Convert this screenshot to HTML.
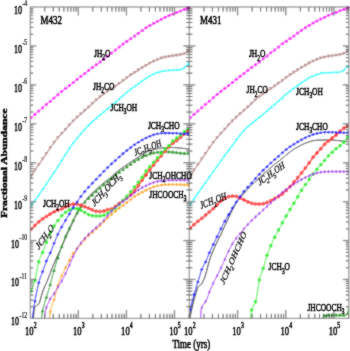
<!DOCTYPE html>
<html><head><meta charset="utf-8"><style>
html,body{margin:0;padding:0;background:#fff;}
svg{display:block;}
#w{width:350px;height:351px;overflow:hidden;}
</style></head><body><div id="w">
<svg xmlns="http://www.w3.org/2000/svg" width="350" height="351" viewBox="0 0 350 351">
<defs><filter id="bl" x="0" y="0" width="1" height="1"><feConvolveMatrix order="3" kernelMatrix="1 2 1 2 12 2 1 2 1" divisor="24" edgeMode="duplicate"/></filter><filter id="bl2" x="0" y="0" width="350" height="351" filterUnits="userSpaceOnUse"><feConvolveMatrix order="3" kernelMatrix="1 2 1 2 20 2 1 2 1" divisor="32" edgeMode="none"/></filter></defs>
<g filter="url(#bl)">
<rect width="350" height="351" fill="#fff"/>
<defs><clipPath id="cL"><rect x="30.30" y="7.00" width="159.00" height="311.40"/></clipPath><clipPath id="cR"><rect x="189.30" y="7.00" width="159.50" height="311.40"/></clipPath></defs>
<g clip-path="url(#cL)"><polyline points="30.30,118.50 30.70,118.15 31.10,117.80 31.50,117.44 31.90,117.09 32.30,116.72 32.70,116.36 33.10,116.00 33.50,115.64 33.90,115.27 34.30,114.91 34.70,114.56 35.10,114.20 35.50,113.85 35.90,113.50 36.30,113.15 36.70,112.80 37.10,112.45 37.50,112.11 37.90,111.76 38.30,111.42 38.70,111.07 39.10,110.73 39.50,110.39 39.90,110.05 40.30,109.71 40.70,109.37 41.10,109.04 41.50,108.70 41.90,108.36 42.30,108.02 42.70,107.67 43.10,107.32 43.50,106.97 43.90,106.61 44.30,106.25 44.70,105.88 45.10,105.52 45.50,105.16 45.90,104.80 46.30,104.45 46.70,104.10 47.10,103.76 47.50,103.43 47.90,103.10 48.30,102.78 48.70,102.45 49.10,102.13 49.50,101.81 49.90,101.48 50.30,101.15 50.70,100.82 51.10,100.48 51.50,100.13 51.90,99.78 52.30,99.44 52.70,99.09 53.10,98.74 53.50,98.39 53.90,98.04 54.30,97.70 54.70,97.36 55.10,97.02 55.50,96.69 55.90,96.35 56.30,96.02 56.70,95.69 57.10,95.35 57.50,95.02 57.90,94.68 58.30,94.35 58.70,94.01 59.10,93.66 59.50,93.32 59.90,92.98 60.30,92.63 60.70,92.29 61.10,91.95 61.50,91.62 61.90,91.28 62.30,90.95 62.70,90.62 63.10,90.29 63.50,89.97 63.90,89.64 64.30,89.32 64.70,89.00 65.10,88.69 65.50,88.38 65.90,88.07 66.30,87.77 66.70,87.47 67.10,87.18 67.50,86.89 67.90,86.60 68.30,86.31 68.70,86.02 69.10,85.73 69.50,85.43 69.90,85.12 70.30,84.82 70.70,84.50 71.10,84.19 71.50,83.88 71.90,83.56 72.30,83.24 72.70,82.92 73.10,82.60 73.50,82.28 73.90,81.96 74.30,81.64 74.70,81.31 75.10,80.98 75.50,80.65 75.90,80.33 76.30,80.00 76.70,79.68 77.10,79.36 77.50,79.04 77.90,78.73 78.30,78.42 78.70,78.11 79.10,77.80 79.50,77.50 79.90,77.19 80.30,76.89 80.70,76.58 81.10,76.28 81.50,75.97 81.90,75.67 82.30,75.36 82.70,75.06 83.10,74.75 83.50,74.45 83.90,74.15 84.30,73.84 84.70,73.53 85.10,73.22 85.50,72.91 85.90,72.59 86.30,72.28 86.70,71.96 87.10,71.64 87.50,71.32 87.90,71.00 88.30,70.69 88.70,70.38 89.10,70.07 89.50,69.76 89.90,69.46 90.30,69.16 90.70,68.86 91.10,68.56 91.50,68.26 91.90,67.97 92.30,67.67 92.70,67.38 93.10,67.09 93.50,66.80 93.90,66.52 94.30,66.23 94.70,65.95 95.10,65.66 95.50,65.38 95.90,65.09 96.30,64.80 96.70,64.51 97.10,64.22 97.50,63.93 97.90,63.64 98.30,63.34 98.70,63.05 99.10,62.75 99.50,62.45 99.90,62.15 100.30,61.85 100.70,61.54 101.10,61.22 101.50,60.90 101.90,60.58 102.30,60.26 102.70,59.93 103.10,59.61 103.50,59.29 103.90,58.98 104.30,58.67 104.70,58.36 105.10,58.05 105.50,57.74 105.90,57.44 106.30,57.13 106.70,56.83 107.10,56.52 107.50,56.21 107.90,55.90 108.30,55.59 108.70,55.27 109.10,54.96 109.50,54.64 109.90,54.32 110.30,54.00 110.70,53.69 111.10,53.37 111.50,53.06 111.90,52.74 112.30,52.43 112.70,52.13 113.10,51.82 113.50,51.51 113.90,51.21 114.30,50.90 114.70,50.60 115.10,50.29 115.50,49.98 115.90,49.67 116.30,49.35 116.70,49.04 117.10,48.72 117.50,48.41 117.90,48.09 118.30,47.77 118.70,47.45 119.10,47.14 119.50,46.82 119.90,46.50 120.30,46.18 120.70,45.86 121.10,45.53 121.50,45.21 121.90,44.90 122.30,44.58 122.70,44.28 123.10,43.98 123.50,43.68 123.90,43.39 124.30,43.10 124.70,42.81 125.10,42.53 125.50,42.25 125.90,41.97 126.30,41.69 126.70,41.41 127.10,41.13 127.50,40.86 127.90,40.58 128.30,40.31 128.70,40.05 129.10,39.78 129.50,39.51 129.90,39.24 130.30,38.97 130.70,38.70 131.10,38.43 131.50,38.16 131.90,37.89 132.30,37.61 132.70,37.34 133.10,37.06 133.50,36.78 133.90,36.51 134.30,36.23 134.70,35.94 135.10,35.66 135.50,35.37 135.90,35.07 136.30,34.78 136.70,34.48 137.10,34.18 137.50,33.88 137.90,33.58 138.30,33.29 138.70,33.00 139.10,32.71 139.50,32.43 139.90,32.15 140.30,31.87 140.70,31.60 141.10,31.32 141.50,31.04 141.90,30.76 142.30,30.48 142.70,30.20 143.10,29.91 143.50,29.62 143.90,29.32 144.30,29.03 144.70,28.73 145.10,28.45 145.50,28.17 145.90,27.90 146.30,27.63 146.70,27.37 147.10,27.12 147.50,26.86 147.90,26.61 148.30,26.36 148.70,26.12 149.10,25.88 149.50,25.64 149.90,25.40 150.30,25.17 150.70,24.93 151.10,24.71 151.50,24.48 151.90,24.26 152.30,24.03 152.70,23.81 153.10,23.59 153.50,23.37 153.90,23.15 154.30,22.94 154.70,22.72 155.10,22.50 155.50,22.28 155.90,22.07 156.30,21.85 156.70,21.64 157.10,21.43 157.50,21.21 157.90,21.00 158.30,20.79 158.70,20.57 159.10,20.36 159.50,20.15 159.90,19.93 160.30,19.72 160.70,19.51 161.10,19.31 161.50,19.10 161.90,18.90 162.30,18.70 162.70,18.50 163.10,18.30 163.50,18.11 163.90,17.92 164.30,17.72 164.70,17.53 165.10,17.34 165.50,17.15 165.90,16.96 166.30,16.76 166.70,16.57 167.10,16.37 167.50,16.18 167.90,15.99 168.30,15.80 168.70,15.62 169.10,15.44 169.50,15.27 169.90,15.11 170.30,14.94 170.70,14.78 171.10,14.62 171.50,14.47 171.90,14.32 172.30,14.16 172.70,14.01 173.10,13.86 173.50,13.72 173.90,13.57 174.30,13.43 174.70,13.30 175.10,13.16 175.50,13.02 175.90,12.88 176.30,12.73 176.70,12.58 177.10,12.42 177.50,12.25 177.90,12.07 178.30,11.89 178.70,11.70 179.10,11.52 179.50,11.34 179.90,11.16 180.30,11.00 180.70,10.84 181.10,10.69 181.50,10.54 181.90,10.39 182.30,10.25 182.70,10.11 183.10,9.97 183.50,9.83 183.90,9.70 184.30,9.57 184.70,9.44 185.10,9.31 185.50,9.19 185.90,9.07 186.30,8.95 186.70,8.83 187.10,8.71 187.50,8.59 187.90,8.46 188.30,8.33 188.70,8.20 189.10,8.07 189.30,8.00" fill="none" stroke="#ff00ff" stroke-width="1.0" stroke-linejoin="round"/><circle cx="31.10" cy="117.80" r="1.50" fill="#ff00ff"/><circle cx="34.93" cy="114.35" r="1.50" fill="#ff00ff"/><circle cx="38.76" cy="111.02" r="1.50" fill="#ff00ff"/><circle cx="42.59" cy="107.77" r="1.50" fill="#ff00ff"/><circle cx="46.42" cy="104.34" r="1.50" fill="#ff00ff"/><circle cx="50.25" cy="101.19" r="1.50" fill="#ff00ff"/><circle cx="54.08" cy="97.89" r="1.50" fill="#ff00ff"/><circle cx="57.91" cy="94.68" r="1.50" fill="#ff00ff"/><circle cx="61.74" cy="91.42" r="1.50" fill="#ff00ff"/><circle cx="65.57" cy="88.32" r="1.50" fill="#ff00ff"/><circle cx="69.40" cy="85.50" r="1.50" fill="#ff00ff"/><circle cx="73.23" cy="82.50" r="1.50" fill="#ff00ff"/><circle cx="77.06" cy="79.39" r="1.50" fill="#ff00ff"/><circle cx="80.89" cy="76.44" r="1.50" fill="#ff00ff"/><circle cx="84.72" cy="73.52" r="1.50" fill="#ff00ff"/><circle cx="88.55" cy="70.49" r="1.50" fill="#ff00ff"/><circle cx="92.38" cy="67.61" r="1.50" fill="#ff00ff"/><circle cx="96.21" cy="64.87" r="1.50" fill="#ff00ff"/><circle cx="100.04" cy="62.05" r="1.50" fill="#ff00ff"/><circle cx="103.87" cy="59.00" r="1.50" fill="#ff00ff"/><circle cx="107.70" cy="56.06" r="1.50" fill="#ff00ff"/><circle cx="111.53" cy="53.03" r="1.50" fill="#ff00ff"/><circle cx="115.36" cy="50.09" r="1.50" fill="#ff00ff"/><circle cx="119.19" cy="47.07" r="1.50" fill="#ff00ff"/><circle cx="123.02" cy="44.03" r="1.50" fill="#ff00ff"/><circle cx="126.85" cy="41.30" r="1.50" fill="#ff00ff"/><circle cx="130.68" cy="38.72" r="1.50" fill="#ff00ff"/><circle cx="134.51" cy="36.08" r="1.50" fill="#ff00ff"/><circle cx="138.34" cy="33.26" r="1.50" fill="#ff00ff"/><circle cx="142.17" cy="30.57" r="1.50" fill="#ff00ff"/><circle cx="146.00" cy="27.83" r="1.50" fill="#ff00ff"/><circle cx="149.83" cy="25.44" r="1.50" fill="#ff00ff"/><circle cx="153.66" cy="23.29" r="1.50" fill="#ff00ff"/><circle cx="157.49" cy="21.22" r="1.50" fill="#ff00ff"/><circle cx="161.32" cy="19.19" r="1.50" fill="#ff00ff"/><circle cx="165.15" cy="17.32" r="1.50" fill="#ff00ff"/><circle cx="168.98" cy="15.50" r="1.50" fill="#ff00ff"/><circle cx="172.81" cy="13.97" r="1.50" fill="#ff00ff"/><circle cx="176.64" cy="12.60" r="1.50" fill="#ff00ff"/><circle cx="180.47" cy="10.93" r="1.50" fill="#ff00ff"/><circle cx="184.30" cy="9.57" r="1.50" fill="#ff00ff"/><circle cx="188.13" cy="8.39" r="1.50" fill="#ff00ff"/></g>
<g clip-path="url(#cL)"><polyline points="30.30,177.40 30.70,176.85 31.10,176.29 31.50,175.70 31.90,175.07 32.30,174.43 32.70,173.76 33.10,173.08 33.50,172.40 33.90,171.73 34.30,171.07 34.70,170.42 35.10,169.80 35.50,169.20 35.90,168.62 36.30,168.06 36.70,167.50 37.10,166.95 37.50,166.40 37.90,165.85 38.30,165.29 38.70,164.73 39.10,164.16 39.50,163.57 39.90,162.99 40.30,162.40 40.70,161.81 41.10,161.21 41.50,160.62 41.90,160.02 42.30,159.43 42.70,158.85 43.10,158.26 43.50,157.68 43.90,157.11 44.30,156.53 44.70,155.96 45.10,155.38 45.50,154.81 45.90,154.23 46.30,153.65 46.70,153.06 47.10,152.46 47.50,151.86 47.90,151.26 48.30,150.66 48.70,150.06 49.10,149.46 49.50,148.87 49.90,148.29 50.30,147.71 50.70,147.14 51.10,146.57 51.50,146.01 51.90,145.45 52.30,144.89 52.70,144.34 53.10,143.80 53.50,143.26 53.90,142.74 54.30,142.22 54.70,141.70 55.10,141.19 55.50,140.69 55.90,140.19 56.30,139.69 56.70,139.21 57.10,138.73 57.50,138.25 57.90,137.78 58.30,137.32 58.70,136.87 59.10,136.43 59.50,135.99 59.90,135.56 60.30,135.13 60.70,134.70 61.10,134.27 61.50,133.84 61.90,133.40 62.30,132.96 62.70,132.52 63.10,132.09 63.50,131.65 63.90,131.21 64.30,130.77 64.70,130.33 65.10,129.89 65.50,129.45 65.90,129.00 66.30,128.55 66.70,128.09 67.10,127.64 67.50,127.18 67.90,126.72 68.30,126.26 68.70,125.80 69.10,125.35 69.50,124.91 69.90,124.47 70.30,124.04 70.70,123.61 71.10,123.18 71.50,122.75 71.90,122.33 72.30,121.92 72.70,121.51 73.10,121.10 73.50,120.70 73.90,120.31 74.30,119.92 74.70,119.53 75.10,119.15 75.50,118.77 75.90,118.40 76.30,118.02 76.70,117.65 77.10,117.28 77.50,116.92 77.90,116.55 78.30,116.19 78.70,115.83 79.10,115.47 79.50,115.11 79.90,114.76 80.30,114.41 80.70,114.05 81.10,113.70 81.50,113.35 81.90,113.00 82.30,112.65 82.70,112.30 83.10,111.96 83.50,111.61 83.90,111.27 84.30,110.92 84.70,110.57 85.10,110.23 85.50,109.88 85.90,109.54 86.30,109.20 86.70,108.86 87.10,108.52 87.50,108.17 87.90,107.82 88.30,107.46 88.70,107.10 89.10,106.73 89.50,106.35 89.90,105.96 90.30,105.57 90.70,105.18 91.10,104.78 91.50,104.39 91.90,103.99 92.30,103.60 92.70,103.21 93.10,102.81 93.50,102.41 93.90,102.01 94.30,101.61 94.70,101.22 95.10,100.84 95.50,100.48 95.90,100.13 96.30,99.78 96.70,99.45 97.10,99.12 97.50,98.80 97.90,98.49 98.30,98.18 98.70,97.87 99.10,97.56 99.50,97.25 99.90,96.95 100.30,96.65 100.70,96.35 101.10,96.05 101.50,95.76 101.90,95.47 102.30,95.18 102.70,94.89 103.10,94.60 103.50,94.30 103.90,94.00 104.30,93.70 104.70,93.39 105.10,93.08 105.50,92.78 105.90,92.47 106.30,92.18 106.70,91.88 107.10,91.60 107.50,91.32 107.90,91.06 108.30,90.79 108.70,90.53 109.10,90.28 109.50,90.02 109.90,89.77 110.30,89.52 110.70,89.26 111.10,89.00 111.50,88.74 111.90,88.48 112.30,88.22 112.70,87.96 113.10,87.70 113.50,87.44 113.90,87.18 114.30,86.91 114.70,86.64 115.10,86.36 115.50,86.08 115.90,85.79 116.30,85.49 116.70,85.20 117.10,84.90 117.50,84.60 117.90,84.31 118.30,84.02 118.70,83.73 119.10,83.45 119.50,83.17 119.90,82.89 120.30,82.62 120.70,82.34 121.10,82.06 121.50,81.79 121.90,81.50 122.30,81.22 122.70,80.93 123.10,80.63 123.50,80.32 123.90,80.02 124.30,79.71 124.70,79.39 125.10,79.08 125.50,78.77 125.90,78.46 126.30,78.15 126.70,77.85 127.10,77.55 127.50,77.24 127.90,76.94 128.30,76.64 128.70,76.33 129.10,76.04 129.50,75.74 129.90,75.46 130.30,75.17 130.70,74.90 131.10,74.63 131.50,74.37 131.90,74.12 132.30,73.87 132.70,73.63 133.10,73.38 133.50,73.14 133.90,72.90 134.30,72.65 134.70,72.40 135.10,72.15 135.50,71.90 135.90,71.64 136.30,71.39 136.70,71.14 137.10,70.89 137.50,70.63 137.90,70.38 138.30,70.13 138.70,69.87 139.10,69.62 139.50,69.36 139.90,69.10 140.30,68.84 140.70,68.58 141.10,68.32 141.50,68.07 141.90,67.82 142.30,67.58 142.70,67.34 143.10,67.11 143.50,66.88 143.90,66.65 144.30,66.42 144.70,66.20 145.10,65.97 145.50,65.74 145.90,65.52 146.30,65.28 146.70,65.05 147.10,64.82 147.50,64.58 147.90,64.34 148.30,64.11 148.70,63.88 149.10,63.65 149.50,63.42 149.90,63.20 150.30,62.98 150.70,62.77 151.10,62.55 151.50,62.34 151.90,62.14 152.30,61.93 152.70,61.73 153.10,61.54 153.50,61.35 153.90,61.16 154.30,60.98 154.70,60.81 155.10,60.64 155.50,60.47 155.90,60.30 156.30,60.13 156.70,59.97 157.10,59.81 157.50,59.64 157.90,59.47 158.30,59.30 158.70,59.12 159.10,58.95 159.50,58.78 159.90,58.61 160.30,58.45 160.70,58.30 161.10,58.16 161.50,58.04 161.90,57.93 162.30,57.83 162.70,57.73 163.10,57.63 163.50,57.55 163.90,57.46 164.30,57.37 164.70,57.29 165.10,57.20 165.50,57.11 165.90,57.02 166.30,56.93 166.70,56.85 167.10,56.76 167.50,56.68 167.90,56.60 168.30,56.52 168.70,56.45 169.10,56.38 169.50,56.33 169.90,56.27 170.30,56.22 170.70,56.17 171.10,56.12 171.50,56.08 171.90,56.03 172.30,55.98 172.70,55.93 173.10,55.87 173.50,55.81 173.90,55.75 174.30,55.69 174.70,55.62 175.10,55.56 175.50,55.49 175.90,55.43 176.30,55.36 176.70,55.30 177.10,55.24 177.50,55.18 177.90,55.13 178.30,55.07 178.70,55.02 179.10,54.96 179.50,54.90 179.90,54.83 180.30,54.76 180.70,54.68 181.10,54.59 181.50,54.50 181.90,54.40 182.30,54.30 182.70,54.18 183.10,54.06 183.50,53.93 183.90,53.79 184.30,53.64 184.70,53.47 185.10,53.28 185.50,53.06 185.90,52.83 186.30,52.58 186.70,52.32 187.10,52.05 187.50,51.79 187.90,51.54 188.30,51.27 188.70,51.01 189.10,50.73 189.30,50.60" fill="none" stroke="#bc8f8f" stroke-width="1.2" stroke-linejoin="round"/><path d="M29.25,174.81L32.95,174.81L31.10,178.14Z" fill="#bc8f8f"/><path d="M33.08,168.58L36.78,168.58L34.93,171.91Z" fill="#bc8f8f"/><path d="M36.91,163.16L40.61,163.16L38.76,166.49Z" fill="#bc8f8f"/><path d="M40.74,157.53L44.44,157.53L42.59,160.86Z" fill="#bc8f8f"/><path d="M44.57,151.99L48.27,151.99L46.42,155.32Z" fill="#bc8f8f"/><path d="M48.40,146.30L52.10,146.30L50.25,149.63Z" fill="#bc8f8f"/><path d="M52.23,141.02L55.93,141.02L54.08,144.35Z" fill="#bc8f8f"/><path d="M56.06,136.29L59.76,136.29L57.91,139.62Z" fill="#bc8f8f"/><path d="M59.89,132.10L63.59,132.10L61.74,135.43Z" fill="#bc8f8f"/><path d="M63.72,127.89L67.42,127.89L65.57,131.22Z" fill="#bc8f8f"/><path d="M67.55,123.54L71.25,123.54L69.40,126.87Z" fill="#bc8f8f"/><path d="M71.38,119.49L75.08,119.49L73.23,122.82Z" fill="#bc8f8f"/><path d="M75.21,115.84L78.91,115.84L77.06,119.17Z" fill="#bc8f8f"/><path d="M79.04,112.41L82.74,112.41L80.89,115.74Z" fill="#bc8f8f"/><path d="M82.87,109.08L86.57,109.08L84.72,112.41Z" fill="#bc8f8f"/><path d="M86.70,105.76L90.40,105.76L88.55,109.09Z" fill="#bc8f8f"/><path d="M90.53,102.04L94.23,102.04L92.38,105.37Z" fill="#bc8f8f"/><path d="M94.36,98.38L98.06,98.38L96.21,101.71Z" fill="#bc8f8f"/><path d="M98.19,95.36L101.89,95.36L100.04,98.69Z" fill="#bc8f8f"/><path d="M102.02,92.54L105.72,92.54L103.87,95.87Z" fill="#bc8f8f"/><path d="M105.85,89.71L109.55,89.71L107.70,93.04Z" fill="#bc8f8f"/><path d="M109.68,87.24L113.38,87.24L111.53,90.57Z" fill="#bc8f8f"/><path d="M113.51,84.70L117.21,84.70L115.36,88.03Z" fill="#bc8f8f"/><path d="M117.34,81.90L121.04,81.90L119.19,85.23Z" fill="#bc8f8f"/><path d="M121.17,79.21L124.87,79.21L123.02,82.54Z" fill="#bc8f8f"/><path d="M125.00,76.26L128.70,76.26L126.85,79.59Z" fill="#bc8f8f"/><path d="M128.83,73.43L132.53,73.43L130.68,76.76Z" fill="#bc8f8f"/><path d="M132.66,71.04L136.36,71.04L134.51,74.37Z" fill="#bc8f8f"/><path d="M136.49,68.62L140.19,68.62L138.34,71.95Z" fill="#bc8f8f"/><path d="M140.32,66.18L144.02,66.18L142.17,69.51Z" fill="#bc8f8f"/><path d="M144.15,63.98L147.85,63.98L146.00,67.31Z" fill="#bc8f8f"/><path d="M147.98,61.76L151.68,61.76L149.83,65.09Z" fill="#bc8f8f"/><path d="M151.81,59.79L155.51,59.79L153.66,63.12Z" fill="#bc8f8f"/><path d="M155.64,58.17L159.34,58.17L157.49,61.50Z" fill="#bc8f8f"/><path d="M159.47,56.61L163.17,56.61L161.32,59.94Z" fill="#bc8f8f"/><path d="M163.30,55.71L167.00,55.71L165.15,59.04Z" fill="#bc8f8f"/><path d="M167.13,54.92L170.83,54.92L168.98,58.25Z" fill="#bc8f8f"/><path d="M170.96,54.43L174.66,54.43L172.81,57.76Z" fill="#bc8f8f"/><path d="M174.79,53.83L178.49,53.83L176.64,57.16Z" fill="#bc8f8f"/><path d="M178.62,53.25L182.32,53.25L180.47,56.58Z" fill="#bc8f8f"/><path d="M182.45,52.16L186.15,52.16L184.30,55.49Z" fill="#bc8f8f"/><path d="M186.28,49.91L189.98,49.91L188.13,53.24Z" fill="#bc8f8f"/></g>
<g clip-path="url(#cL)"><polyline points="30.30,206.50 30.70,206.05 31.10,205.58 31.50,205.09 31.90,204.59 32.30,204.09 32.70,203.57 33.10,203.05 33.50,202.52 33.90,201.99 34.30,201.45 34.70,200.91 35.10,200.36 35.50,199.81 35.90,199.25 36.30,198.69 36.70,198.12 37.10,197.54 37.50,196.96 37.90,196.38 38.30,195.80 38.70,195.22 39.10,194.64 39.50,194.06 39.90,193.47 40.30,192.89 40.70,192.31 41.10,191.72 41.50,191.14 41.90,190.55 42.30,189.96 42.70,189.37 43.10,188.79 43.50,188.20 43.90,187.61 44.30,187.03 44.70,186.45 45.10,185.86 45.50,185.28 45.90,184.70 46.30,184.11 46.70,183.52 47.10,182.94 47.50,182.34 47.90,181.75 48.30,181.15 48.70,180.55 49.10,179.95 49.50,179.34 49.90,178.73 50.30,178.12 50.70,177.51 51.10,176.90 51.50,176.28 51.90,175.67 52.30,175.06 52.70,174.46 53.10,173.85 53.50,173.25 53.90,172.64 54.30,172.05 54.70,171.45 55.10,170.85 55.50,170.25 55.90,169.65 56.30,169.05 56.70,168.45 57.10,167.84 57.50,167.23 57.90,166.62 58.30,166.00 58.70,165.37 59.10,164.74 59.50,164.10 59.90,163.46 60.30,162.81 60.70,162.16 61.10,161.51 61.50,160.86 61.90,160.20 62.30,159.55 62.70,158.90 63.10,158.25 63.50,157.60 63.90,156.95 64.30,156.31 64.70,155.67 65.10,155.04 65.50,154.41 65.90,153.78 66.30,153.15 66.70,152.52 67.10,151.89 67.50,151.27 67.90,150.65 68.30,150.03 68.70,149.43 69.10,148.82 69.50,148.23 69.90,147.64 70.30,147.07 70.70,146.50 71.10,145.93 71.50,145.37 71.90,144.82 72.30,144.27 72.70,143.72 73.10,143.19 73.50,142.66 73.90,142.14 74.30,141.63 74.70,141.12 75.10,140.62 75.50,140.13 75.90,139.64 76.30,139.16 76.70,138.69 77.10,138.22 77.50,137.75 77.90,137.29 78.30,136.82 78.70,136.37 79.10,135.91 79.50,135.45 79.90,135.00 80.30,134.54 80.70,134.09 81.10,133.63 81.50,133.17 81.90,132.71 82.30,132.25 82.70,131.79 83.10,131.32 83.50,130.86 83.90,130.40 84.30,129.94 84.70,129.48 85.10,129.03 85.50,128.58 85.90,128.13 86.30,127.69 86.70,127.26 87.10,126.83 87.50,126.41 87.90,126.00 88.30,125.60 88.70,125.20 89.10,124.82 89.50,124.43 89.90,124.06 90.30,123.68 90.70,123.32 91.10,122.95 91.50,122.59 91.90,122.23 92.30,121.88 92.70,121.52 93.10,121.17 93.50,120.82 93.90,120.47 94.30,120.12 94.70,119.76 95.10,119.41 95.50,119.06 95.90,118.71 96.30,118.36 96.70,118.01 97.10,117.66 97.50,117.31 97.90,116.97 98.30,116.62 98.70,116.28 99.10,115.94 99.50,115.60 99.90,115.26 100.30,114.92 100.70,114.58 101.10,114.24 101.50,113.90 101.90,113.56 102.30,113.23 102.70,112.89 103.10,112.55 103.50,112.22 103.90,111.88 104.30,111.55 104.70,111.22 105.10,110.89 105.50,110.56 105.90,110.23 106.30,109.90 106.70,109.57 107.10,109.25 107.50,108.92 107.90,108.60 108.30,108.27 108.70,107.95 109.10,107.62 109.50,107.30 109.90,106.97 110.30,106.64 110.70,106.32 111.10,105.99 111.50,105.66 111.90,105.33 112.30,105.00 112.70,104.67 113.10,104.33 113.50,104.00 113.90,103.66 114.30,103.33 114.70,102.99 115.10,102.66 115.50,102.32 115.90,101.99 116.30,101.65 116.70,101.31 117.10,100.97 117.50,100.64 117.90,100.29 118.30,99.95 118.70,99.61 119.10,99.26 119.50,98.92 119.90,98.57 120.30,98.22 120.70,97.87 121.10,97.51 121.50,97.15 121.90,96.78 122.30,96.41 122.70,96.04 123.10,95.66 123.50,95.28 123.90,94.91 124.30,94.53 124.70,94.16 125.10,93.80 125.50,93.44 125.90,93.09 126.30,92.74 126.70,92.40 127.10,92.06 127.50,91.73 127.90,91.40 128.30,91.08 128.70,90.75 129.10,90.43 129.50,90.12 129.90,89.81 130.30,89.50 130.70,89.20 131.10,88.90 131.50,88.61 131.90,88.32 132.30,88.03 132.70,87.75 133.10,87.47 133.50,87.18 133.90,86.90 134.30,86.62 134.70,86.33 135.10,86.04 135.50,85.75 135.90,85.47 136.30,85.18 136.70,84.89 137.10,84.60 137.50,84.32 137.90,84.03 138.30,83.74 138.70,83.46 139.10,83.17 139.50,82.88 139.90,82.58 140.30,82.29 140.70,82.00 141.10,81.71 141.50,81.43 141.90,81.15 142.30,80.87 142.70,80.60 143.10,80.33 143.50,80.06 143.90,79.80 144.30,79.54 144.70,79.28 145.10,79.03 145.50,78.77 145.90,78.52 146.30,78.26 146.70,78.01 147.10,77.75 147.50,77.49 147.90,77.24 148.30,76.98 148.70,76.73 149.10,76.48 149.50,76.25 149.90,76.02 150.30,75.80 150.70,75.59 151.10,75.38 151.50,75.17 151.90,74.97 152.30,74.76 152.70,74.56 153.10,74.36 153.50,74.17 153.90,73.98 154.30,73.79 154.70,73.61 155.10,73.43 155.50,73.26 155.90,73.09 156.30,72.93 156.70,72.78 157.10,72.63 157.50,72.49 157.90,72.36 158.30,72.24 158.70,72.12 159.10,72.01 159.50,71.91 159.90,71.81 160.30,71.72 160.70,71.63 161.10,71.54 161.50,71.46 161.90,71.37 162.30,71.29 162.70,71.21 163.10,71.13 163.50,71.06 163.90,70.98 164.30,70.92 164.70,70.86 165.10,70.80 165.50,70.75 165.90,70.70 166.30,70.64 166.70,70.60 167.10,70.55 167.50,70.51 167.90,70.47 168.30,70.44 168.70,70.41 169.10,70.40 169.50,70.38 169.90,70.37 170.30,70.36 170.70,70.35 171.10,70.34 171.50,70.34 171.90,70.33 172.30,70.32 172.70,70.31 173.10,70.29 173.50,70.28 173.90,70.26 174.30,70.24 174.70,70.22 175.10,70.20 175.50,70.18 175.90,70.16 176.30,70.13 176.70,70.10 177.10,70.07 177.50,70.03 177.90,70.00 178.30,69.96 178.70,69.91 179.10,69.86 179.50,69.80 179.90,69.73 180.30,69.66 180.70,69.58 181.10,69.47 181.50,69.32 181.90,69.14 182.30,68.94 182.70,68.71 183.10,68.47 183.50,68.21 183.90,67.94 184.30,67.67 184.70,67.38 185.10,67.06 185.50,66.70 185.90,66.32 186.30,65.91 186.70,65.48 187.10,65.04 187.50,64.60 187.90,64.15 188.30,63.70 188.70,63.23 189.10,62.74 189.30,62.50" fill="none" stroke="#00ffff" stroke-width="1.2" stroke-linejoin="round"/><path d="M29.80,205.58L31.10,204.28L32.40,205.58L31.10,206.88Z" fill="#00ffff"/><path d="M33.63,200.60L34.93,199.30L36.23,200.60L34.93,201.90Z" fill="#00ffff"/><path d="M37.46,195.13L38.76,193.83L40.06,195.13L38.76,196.43Z" fill="#00ffff"/><path d="M41.29,189.54L42.59,188.24L43.89,189.54L42.59,190.84Z" fill="#00ffff"/><path d="M45.12,183.94L46.42,182.64L47.72,183.94L46.42,185.24Z" fill="#00ffff"/><path d="M48.95,178.20L50.25,176.90L51.55,178.20L50.25,179.50Z" fill="#00ffff"/><path d="M52.78,172.37L54.08,171.07L55.38,172.37L54.08,173.67Z" fill="#00ffff"/><path d="M56.61,166.60L57.91,165.30L59.21,166.60L57.91,167.90Z" fill="#00ffff"/><path d="M60.44,160.47L61.74,159.17L63.04,160.47L61.74,161.77Z" fill="#00ffff"/><path d="M64.27,154.30L65.57,153.00L66.87,154.30L65.57,155.60Z" fill="#00ffff"/><path d="M68.10,148.38L69.40,147.08L70.70,148.38L69.40,149.68Z" fill="#00ffff"/><path d="M71.93,143.02L73.23,141.72L74.53,143.02L73.23,144.32Z" fill="#00ffff"/><path d="M75.76,138.26L77.06,136.96L78.36,138.26L77.06,139.56Z" fill="#00ffff"/><path d="M79.59,133.87L80.89,132.57L82.19,133.87L80.89,135.17Z" fill="#00ffff"/><path d="M83.42,129.46L84.72,128.16L86.02,129.46L84.72,130.76Z" fill="#00ffff"/><path d="M87.25,125.35L88.55,124.05L89.85,125.35L88.55,126.65Z" fill="#00ffff"/><path d="M91.08,121.81L92.38,120.51L93.68,121.81L92.38,123.11Z" fill="#00ffff"/><path d="M94.91,118.44L96.21,117.14L97.51,118.44L96.21,119.74Z" fill="#00ffff"/><path d="M98.74,115.14L100.04,113.84L101.34,115.14L100.04,116.44Z" fill="#00ffff"/><path d="M102.57,111.91L103.87,110.61L105.17,111.91L103.87,113.21Z" fill="#00ffff"/><path d="M106.40,108.76L107.70,107.46L109.00,108.76L107.70,110.06Z" fill="#00ffff"/><path d="M110.23,105.64L111.53,104.34L112.83,105.64L111.53,106.94Z" fill="#00ffff"/><path d="M114.06,102.44L115.36,101.14L116.66,102.44L115.36,103.74Z" fill="#00ffff"/><path d="M117.89,99.19L119.19,97.89L120.49,99.19L119.19,100.49Z" fill="#00ffff"/><path d="M121.72,95.74L123.02,94.44L124.32,95.74L123.02,97.04Z" fill="#00ffff"/><path d="M125.55,92.27L126.85,90.97L128.15,92.27L126.85,93.57Z" fill="#00ffff"/><path d="M129.38,89.21L130.68,87.91L131.98,89.21L130.68,90.51Z" fill="#00ffff"/><path d="M133.21,86.46L134.51,85.16L135.81,86.46L134.51,87.76Z" fill="#00ffff"/><path d="M137.04,83.71L138.34,82.41L139.64,83.71L138.34,85.01Z" fill="#00ffff"/><path d="M140.87,80.96L142.17,79.66L143.47,80.96L142.17,82.26Z" fill="#00ffff"/><path d="M144.70,78.45L146.00,77.15L147.30,78.45L146.00,79.75Z" fill="#00ffff"/><path d="M148.53,76.06L149.83,74.76L151.13,76.06L149.83,77.36Z" fill="#00ffff"/><path d="M152.36,74.09L153.66,72.79L154.96,74.09L153.66,75.39Z" fill="#00ffff"/><path d="M156.19,72.50L157.49,71.20L158.79,72.50L157.49,73.80Z" fill="#00ffff"/><path d="M160.02,71.50L161.32,70.20L162.62,71.50L161.32,72.80Z" fill="#00ffff"/><path d="M163.85,70.79L165.15,69.49L166.45,70.79L165.15,72.09Z" fill="#00ffff"/><path d="M167.68,70.40L168.98,69.10L170.28,70.40L168.98,71.70Z" fill="#00ffff"/><path d="M171.51,70.30L172.81,69.00L174.11,70.30L172.81,71.60Z" fill="#00ffff"/><path d="M175.34,70.10L176.64,68.80L177.94,70.10L176.64,71.40Z" fill="#00ffff"/><path d="M179.17,69.63L180.47,68.33L181.77,69.63L180.47,70.93Z" fill="#00ffff"/><path d="M183.00,67.67L184.30,66.37L185.60,67.67L184.30,68.97Z" fill="#00ffff"/><path d="M186.83,63.89L188.13,62.59L189.43,63.89L188.13,65.19Z" fill="#00ffff"/></g>
<g clip-path="url(#cL)"><polyline points="33.30,318.50 33.70,314.12 34.10,309.93 34.50,307.96 34.90,307.21 35.30,306.71 35.70,306.30 36.10,305.91 36.50,305.57 36.90,305.27 37.30,304.96 37.70,304.64 38.10,304.35 38.50,304.06 38.90,303.70 39.30,303.20 39.70,302.15 40.10,300.56 40.50,299.00 40.90,297.63 41.30,296.25 41.70,294.88 42.10,293.54 42.50,292.26 42.90,291.06 43.30,289.96 43.70,288.93 44.10,287.96 44.50,287.04 44.90,286.14 45.30,285.27 45.70,284.41 46.10,283.53 46.50,282.64 46.90,281.72 47.30,280.75 47.70,279.75 48.10,278.73 48.50,277.68 48.90,276.62 49.30,275.56 49.70,274.49 50.10,273.41 50.50,272.35 50.90,271.30 51.30,270.26 51.70,269.24 52.10,268.25 52.50,267.28 52.90,266.31 53.30,265.35 53.70,264.40 54.10,263.46 54.50,262.52 54.90,261.60 55.30,260.68 55.70,259.77 56.10,258.87 56.50,257.98 56.90,257.09 57.30,256.22 57.70,255.36 58.10,254.52 58.50,253.71 58.90,252.90 59.30,252.09 59.70,251.27 60.10,250.43 60.50,249.56 60.90,248.67 61.30,247.77 61.70,246.85 62.10,245.92 62.50,244.99 62.90,244.05 63.30,243.12 63.70,242.19 64.10,241.27 64.50,240.35 64.90,239.43 65.30,238.50 65.70,237.58 66.10,236.65 66.50,235.74 66.90,234.84 67.30,233.94 67.70,233.06 68.10,232.20 68.50,231.34 68.90,230.50 69.30,229.66 69.70,228.82 70.10,227.98 70.50,227.14 70.90,226.29 71.30,225.42 71.70,224.54 72.10,223.65 72.50,222.76 72.90,221.88 73.30,221.01 73.70,220.15 74.10,219.31 74.50,218.50 74.90,217.71 75.30,216.94 75.70,216.18 76.10,215.44 76.50,214.71 76.90,213.98 77.30,213.27 77.70,212.56 78.10,211.85 78.50,211.15 78.90,210.45 79.30,209.74 79.70,209.05 80.10,208.36 80.50,207.68 80.90,207.02 81.30,206.38 81.70,205.75 82.10,205.15 82.50,204.57 82.90,204.01 83.30,203.47 83.70,202.94 84.10,202.42 84.50,201.90 84.90,201.39 85.30,200.89 85.70,200.38 86.10,199.87 86.50,199.36 86.90,198.84 87.30,198.32 87.70,197.82 88.10,197.32 88.50,196.85 88.90,196.41 89.30,195.99 89.70,195.60 90.10,195.22 90.50,194.86 90.90,194.51 91.30,194.16 91.70,193.82 92.10,193.46 92.50,193.09 92.90,192.71 93.30,192.33 93.70,191.94 94.10,191.55 94.50,191.15 94.90,190.75 95.30,190.36 95.70,189.97 96.10,189.59 96.50,189.21 96.90,188.83 97.30,188.45 97.70,188.08 98.10,187.71 98.50,187.34 98.90,186.98 99.30,186.62 99.70,186.26 100.10,185.91 100.50,185.57 100.90,185.23 101.30,184.90 101.70,184.56 102.10,184.24 102.50,183.91 102.90,183.59 103.30,183.26 103.70,182.94 104.10,182.62 104.50,182.30 104.90,181.99 105.30,181.68 105.70,181.37 106.10,181.06 106.50,180.76 106.90,180.45 107.30,180.15 107.70,179.84 108.10,179.53 108.50,179.22 108.90,178.90 109.30,178.58 109.70,178.25 110.10,177.92 110.50,177.57 110.90,177.22 111.30,176.86 111.70,176.49 112.10,176.13 112.50,175.75 112.90,175.38 113.30,175.01 113.70,174.65 114.10,174.29 114.50,173.93 114.90,173.59 115.30,173.25 115.70,172.91 116.10,172.58 116.50,172.25 116.90,171.92 117.30,171.60 117.70,171.28 118.10,170.96 118.50,170.65 118.90,170.34 119.30,170.03 119.70,169.73 120.10,169.43 120.50,169.13 120.90,168.84 121.30,168.56 121.70,168.28 122.10,168.00 122.50,167.72 122.90,167.45 123.30,167.17 123.70,166.90 124.10,166.62 124.50,166.35 124.90,166.07 125.30,165.79 125.70,165.51 126.10,165.23 126.50,164.94 126.90,164.66 127.30,164.38 127.70,164.10 128.10,163.81 128.50,163.53 128.90,163.26 129.30,162.98 129.70,162.70 130.10,162.43 130.50,162.16 130.90,161.90 131.30,161.63 131.70,161.37 132.10,161.11 132.50,160.84 132.90,160.58 133.30,160.32 133.70,160.06 134.10,159.80 134.50,159.53 134.90,159.27 135.30,159.00 135.70,158.73 136.10,158.46 136.50,158.18 136.90,157.91 137.30,157.63 137.70,157.36 138.10,157.08 138.50,156.81 138.90,156.54 139.30,156.27 139.70,156.00 140.10,155.73 140.50,155.46 140.90,155.19 141.30,154.92 141.70,154.64 142.10,154.38 142.50,154.11 142.90,153.86 143.30,153.62 143.70,153.40 144.10,153.19 144.50,152.98 144.90,152.77 145.30,152.57 145.70,152.38 146.10,152.19 146.50,152.01 146.90,151.83 147.30,151.66 147.70,151.49 148.10,151.33 148.50,151.18 148.90,151.04 149.30,150.90 149.70,150.76 150.10,150.63 150.50,150.51 150.90,150.39 151.30,150.27 151.70,150.16 152.10,150.05 152.50,149.94 152.90,149.83 153.30,149.73 153.70,149.63 154.10,149.53 154.50,149.42 154.90,149.32 155.30,149.22 155.70,149.12 156.10,149.02 156.50,148.92 156.90,148.83 157.30,148.73 157.70,148.64 158.10,148.55 158.50,148.47 158.90,148.39 159.30,148.31 159.70,148.25 160.10,148.19 160.50,148.12 160.90,148.06 161.30,148.00 161.70,147.94 162.10,147.88 162.50,147.83 162.90,147.77 163.30,147.72 163.70,147.67 164.10,147.63 164.50,147.59 164.90,147.56 165.30,147.53 165.70,147.51 166.10,147.50 166.50,147.50 166.90,147.50 167.30,147.50 167.70,147.50 168.10,147.50 168.50,147.50 168.90,147.50 169.30,147.50 169.70,147.50 170.10,147.50 170.50,147.50 170.90,147.50 171.30,147.50 171.70,147.50 172.10,147.50 172.50,147.51 172.90,147.52 173.30,147.53 173.70,147.55 174.10,147.58 174.50,147.61 174.90,147.64 175.30,147.68 175.70,147.71 176.10,147.75 176.50,147.79 176.90,147.82 177.30,147.86 177.70,147.89 178.10,147.92 178.50,147.96 178.90,147.99 179.30,148.03 179.70,148.07 180.10,148.10 180.50,148.14 180.90,148.18 181.30,148.22 181.70,148.26 182.10,148.30 182.50,148.34 182.90,148.39 183.30,148.43 183.70,148.47 184.10,148.51 184.50,148.55 184.90,148.60 185.30,148.64 185.70,148.69 186.10,148.73 186.50,148.78 186.90,148.82 187.30,148.87 187.70,148.92 188.10,148.96 188.50,149.01 188.90,149.05 189.30,149.10" fill="none" stroke="#000000" stroke-width="1" stroke-linejoin="round"/></g>
<g clip-path="url(#cL)"><polyline points="41.40,318.50 41.80,315.80 42.20,313.09 42.60,310.75 43.00,308.92 43.40,307.34 43.80,305.91 44.20,304.54 44.60,303.15 45.00,301.75 45.40,300.40 45.80,299.07 46.20,297.77 46.60,296.48 47.00,295.24 47.40,294.03 47.80,292.83 48.20,291.61 48.60,290.33 49.00,288.97 49.40,287.55 49.80,286.07 50.20,284.58 50.60,283.10 51.00,281.61 51.40,280.11 51.80,278.61 52.20,277.11 52.60,275.63 53.00,274.17 53.40,272.71 53.80,271.27 54.20,269.85 54.60,268.45 55.00,267.05 55.40,265.66 55.80,264.30 56.20,262.97 56.60,261.68 57.00,260.45 57.40,259.26 57.80,258.08 58.20,256.90 58.60,255.70 59.00,254.49 59.40,253.28 59.80,252.06 60.20,250.85 60.60,249.65 61.00,248.47 61.40,247.30 61.80,246.16 62.20,245.05 62.60,243.94 63.00,242.85 63.40,241.77 63.80,240.71 64.20,239.66 64.60,238.63 65.00,237.62 65.40,236.63 65.80,235.67 66.20,234.74 66.60,233.83 67.00,232.94 67.40,232.08 67.80,231.23 68.20,230.39 68.60,229.57 69.00,228.75 69.40,227.93 69.80,227.11 70.20,226.29 70.60,225.47 71.00,224.66 71.40,223.86 71.80,223.05 72.20,222.26 72.60,221.46 73.00,220.67 73.40,219.88 73.80,219.09 74.20,218.30 74.60,217.51 75.00,216.70 75.40,215.90 75.80,215.10 76.20,214.31 76.60,213.54 77.00,212.78 77.40,212.05 77.80,211.35 78.20,210.66 78.60,209.98 79.00,209.31 79.40,208.66 79.80,208.03 80.20,207.42 80.60,206.85 81.00,206.30 81.40,205.78 81.80,205.29 82.20,204.82 82.60,204.36 83.00,203.92 83.40,203.49 83.80,203.07 84.20,202.64 84.60,202.22 85.00,201.79 85.40,201.36 85.80,200.93 86.20,200.50 86.60,200.08 87.00,199.66 87.40,199.25 87.80,198.85 88.20,198.46 88.60,198.09 89.00,197.74 89.40,197.40 89.80,197.09 90.20,196.78 90.60,196.48 91.00,196.18 91.40,195.87 91.80,195.56 92.20,195.24 92.60,194.90 93.00,194.54 93.40,194.16 93.80,193.77 94.20,193.37 94.60,192.96 95.00,192.56 95.40,192.16 95.80,191.76 96.20,191.38 96.60,191.02 97.00,190.67 97.40,190.32 97.80,189.98 98.20,189.65 98.60,189.31 99.00,188.98 99.40,188.65 99.80,188.31 100.20,187.97 100.60,187.63 101.00,187.27 101.40,186.91 101.80,186.55 102.20,186.19 102.60,185.83 103.00,185.48 103.40,185.12 103.80,184.77 104.20,184.43 104.60,184.09 105.00,183.76 105.40,183.43 105.80,183.11 106.20,182.78 106.60,182.46 107.00,182.13 107.40,181.80 107.80,181.47 108.20,181.13 108.60,180.78 109.00,180.44 109.40,180.08 109.80,179.73 110.20,179.38 110.60,179.02 111.00,178.67 111.40,178.32 111.80,177.97 112.20,177.63 112.60,177.28 113.00,176.94 113.40,176.59 113.80,176.25 114.20,175.91 114.60,175.57 115.00,175.24 115.40,174.92 115.80,174.60 116.20,174.29 116.60,173.99 117.00,173.69 117.40,173.39 117.80,173.10 118.20,172.82 118.60,172.53 119.00,172.25 119.40,171.97 119.80,171.69 120.20,171.42 120.60,171.15 121.00,170.88 121.40,170.62 121.80,170.36 122.20,170.09 122.60,169.82 123.00,169.55 123.40,169.27 123.80,168.98 124.20,168.69 124.60,168.39 125.00,168.08 125.40,167.78 125.80,167.48 126.20,167.18 126.60,166.88 127.00,166.60 127.40,166.33 127.80,166.06 128.20,165.80 128.60,165.55 129.00,165.29 129.40,165.04 129.80,164.79 130.20,164.53 130.60,164.27 131.00,164.00 131.40,163.72 131.80,163.44 132.20,163.14 132.60,162.85 133.00,162.55 133.40,162.26 133.80,161.98 134.20,161.70 134.60,161.43 135.00,161.18 135.40,160.93 135.80,160.68 136.20,160.44 136.60,160.20 137.00,159.96 137.40,159.73 137.80,159.49 138.20,159.26 138.60,159.02 139.00,158.78 139.40,158.54 139.80,158.30 140.20,158.07 140.60,157.83 141.00,157.60 141.40,157.38 141.80,157.16 142.20,156.95 142.60,156.74 143.00,156.54 143.40,156.34 143.80,156.15 144.20,155.95 144.60,155.77 145.00,155.59 145.40,155.41 145.80,155.24 146.20,155.08 146.60,154.92 147.00,154.76 147.40,154.61 147.80,154.46 148.20,154.31 148.60,154.17 149.00,154.03 149.40,153.90 149.80,153.77 150.20,153.64 150.60,153.51 151.00,153.38 151.40,153.25 151.80,153.13 152.20,153.01 152.60,152.91 153.00,152.81 153.40,152.72 153.80,152.64 154.20,152.57 154.60,152.50 155.00,152.43 155.40,152.37 155.80,152.32 156.20,152.26 156.60,152.21 157.00,152.16 157.40,152.11 157.80,152.07 158.20,152.02 158.60,151.98 159.00,151.94 159.40,151.90 159.80,151.86 160.20,151.82 160.60,151.79 161.00,151.76 161.40,151.73 161.80,151.70 162.20,151.67 162.60,151.64 163.00,151.61 163.40,151.59 163.80,151.56 164.20,151.54 164.60,151.52 165.00,151.51 165.40,151.50 165.80,151.50 166.20,151.51 166.60,151.53 167.00,151.55 167.40,151.57 167.80,151.60 168.20,151.63 168.60,151.66 169.00,151.68 169.40,151.71 169.80,151.73 170.20,151.74 170.60,151.76 171.00,151.78 171.40,151.80 171.80,151.82 172.20,151.85 172.60,151.87 173.00,151.90 173.40,151.93 173.80,151.98 174.20,152.02 174.60,152.08 175.00,152.13 175.40,152.19 175.80,152.25 176.20,152.30 176.60,152.36 177.00,152.41 177.40,152.47 177.80,152.52 178.20,152.58 178.60,152.64 179.00,152.69 179.40,152.75 179.80,152.80 180.20,152.85 180.60,152.89 181.00,152.93 181.40,152.97 181.80,153.01 182.20,153.05 182.60,153.09 183.00,153.12 183.40,153.15 183.80,153.17 184.20,153.19 184.60,153.21 185.00,153.22 185.40,153.23 185.80,153.24 186.20,153.25 186.60,153.25 187.00,153.26 187.40,153.27 187.80,153.27 188.20,153.28 188.60,153.29 189.00,153.29 189.30,153.30" fill="none" stroke="#149614" stroke-width="1.0" stroke-linejoin="round"/><path d="M40.69,312.32L44.49,312.32L42.59,308.90Z" fill="#149614"/><path d="M44.52,298.58L48.32,298.58L46.42,295.16Z" fill="#149614"/><path d="M48.35,285.92L52.15,285.92L50.25,282.50Z" fill="#149614"/><path d="M52.18,271.80L55.98,271.80L54.08,268.38Z" fill="#149614"/><path d="M56.01,259.27L59.81,259.27L57.91,255.85Z" fill="#149614"/><path d="M59.84,247.85L63.64,247.85L61.74,244.43Z" fill="#149614"/><path d="M63.67,237.74L67.47,237.74L65.57,234.32Z" fill="#149614"/><path d="M67.50,229.45L71.30,229.45L69.40,226.03Z" fill="#149614"/><path d="M71.33,221.74L75.13,221.74L73.23,218.32Z" fill="#149614"/><path d="M75.16,214.19L78.96,214.19L77.06,210.77Z" fill="#149614"/><path d="M78.99,207.97L82.79,207.97L80.89,204.55Z" fill="#149614"/><path d="M82.82,203.61L86.62,203.61L84.72,200.19Z" fill="#149614"/><path d="M86.65,199.66L90.45,199.66L88.55,196.24Z" fill="#149614"/><path d="M90.48,196.61L94.28,196.61L92.38,193.19Z" fill="#149614"/><path d="M94.31,192.89L98.11,192.89L96.21,189.47Z" fill="#149614"/><path d="M98.14,189.63L101.94,189.63L100.04,186.21Z" fill="#149614"/><path d="M101.97,186.23L105.77,186.23L103.87,182.81Z" fill="#149614"/><path d="M105.80,183.07L109.60,183.07L107.70,179.65Z" fill="#149614"/><path d="M109.63,179.73L113.43,179.73L111.53,176.31Z" fill="#149614"/><path d="M113.46,176.47L117.26,176.47L115.36,173.05Z" fill="#149614"/><path d="M117.29,173.64L121.09,173.64L119.19,170.22Z" fill="#149614"/><path d="M121.12,171.05L124.92,171.05L123.02,167.63Z" fill="#149614"/><path d="M124.95,168.22L128.75,168.22L126.85,164.80Z" fill="#149614"/><path d="M128.78,165.74L132.58,165.74L130.68,162.32Z" fill="#149614"/><path d="M132.61,163.01L136.41,163.01L134.51,159.59Z" fill="#149614"/><path d="M136.44,160.70L140.24,160.70L138.34,157.28Z" fill="#149614"/><path d="M140.27,158.48L144.07,158.48L142.17,155.06Z" fill="#149614"/><path d="M144.10,156.68L147.90,156.68L146.00,153.26Z" fill="#149614"/><path d="M147.93,155.28L151.73,155.28L149.83,151.86Z" fill="#149614"/><path d="M151.76,154.19L155.56,154.19L153.66,150.77Z" fill="#149614"/><path d="M155.59,153.62L159.39,153.62L157.49,150.20Z" fill="#149614"/><path d="M159.42,153.25L163.22,153.25L161.32,149.83Z" fill="#149614"/><path d="M163.25,153.02L167.05,153.02L165.15,149.60Z" fill="#149614"/><path d="M167.08,153.20L170.88,153.20L168.98,149.78Z" fill="#149614"/><path d="M170.91,153.41L174.71,153.41L172.81,149.99Z" fill="#149614"/><path d="M174.74,153.89L178.54,153.89L176.64,150.47Z" fill="#149614"/><path d="M178.57,154.40L182.37,154.40L180.47,150.98Z" fill="#149614"/><path d="M182.40,154.72L186.20,154.72L184.30,151.30Z" fill="#149614"/><path d="M186.23,154.80L190.03,154.80L188.13,151.38Z" fill="#149614"/></g>
<g clip-path="url(#cL)"><polyline points="49.50,318.50 49.90,314.80 50.30,311.48 50.70,309.50 51.10,307.99 51.50,306.74 51.90,305.59 52.30,304.42 52.70,303.38 53.10,302.40 53.50,301.41 53.90,300.30 54.30,299.00 54.70,297.51 55.10,295.93 55.50,294.37 55.90,292.88 56.30,291.38 56.70,289.88 57.10,288.41 57.50,287.00 57.90,285.67 58.30,284.39 58.70,283.14 59.10,281.94 59.50,280.81 59.90,279.75 60.30,278.78 60.70,277.89 61.10,277.05 61.50,276.23 61.90,275.43 62.30,274.60 62.70,273.76 63.10,272.91 63.50,272.06 63.90,271.22 64.30,270.38 64.70,269.55 65.10,268.72 65.50,267.90 65.90,267.10 66.30,266.31 66.70,265.53 67.10,264.76 67.50,264.00 67.90,263.25 68.30,262.50 68.70,261.75 69.10,261.00 69.50,260.25 69.90,259.50 70.30,258.73 70.70,257.94 71.10,257.14 71.50,256.35 71.90,255.58 72.30,254.85 72.70,254.16 73.10,253.53 73.50,252.92 73.90,252.34 74.30,251.78 74.70,251.25 75.10,250.73 75.50,250.24 75.90,249.77 76.30,249.34 76.70,248.93 77.10,248.52 77.50,248.08 77.90,247.62 78.30,247.15 78.70,246.68 79.10,246.20 79.50,245.71 79.90,245.23 80.30,244.75 80.70,244.27 81.10,243.80 81.50,243.33 81.90,242.86 82.30,242.39 82.70,241.91 83.10,241.44 83.50,240.98 83.90,240.52 84.30,240.07 84.70,239.62 85.10,239.19 85.50,238.77 85.90,238.36 86.30,237.95 86.70,237.54 87.10,237.15 87.50,236.75 87.90,236.36 88.30,235.98 88.70,235.59 89.10,235.21 89.50,234.83 89.90,234.45 90.30,234.08 90.70,233.71 91.10,233.34 91.50,232.97 91.90,232.61 92.30,232.25 92.70,231.90 93.10,231.55 93.50,231.21 93.90,230.87 94.30,230.54 94.70,230.20 95.10,229.87 95.50,229.54 95.90,229.20 96.30,228.86 96.70,228.51 97.10,228.16 97.50,227.82 97.90,227.47 98.30,227.11 98.70,226.76 99.10,226.40 99.50,226.04 99.90,225.67 100.30,225.29 100.70,224.91 101.10,224.53 101.50,224.13 101.90,223.73 102.30,223.32 102.70,222.92 103.10,222.51 103.50,222.10 103.90,221.70 104.30,221.30 104.70,220.89 105.10,220.49 105.50,220.08 105.90,219.67 106.30,219.27 106.70,218.86 107.10,218.47 107.50,218.08 107.90,217.69 108.30,217.32 108.70,216.95 109.10,216.59 109.50,216.23 109.90,215.87 110.30,215.52 110.70,215.17 111.10,214.83 111.50,214.49 111.90,214.15 112.30,213.81 112.70,213.48 113.10,213.15 113.50,212.82 113.90,212.49 114.30,212.17 114.70,211.85 115.10,211.52 115.50,211.20 115.90,210.88 116.30,210.55 116.70,210.23 117.10,209.91 117.50,209.59 117.90,209.27 118.30,208.96 118.70,208.64 119.10,208.33 119.50,208.02 119.90,207.72 120.30,207.41 120.70,207.11 121.10,206.81 121.50,206.51 121.90,206.21 122.30,205.91 122.70,205.61 123.10,205.32 123.50,205.03 123.90,204.74 124.30,204.45 124.70,204.17 125.10,203.89 125.50,203.61 125.90,203.33 126.30,203.04 126.70,202.75 127.10,202.45 127.50,202.15 127.90,201.83 128.30,201.51 128.70,201.18 129.10,200.85 129.50,200.51 129.90,200.18 130.30,199.86 130.70,199.54 131.10,199.22 131.50,198.91 131.90,198.61 132.30,198.30 132.70,198.00 133.10,197.71 133.50,197.41 133.90,197.12 134.30,196.84 134.70,196.56 135.10,196.28 135.50,196.01 135.90,195.74 136.30,195.47 136.70,195.21 137.10,194.95 137.50,194.70 137.90,194.46 138.30,194.23 138.70,194.00 139.10,193.78 139.50,193.57 139.90,193.36 140.30,193.15 140.70,192.95 141.10,192.75 141.50,192.55 141.90,192.35 142.30,192.15 142.70,191.96 143.10,191.76 143.50,191.57 143.90,191.39 144.30,191.20 144.70,191.01 145.10,190.82 145.50,190.64 145.90,190.45 146.30,190.26 146.70,190.07 147.10,189.87 147.50,189.68 147.90,189.49 148.30,189.29 148.70,189.10 149.10,188.92 149.50,188.73 149.90,188.55 150.30,188.36 150.70,188.18 151.10,188.00 151.50,187.82 151.90,187.64 152.30,187.47 152.70,187.31 153.10,187.16 153.50,187.02 153.90,186.88 154.30,186.75 154.70,186.62 155.10,186.50 155.50,186.38 155.90,186.26 156.30,186.15 156.70,186.05 157.10,185.95 157.50,185.86 157.90,185.76 158.30,185.67 158.70,185.58 159.10,185.49 159.50,185.41 159.90,185.33 160.30,185.26 160.70,185.20 161.10,185.14 161.50,185.09 161.90,185.04 162.30,184.99 162.70,184.94 163.10,184.90 163.50,184.86 163.90,184.82 164.30,184.78 164.70,184.74 165.10,184.71 165.50,184.68 165.90,184.65 166.30,184.63 166.70,184.61 167.10,184.60 167.50,184.59 167.90,184.58 168.30,184.57 168.70,184.56 169.10,184.55 169.50,184.54 169.90,184.53 170.30,184.52 170.70,184.52 171.10,184.51 171.50,184.51 171.90,184.50 172.30,184.50 172.70,184.50 173.10,184.50 173.50,184.50 173.90,184.50 174.30,184.51 174.70,184.51 175.10,184.52 175.50,184.53 175.90,184.53 176.30,184.54 176.70,184.55 177.10,184.56 177.50,184.57 177.90,184.58 178.30,184.59 178.70,184.60 179.10,184.61 179.50,184.63 179.90,184.65 180.30,184.66 180.70,184.68 181.10,184.70 181.50,184.73 181.90,184.75 182.30,184.77 182.70,184.80 183.10,184.82 183.50,184.85 183.90,184.87 184.30,184.90 184.70,184.93 185.10,184.95 185.50,184.98 185.90,185.02 186.30,185.05 186.70,185.08 187.10,185.12 187.50,185.15 187.90,185.18 188.30,185.22 188.70,185.25 189.10,185.28 189.30,185.30" fill="none" stroke="#ffa500" stroke-width="1.0" stroke-linejoin="round"/><circle cx="50.25" cy="311.82" r="1.35" fill="#ffa500"/><circle cx="54.08" cy="299.75" r="1.35" fill="#ffa500"/><circle cx="57.91" cy="285.64" r="1.35" fill="#ffa500"/><circle cx="61.74" cy="275.75" r="1.35" fill="#ffa500"/><circle cx="65.57" cy="267.76" r="1.35" fill="#ffa500"/><circle cx="69.40" cy="260.44" r="1.35" fill="#ffa500"/><circle cx="73.23" cy="253.33" r="1.35" fill="#ffa500"/><circle cx="77.06" cy="248.56" r="1.35" fill="#ffa500"/><circle cx="80.89" cy="244.05" r="1.35" fill="#ffa500"/><circle cx="84.72" cy="239.60" r="1.35" fill="#ffa500"/><circle cx="88.55" cy="235.74" r="1.35" fill="#ffa500"/><circle cx="92.38" cy="232.18" r="1.35" fill="#ffa500"/><circle cx="96.21" cy="228.94" r="1.35" fill="#ffa500"/><circle cx="100.04" cy="225.54" r="1.35" fill="#ffa500"/><circle cx="103.87" cy="221.73" r="1.35" fill="#ffa500"/><circle cx="107.70" cy="217.88" r="1.35" fill="#ffa500"/><circle cx="111.53" cy="214.46" r="1.35" fill="#ffa500"/><circle cx="115.36" cy="211.31" r="1.35" fill="#ffa500"/><circle cx="119.19" cy="208.26" r="1.35" fill="#ffa500"/><circle cx="123.02" cy="205.38" r="1.35" fill="#ffa500"/><circle cx="126.85" cy="202.64" r="1.35" fill="#ffa500"/><circle cx="130.68" cy="199.55" r="1.35" fill="#ffa500"/><circle cx="134.51" cy="196.69" r="1.35" fill="#ffa500"/><circle cx="138.34" cy="194.20" r="1.35" fill="#ffa500"/><circle cx="142.17" cy="192.22" r="1.35" fill="#ffa500"/><circle cx="146.00" cy="190.40" r="1.35" fill="#ffa500"/><circle cx="149.83" cy="188.58" r="1.35" fill="#ffa500"/><circle cx="153.66" cy="186.97" r="1.35" fill="#ffa500"/><circle cx="157.49" cy="185.86" r="1.35" fill="#ffa500"/><circle cx="161.32" cy="185.11" r="1.35" fill="#ffa500"/><circle cx="165.15" cy="184.71" r="1.35" fill="#ffa500"/><circle cx="168.98" cy="184.55" r="1.35" fill="#ffa500"/><circle cx="172.81" cy="184.50" r="1.35" fill="#ffa500"/><circle cx="176.64" cy="184.55" r="1.35" fill="#ffa500"/><circle cx="180.47" cy="184.67" r="1.35" fill="#ffa500"/><circle cx="184.30" cy="184.90" r="1.35" fill="#ffa500"/><circle cx="188.13" cy="185.20" r="1.35" fill="#ffa500"/></g>
<g clip-path="url(#cL)"><polyline points="30.30,229.50 30.70,229.29 31.10,229.08 31.50,228.83 31.90,228.53 32.30,228.19 32.70,227.81 33.10,227.41 33.50,226.99 33.90,226.56 34.30,226.13 34.70,225.70 35.10,225.30 35.50,224.91 35.90,224.52 36.30,224.12 36.70,223.73 37.10,223.34 37.50,222.95 37.90,222.57 38.30,222.20 38.70,221.84 39.10,221.50 39.50,221.17 39.90,220.85 40.30,220.54 40.70,220.24 41.10,219.94 41.50,219.65 41.90,219.36 42.30,219.08 42.70,218.80 43.10,218.53 43.50,218.27 43.90,218.01 44.30,217.76 44.70,217.51 45.10,217.26 45.50,217.02 45.90,216.77 46.30,216.52 46.70,216.27 47.10,216.02 47.50,215.77 47.90,215.52 48.30,215.27 48.70,215.03 49.10,214.78 49.50,214.53 49.90,214.28 50.30,214.04 50.70,213.79 51.10,213.54 51.50,213.29 51.90,213.04 52.30,212.80 52.70,212.56 53.10,212.33 53.50,212.11 53.90,211.90 54.30,211.69 54.70,211.49 55.10,211.30 55.50,211.11 55.90,210.92 56.30,210.75 56.70,210.58 57.10,210.42 57.50,210.26 57.90,210.12 58.30,209.99 58.70,209.87 59.10,209.75 59.50,209.64 59.90,209.53 60.30,209.41 60.70,209.29 61.10,209.17 61.50,209.03 61.90,208.88 62.30,208.71 62.70,208.52 63.10,208.31 63.50,208.08 63.90,207.84 64.30,207.59 64.70,207.35 65.10,207.10 65.50,206.87 65.90,206.65 66.30,206.44 66.70,206.23 67.10,206.02 67.50,205.82 67.90,205.62 68.30,205.43 68.70,205.25 69.10,205.10 69.50,204.97 69.90,204.84 70.30,204.71 70.70,204.59 71.10,204.47 71.50,204.36 71.90,204.26 72.30,204.19 72.70,204.13 73.10,204.10 73.50,204.10 73.90,204.11 74.30,204.12 74.70,204.13 75.10,204.15 75.50,204.18 75.90,204.20 76.30,204.23 76.70,204.27 77.10,204.30 77.50,204.34 77.90,204.40 78.30,204.48 78.70,204.57 79.10,204.66 79.50,204.77 79.90,204.88 80.30,205.00 80.70,205.11 81.10,205.23 81.50,205.35 81.90,205.49 82.30,205.64 82.70,205.80 83.10,205.96 83.50,206.12 83.90,206.29 84.30,206.46 84.70,206.62 85.10,206.78 85.50,206.94 85.90,207.10 86.30,207.27 86.70,207.44 87.10,207.60 87.50,207.77 87.90,207.94 88.30,208.11 88.70,208.29 89.10,208.47 89.50,208.65 89.90,208.84 90.30,209.03 90.70,209.22 91.10,209.41 91.50,209.59 91.90,209.76 92.30,209.92 92.70,210.08 93.10,210.23 93.50,210.39 93.90,210.55 94.30,210.70 94.70,210.85 95.10,210.98 95.50,211.10 95.90,211.20 96.30,211.27 96.70,211.32 97.10,211.37 97.50,211.42 97.90,211.46 98.30,211.49 98.70,211.53 99.10,211.55 99.50,211.58 99.90,211.59 100.30,211.60 100.70,211.60 101.10,211.57 101.50,211.53 101.90,211.47 102.30,211.39 102.70,211.31 103.10,211.21 103.50,211.12 103.90,211.02 104.30,210.92 104.70,210.79 105.10,210.64 105.50,210.47 105.90,210.29 106.30,210.12 106.70,209.95 107.10,209.80 107.50,209.68 107.90,209.58 108.30,209.50 108.70,209.44 109.10,209.39 109.50,209.34 109.90,209.29 110.30,209.24 110.70,209.18 111.10,209.11 111.50,209.02 111.90,208.91 112.30,208.74 112.70,208.52 113.10,208.26 113.50,207.98 113.90,207.68 114.30,207.37 114.70,207.05 115.10,206.75 115.50,206.45 115.90,206.14 116.30,205.82 116.70,205.49 117.10,205.15 117.50,204.81 117.90,204.47 118.30,204.13 118.70,203.81 119.10,203.50 119.50,203.21 119.90,202.92 120.30,202.65 120.70,202.38 121.10,202.11 121.50,201.84 121.90,201.57 122.30,201.30 122.70,201.02 123.10,200.73 123.50,200.43 123.90,200.12 124.30,199.81 124.70,199.49 125.10,199.17 125.50,198.86 125.90,198.54 126.30,198.22 126.70,197.91 127.10,197.60 127.50,197.30 127.90,197.02 128.30,196.73 128.70,196.46 129.10,196.18 129.50,195.89 129.90,195.60 130.30,195.29 130.70,194.96 131.10,194.61 131.50,194.23 131.90,193.84 132.30,193.42 132.70,192.98 133.10,192.53 133.50,192.06 133.90,191.59 134.30,191.11 134.70,190.62 135.10,190.13 135.50,189.62 135.90,189.10 136.30,188.56 136.70,188.01 137.10,187.46 137.50,186.90 137.90,186.34 138.30,185.78 138.70,185.22 139.10,184.66 139.50,184.08 139.90,183.51 140.30,182.93 140.70,182.35 141.10,181.77 141.50,181.19 141.90,180.62 142.30,180.06 142.70,179.50 143.10,178.95 143.50,178.40 143.90,177.85 144.30,177.31 144.70,176.76 145.10,176.22 145.50,175.68 145.90,175.14 146.30,174.59 146.70,174.05 147.10,173.50 147.50,172.95 147.90,172.41 148.30,171.86 148.70,171.32 149.10,170.79 149.50,170.25 149.90,169.73 150.30,169.21 150.70,168.70 151.10,168.20 151.50,167.70 151.90,167.20 152.30,166.71 152.70,166.21 153.10,165.72 153.50,165.22 153.90,164.72 154.30,164.22 154.70,163.72 155.10,163.21 155.50,162.71 155.90,162.20 156.30,161.70 156.70,161.19 157.10,160.70 157.50,160.21 157.90,159.72 158.30,159.24 158.70,158.77 159.10,158.31 159.50,157.86 159.90,157.40 160.30,156.95 160.70,156.50 161.10,156.04 161.50,155.58 161.90,155.12 162.30,154.65 162.70,154.17 163.10,153.69 163.50,153.21 163.90,152.72 164.30,152.24 164.70,151.76 165.10,151.28 165.50,150.80 165.90,150.32 166.30,149.83 166.70,149.34 167.10,148.86 167.50,148.37 167.90,147.90 168.30,147.45 168.70,147.01 169.10,146.60 169.50,146.20 169.90,145.82 170.30,145.44 170.70,145.08 171.10,144.72 171.50,144.38 171.90,144.04 172.30,143.72 172.70,143.40 173.10,143.09 173.50,142.80 173.90,142.52 174.30,142.25 174.70,141.99 175.10,141.72 175.50,141.46 175.90,141.19 176.30,140.91 176.70,140.62 177.10,140.32 177.50,140.01 177.90,139.69 178.30,139.36 178.70,139.02 179.10,138.68 179.50,138.34 179.90,137.99 180.30,137.64 180.70,137.29 181.10,136.93 181.50,136.57 181.90,136.20 182.30,135.83 182.70,135.45 183.10,135.08 183.50,134.70 183.90,134.34 184.30,133.98 184.70,133.62 185.10,133.27 185.50,132.92 185.90,132.58 186.30,132.23 186.70,131.90 187.10,131.57 187.50,131.25 187.90,130.95 188.30,130.66 188.70,130.39 189.10,130.13 189.30,130.00" fill="none" stroke="#ff0000" stroke-width="1.2" stroke-linejoin="round"/><circle cx="31.10" cy="229.08" r="1.35" fill="#ff8a8a" stroke="#ff0000" stroke-width="1.0"/><circle cx="34.93" cy="225.47" r="1.35" fill="#ff8a8a" stroke="#ff0000" stroke-width="1.0"/><circle cx="38.76" cy="221.79" r="1.35" fill="#ff8a8a" stroke="#ff0000" stroke-width="1.0"/><circle cx="42.59" cy="218.88" r="1.35" fill="#ff8a8a" stroke="#ff0000" stroke-width="1.0"/><circle cx="46.42" cy="216.45" r="1.35" fill="#ff8a8a" stroke="#ff0000" stroke-width="1.0"/><circle cx="50.25" cy="214.07" r="1.35" fill="#ff8a8a" stroke="#ff0000" stroke-width="1.0"/><circle cx="54.08" cy="211.80" r="1.35" fill="#ff8a8a" stroke="#ff0000" stroke-width="1.0"/><circle cx="57.91" cy="210.12" r="1.35" fill="#ff8a8a" stroke="#ff0000" stroke-width="1.0"/><circle cx="61.74" cy="208.94" r="1.35" fill="#ff8a8a" stroke="#ff0000" stroke-width="1.0"/><circle cx="65.57" cy="206.83" r="1.35" fill="#ff8a8a" stroke="#ff0000" stroke-width="1.0"/><circle cx="69.40" cy="205.00" r="1.35" fill="#ff8a8a" stroke="#ff0000" stroke-width="1.0"/><circle cx="73.23" cy="204.10" r="1.35" fill="#ff8a8a" stroke="#ff0000" stroke-width="1.0"/><circle cx="77.06" cy="204.30" r="1.35" fill="#ff8a8a" stroke="#ff0000" stroke-width="1.0"/><circle cx="80.89" cy="205.17" r="1.35" fill="#ff8a8a" stroke="#ff0000" stroke-width="1.0"/><circle cx="84.72" cy="206.63" r="1.35" fill="#ff8a8a" stroke="#ff0000" stroke-width="1.0"/><circle cx="88.55" cy="208.22" r="1.35" fill="#ff8a8a" stroke="#ff0000" stroke-width="1.0"/><circle cx="92.38" cy="209.95" r="1.35" fill="#ff8a8a" stroke="#ff0000" stroke-width="1.0"/><circle cx="96.21" cy="211.26" r="1.35" fill="#ff8a8a" stroke="#ff0000" stroke-width="1.0"/><circle cx="100.04" cy="211.59" r="1.35" fill="#ff8a8a" stroke="#ff0000" stroke-width="1.0"/><circle cx="103.87" cy="211.03" r="1.35" fill="#ff8a8a" stroke="#ff0000" stroke-width="1.0"/><circle cx="107.70" cy="209.62" r="1.35" fill="#ff8a8a" stroke="#ff0000" stroke-width="1.0"/><circle cx="111.53" cy="209.02" r="1.35" fill="#ff8a8a" stroke="#ff0000" stroke-width="1.0"/><circle cx="115.36" cy="206.56" r="1.35" fill="#ff8a8a" stroke="#ff0000" stroke-width="1.0"/><circle cx="119.19" cy="203.43" r="1.35" fill="#ff8a8a" stroke="#ff0000" stroke-width="1.0"/><circle cx="123.02" cy="200.79" r="1.35" fill="#ff8a8a" stroke="#ff0000" stroke-width="1.0"/><circle cx="126.85" cy="197.79" r="1.35" fill="#ff8a8a" stroke="#ff0000" stroke-width="1.0"/><circle cx="130.68" cy="194.98" r="1.35" fill="#ff8a8a" stroke="#ff0000" stroke-width="1.0"/><circle cx="134.51" cy="190.85" r="1.35" fill="#ff8a8a" stroke="#ff0000" stroke-width="1.0"/><circle cx="138.34" cy="185.72" r="1.35" fill="#ff8a8a" stroke="#ff0000" stroke-width="1.0"/><circle cx="142.17" cy="180.24" r="1.35" fill="#ff8a8a" stroke="#ff0000" stroke-width="1.0"/><circle cx="146.00" cy="175.00" r="1.35" fill="#ff8a8a" stroke="#ff0000" stroke-width="1.0"/><circle cx="149.83" cy="169.82" r="1.35" fill="#ff8a8a" stroke="#ff0000" stroke-width="1.0"/><circle cx="153.66" cy="165.02" r="1.35" fill="#ff8a8a" stroke="#ff0000" stroke-width="1.0"/><circle cx="157.49" cy="160.22" r="1.35" fill="#ff8a8a" stroke="#ff0000" stroke-width="1.0"/><circle cx="161.32" cy="155.79" r="1.35" fill="#ff8a8a" stroke="#ff0000" stroke-width="1.0"/><circle cx="165.15" cy="151.22" r="1.35" fill="#ff8a8a" stroke="#ff0000" stroke-width="1.0"/><circle cx="168.98" cy="146.72" r="1.35" fill="#ff8a8a" stroke="#ff0000" stroke-width="1.0"/><circle cx="172.81" cy="143.31" r="1.35" fill="#ff8a8a" stroke="#ff0000" stroke-width="1.0"/><circle cx="176.64" cy="140.67" r="1.35" fill="#ff8a8a" stroke="#ff0000" stroke-width="1.0"/><circle cx="180.47" cy="137.49" r="1.35" fill="#ff8a8a" stroke="#ff0000" stroke-width="1.0"/><circle cx="184.30" cy="133.98" r="1.35" fill="#ff8a8a" stroke="#ff0000" stroke-width="1.0"/><circle cx="188.13" cy="130.78" r="1.35" fill="#ff8a8a" stroke="#ff0000" stroke-width="1.0"/></g>
<g clip-path="url(#cL)"><polyline points="30.30,293.20 30.70,292.10 31.10,291.00 31.50,289.91 31.90,288.86 32.30,287.83 32.70,286.80 33.10,285.76 33.50,284.68 33.90,283.54 34.30,282.33 34.70,281.04 35.10,279.63 35.50,277.96 35.90,276.03 36.30,273.91 36.70,271.70 37.10,269.46 37.50,267.27 37.90,265.22 38.30,263.38 38.70,261.83 39.10,260.58 39.50,259.46 39.90,258.44 40.30,257.51 40.70,256.63 41.10,255.77 41.50,254.93 41.90,254.05 42.30,253.14 42.70,252.15 43.10,251.11 43.50,250.04 43.90,248.95 44.30,247.84 44.70,246.74 45.10,245.64 45.50,244.55 45.90,243.49 46.30,242.45 46.70,241.45 47.10,240.45 47.50,239.46 47.90,238.47 48.30,237.51 48.70,236.56 49.10,235.63 49.50,234.72 49.90,233.85 50.30,233.00 50.70,232.18 51.10,231.37 51.50,230.59 51.90,229.82 52.30,229.07 52.70,228.34 53.10,227.62 53.50,226.93 53.90,226.25 54.30,225.60 54.70,224.97 55.10,224.35 55.50,223.75 55.90,223.16 56.30,222.59 56.70,222.03 57.10,221.48 57.50,220.95 57.90,220.42 58.30,219.90 58.70,219.39 59.10,218.88 59.50,218.38 59.90,217.88 60.30,217.40 60.70,216.93 61.10,216.47 61.50,216.03 61.90,215.61 62.30,215.20 62.70,214.81 63.10,214.42 63.50,214.04 63.90,213.68 64.30,213.33 64.70,212.99 65.10,212.66 65.50,212.34 65.90,212.04 66.30,211.76 66.70,211.47 67.10,211.19 67.50,210.92 67.90,210.65 68.30,210.40 68.70,210.16 69.10,209.94 69.50,209.74 69.90,209.57 70.30,209.43 70.70,209.29 71.10,209.15 71.50,209.01 71.90,208.88 72.30,208.77 72.70,208.67 73.10,208.59 73.50,208.53 73.90,208.50 74.30,208.50 74.70,208.52 75.10,208.54 75.50,208.58 75.90,208.63 76.30,208.69 76.70,208.76 77.10,208.83 77.50,208.90 77.90,208.98 78.30,209.07 78.70,209.19 79.10,209.33 79.50,209.50 79.90,209.69 80.30,209.89 80.70,210.10 81.10,210.31 81.50,210.53 81.90,210.75 82.30,210.96 82.70,211.20 83.10,211.45 83.50,211.72 83.90,211.99 84.30,212.26 84.70,212.54 85.10,212.80 85.50,213.06 85.90,213.30 86.30,213.54 86.70,213.77 87.10,214.01 87.50,214.23 87.90,214.44 88.30,214.62 88.70,214.78 89.10,214.92 89.50,215.06 89.90,215.19 90.30,215.32 90.70,215.43 91.10,215.53 91.50,215.61 91.90,215.68 92.30,215.74 92.70,215.80 93.10,215.86 93.50,215.91 93.90,215.96 94.30,216.01 94.70,216.04 95.10,216.07 95.50,216.09 95.90,216.10 96.30,216.10 96.70,216.10 97.10,216.09 97.50,216.08 97.90,216.08 98.30,216.06 98.70,216.05 99.10,216.04 99.50,216.02 99.90,216.00 100.30,215.98 100.70,215.94 101.10,215.88 101.50,215.80 101.90,215.71 102.30,215.61 102.70,215.50 103.10,215.38 103.50,215.26 103.90,215.13 104.30,214.97 104.70,214.77 105.10,214.55 105.50,214.31 105.90,214.06 106.30,213.81 106.70,213.56 107.10,213.31 107.50,213.09 107.90,212.87 108.30,212.64 108.70,212.42 109.10,212.20 109.50,211.97 109.90,211.75 110.30,211.52 110.70,211.29 111.10,211.06 111.50,210.83 111.90,210.60 112.30,210.37 112.70,210.14 113.10,209.91 113.50,209.67 113.90,209.42 114.30,209.15 114.70,208.87 115.10,208.57 115.50,208.25 115.90,207.91 116.30,207.56 116.70,207.18 117.10,206.80 117.50,206.41 117.90,206.01 118.30,205.61 118.70,205.20 119.10,204.78 119.50,204.35 119.90,203.90 120.30,203.44 120.70,202.98 121.10,202.51 121.50,202.04 121.90,201.58 122.30,201.13 122.70,200.69 123.10,200.26 123.50,199.85 123.90,199.43 124.30,199.03 124.70,198.62 125.10,198.21 125.50,197.79 125.90,197.37 126.30,196.93 126.70,196.49 127.10,196.03 127.50,195.56 127.90,195.08 128.30,194.59 128.70,194.10 129.10,193.60 129.50,193.10 129.90,192.61 130.30,192.11 130.70,191.62 131.10,191.14 131.50,190.65 131.90,190.17 132.30,189.68 132.70,189.20 133.10,188.71 133.50,188.22 133.90,187.74 134.30,187.25 134.70,186.75 135.10,186.26 135.50,185.77 135.90,185.27 136.30,184.78 136.70,184.28 137.10,183.78 137.50,183.28 137.90,182.78 138.30,182.27 138.70,181.77 139.10,181.28 139.50,180.78 139.90,180.29 140.30,179.78 140.70,179.27 141.10,178.75 141.50,178.20 141.90,177.64 142.30,177.05 142.70,176.42 143.10,175.75 143.50,175.06 143.90,174.36 144.30,173.67 144.70,172.99 145.10,172.35 145.50,171.74 145.90,171.18 146.30,170.64 146.70,170.12 147.10,169.61 147.50,169.11 147.90,168.63 148.30,168.15 148.70,167.68 149.10,167.22 149.50,166.77 149.90,166.31 150.30,165.87 150.70,165.43 151.10,165.01 151.50,164.60 151.90,164.19 152.30,163.78 152.70,163.37 153.10,162.95 153.50,162.52 153.90,162.08 154.30,161.62 154.70,161.15 155.10,160.68 155.50,160.20 155.90,159.71 156.30,159.23 156.70,158.74 157.10,158.26 157.50,157.79 157.90,157.32 158.30,156.85 158.70,156.39 159.10,155.94 159.50,155.48 159.90,155.03 160.30,154.58 160.70,154.13 161.10,153.68 161.50,153.23 161.90,152.77 162.30,152.31 162.70,151.85 163.10,151.38 163.50,150.91 163.90,150.45 164.30,149.99 164.70,149.55 165.10,149.12 165.50,148.70 165.90,148.31 166.30,147.93 166.70,147.57 167.10,147.21 167.50,146.85 167.90,146.49 168.30,146.10 168.70,145.69 169.10,145.25 169.50,144.80 169.90,144.33 170.30,143.86 170.70,143.39 171.10,142.92 171.50,142.46 171.90,142.01 172.30,141.59 172.70,141.20 173.10,140.83 173.50,140.48 173.90,140.14 174.30,139.81 174.70,139.49 175.10,139.18 175.50,138.87 175.90,138.56 176.30,138.25 176.70,137.94 177.10,137.62 177.50,137.30 177.90,136.99 178.30,136.67 178.70,136.36 179.10,136.04 179.50,135.73 179.90,135.41 180.30,135.10 180.70,134.78 181.10,134.46 181.50,134.14 181.90,133.82 182.30,133.49 182.70,133.17 183.10,132.84 183.50,132.52 183.90,132.19 184.30,131.86 184.70,131.53 185.10,131.20 185.50,130.86 185.90,130.52 186.30,130.18 186.70,129.84 187.10,129.51 187.50,129.18 187.90,128.86 188.30,128.55 188.70,128.25 189.10,127.95 189.30,127.80" fill="none" stroke="#22ee22" stroke-width="1.0" stroke-linejoin="round"/><circle cx="31.10" cy="291.00" r="1.75" fill="#22ee22"/><circle cx="34.93" cy="280.25" r="1.75" fill="#22ee22"/><circle cx="38.76" cy="261.63" r="1.75" fill="#22ee22"/><circle cx="42.59" cy="252.43" r="1.75" fill="#22ee22"/><circle cx="46.42" cy="242.15" r="1.75" fill="#22ee22"/><circle cx="50.25" cy="233.10" r="1.75" fill="#22ee22"/><circle cx="54.08" cy="225.96" r="1.75" fill="#22ee22"/><circle cx="57.91" cy="220.41" r="1.75" fill="#22ee22"/><circle cx="61.74" cy="215.77" r="1.75" fill="#22ee22"/><circle cx="65.57" cy="212.29" r="1.75" fill="#22ee22"/><circle cx="69.40" cy="209.79" r="1.75" fill="#22ee22"/><circle cx="73.23" cy="208.57" r="1.75" fill="#22ee22"/><circle cx="77.06" cy="208.82" r="1.75" fill="#22ee22"/><circle cx="80.89" cy="210.20" r="1.75" fill="#22ee22"/><circle cx="84.72" cy="212.55" r="1.75" fill="#22ee22"/><circle cx="88.55" cy="214.72" r="1.75" fill="#22ee22"/><circle cx="92.38" cy="215.76" r="1.75" fill="#22ee22"/><circle cx="96.21" cy="216.10" r="1.75" fill="#22ee22"/><circle cx="100.04" cy="216.00" r="1.75" fill="#22ee22"/><circle cx="103.87" cy="215.14" r="1.75" fill="#22ee22"/><circle cx="107.70" cy="212.98" r="1.75" fill="#22ee22"/><circle cx="111.53" cy="210.81" r="1.75" fill="#22ee22"/><circle cx="115.36" cy="208.37" r="1.75" fill="#22ee22"/><circle cx="119.19" cy="204.69" r="1.75" fill="#22ee22"/><circle cx="123.02" cy="200.35" r="1.75" fill="#22ee22"/><circle cx="126.85" cy="196.32" r="1.75" fill="#22ee22"/><circle cx="130.68" cy="191.65" r="1.75" fill="#22ee22"/><circle cx="134.51" cy="186.99" r="1.75" fill="#22ee22"/><circle cx="138.34" cy="182.22" r="1.75" fill="#22ee22"/><circle cx="142.17" cy="177.25" r="1.75" fill="#22ee22"/><circle cx="146.00" cy="171.05" r="1.75" fill="#22ee22"/><circle cx="149.83" cy="166.39" r="1.75" fill="#22ee22"/><circle cx="153.66" cy="162.34" r="1.75" fill="#22ee22"/><circle cx="157.49" cy="157.80" r="1.75" fill="#22ee22"/><circle cx="161.32" cy="153.43" r="1.75" fill="#22ee22"/><circle cx="165.15" cy="149.06" r="1.75" fill="#22ee22"/><circle cx="168.98" cy="145.39" r="1.75" fill="#22ee22"/><circle cx="172.81" cy="141.10" r="1.75" fill="#22ee22"/><circle cx="176.64" cy="137.99" r="1.75" fill="#22ee22"/><circle cx="180.47" cy="134.96" r="1.75" fill="#22ee22"/><circle cx="184.30" cy="131.86" r="1.75" fill="#22ee22"/><circle cx="188.13" cy="128.68" r="1.75" fill="#22ee22"/></g>
<g clip-path="url(#cL)"><polyline points="44.40,318.50 44.80,314.80 45.20,312.41 45.60,310.44 46.00,308.79 46.40,307.41 46.80,306.24 47.20,305.24 47.60,304.37 48.00,303.55 48.40,302.72 48.80,301.83 49.20,300.93 49.60,300.04 50.00,299.22 50.40,298.50 50.80,297.88 51.20,297.32 51.60,296.81 52.00,296.32 52.40,295.85 52.80,295.36 53.20,294.85 53.60,294.30 54.00,293.71 54.40,293.08 54.80,292.44 55.20,291.78 55.60,291.11 56.00,290.44 56.40,289.75 56.80,289.07 57.20,288.40 57.60,287.73 58.00,287.08 58.40,286.43 58.80,285.80 59.20,285.18 59.60,284.55 60.00,283.93 60.40,283.29 60.80,282.65 61.20,282.00 61.60,281.33 62.00,280.63 62.40,279.92 62.80,279.17 63.20,278.40 63.60,277.61 64.00,276.80 64.40,275.98 64.80,275.14 65.20,274.30 65.60,273.45 66.00,272.61 66.40,271.77 66.80,270.91 67.20,270.05 67.60,269.18 68.00,268.31 68.40,267.43 68.80,266.55 69.20,265.66 69.60,264.77 70.00,263.88 70.40,262.97 70.80,262.05 71.20,261.12 71.60,260.19 72.00,259.27 72.40,258.36 72.80,257.47 73.20,256.60 73.60,255.77 74.00,254.96 74.40,254.18 74.80,253.40 75.20,252.62 75.60,251.84 76.00,251.03 76.40,250.20 76.80,249.28 77.20,248.39 77.60,247.67 78.00,247.01 78.40,246.39 78.80,245.81 79.20,245.26 79.60,244.73 80.00,244.21 80.40,243.70 80.80,243.19 81.20,242.67 81.60,242.16 82.00,241.65 82.40,241.15 82.80,240.66 83.20,240.18 83.60,239.71 84.00,239.24 84.40,238.78 84.80,238.33 85.20,237.88 85.60,237.43 86.00,236.99 86.40,236.56 86.80,236.13 87.20,235.71 87.60,235.30 88.00,234.89 88.40,234.49 88.80,234.10 89.20,233.71 89.60,233.34 90.00,232.97 90.40,232.61 90.80,232.26 91.20,231.91 91.60,231.56 92.00,231.21 92.40,230.86 92.80,230.51 93.20,230.16 93.60,229.82 94.00,229.47 94.40,229.13 94.80,228.78 95.20,228.44 95.60,228.09 96.00,227.74 96.40,227.38 96.80,227.02 97.20,226.65 97.60,226.28 98.00,225.90 98.40,225.52 98.80,225.14 99.20,224.75 99.60,224.37 100.00,223.98 100.40,223.60 100.80,223.22 101.20,222.84 101.60,222.47 102.00,222.10 102.40,221.72 102.80,221.34 103.20,220.95 103.60,220.54 104.00,220.12 104.40,219.69 104.80,219.23 105.20,218.74 105.60,218.23 106.00,217.71 106.40,217.19 106.80,216.67 107.20,216.17 107.60,215.68 108.00,215.20 108.40,214.72 108.80,214.25 109.20,213.78 109.60,213.32 110.00,212.86 110.40,212.41 110.80,211.97 111.20,211.52 111.60,211.08 112.00,210.64 112.40,210.21 112.80,209.79 113.20,209.38 113.60,208.99 114.00,208.62 114.40,208.27 114.80,207.93 115.20,207.59 115.60,207.27 116.00,206.94 116.40,206.63 116.80,206.31 117.20,205.98 117.60,205.65 118.00,205.33 118.40,205.00 118.80,204.67 119.20,204.35 119.60,204.03 120.00,203.71 120.40,203.39 120.80,203.08 121.20,202.77 121.60,202.46 122.00,202.16 122.40,201.86 122.80,201.57 123.20,201.27 123.60,200.98 124.00,200.69 124.40,200.40 124.80,200.11 125.20,199.83 125.60,199.55 126.00,199.28 126.40,199.00 126.80,198.71 127.20,198.42 127.60,198.12 128.00,197.82 128.40,197.50 128.80,197.18 129.20,196.85 129.60,196.52 130.00,196.20 130.40,195.87 130.80,195.56 131.20,195.25 131.60,194.94 132.00,194.63 132.40,194.33 132.80,194.03 133.20,193.72 133.60,193.43 134.00,193.13 134.40,192.84 134.80,192.55 135.20,192.26 135.60,191.97 136.00,191.68 136.40,191.39 136.80,191.10 137.20,190.82 137.60,190.54 138.00,190.27 138.40,189.99 138.80,189.73 139.20,189.47 139.60,189.22 140.00,188.96 140.40,188.72 140.80,188.47 141.20,188.23 141.60,187.99 142.00,187.76 142.40,187.53 142.80,187.31 143.20,187.09 143.60,186.88 144.00,186.67 144.40,186.47 144.80,186.27 145.20,186.07 145.60,185.87 146.00,185.68 146.40,185.49 146.80,185.30 147.20,185.10 147.60,184.91 148.00,184.71 148.40,184.51 148.80,184.32 149.20,184.14 149.60,183.96 150.00,183.80 150.40,183.65 150.80,183.50 151.20,183.36 151.60,183.22 152.00,183.08 152.40,182.95 152.80,182.83 153.20,182.70 153.60,182.58 154.00,182.45 154.40,182.33 154.80,182.21 155.20,182.08 155.60,181.95 156.00,181.83 156.40,181.71 156.80,181.59 157.20,181.48 157.60,181.38 158.00,181.30 158.40,181.23 158.80,181.16 159.20,181.09 159.60,181.03 160.00,180.97 160.40,180.92 160.80,180.87 161.20,180.82 161.60,180.78 162.00,180.73 162.40,180.69 162.80,180.64 163.20,180.60 163.60,180.56 164.00,180.52 164.40,180.48 164.80,180.44 165.20,180.41 165.60,180.38 166.00,180.35 166.40,180.33 166.80,180.31 167.20,180.30 167.60,180.29 168.00,180.27 168.40,180.26 168.80,180.25 169.20,180.25 169.60,180.24 170.00,180.23 170.40,180.22 170.80,180.22 171.20,180.21 171.60,180.21 172.00,180.20 172.40,180.20 172.80,180.20 173.20,180.20 173.60,180.20 174.00,180.20 174.40,180.20 174.80,180.20 175.20,180.20 175.60,180.20 176.00,180.20 176.40,180.20 176.80,180.20 177.20,180.20 177.60,180.20 178.00,180.20 178.40,180.20 178.80,180.20 179.20,180.20 179.60,180.20 180.00,180.20 180.40,180.20 180.80,180.20 181.20,180.20 181.60,180.20 182.00,180.20 182.40,180.20 182.80,180.20 183.20,180.20 183.60,180.20 184.00,180.20 184.40,180.20 184.80,180.20 185.20,180.19 185.60,180.19 186.00,180.18 186.40,180.17 186.80,180.16 187.20,180.15 187.60,180.14 188.00,180.13 188.40,180.12 188.80,180.11 189.20,180.10 189.30,180.10" fill="none" stroke="#a020f0" stroke-width="1.0" stroke-linejoin="round"/><path d="M45.30,307.35L46.42,305.55L47.54,307.35L46.42,309.15Z" fill="#a020f0"/><path d="M49.13,298.76L50.25,296.96L51.37,298.76L50.25,300.56Z" fill="#a020f0"/><path d="M52.96,293.58L54.08,291.78L55.20,293.58L54.08,295.38Z" fill="#a020f0"/><path d="M56.79,287.22L57.91,285.42L59.03,287.22L57.91,289.02Z" fill="#a020f0"/><path d="M60.62,281.09L61.74,279.29L62.86,281.09L61.74,282.89Z" fill="#a020f0"/><path d="M64.45,273.52L65.57,271.72L66.69,273.52L65.57,275.32Z" fill="#a020f0"/><path d="M68.28,265.21L69.40,263.41L70.52,265.21L69.40,267.01Z" fill="#a020f0"/><path d="M72.11,256.54L73.23,254.74L74.35,256.54L73.23,258.34Z" fill="#a020f0"/><path d="M75.94,248.69L77.06,246.89L78.18,248.69L77.06,250.49Z" fill="#a020f0"/><path d="M79.77,243.07L80.89,241.27L82.01,243.07L80.89,244.87Z" fill="#a020f0"/><path d="M83.60,238.42L84.72,236.62L85.84,238.42L84.72,240.22Z" fill="#a020f0"/><path d="M87.43,234.34L88.55,232.54L89.67,234.34L88.55,236.14Z" fill="#a020f0"/><path d="M91.26,230.88L92.38,229.08L93.50,230.88L92.38,232.68Z" fill="#a020f0"/><path d="M95.09,227.55L96.21,225.75L97.33,227.55L96.21,229.35Z" fill="#a020f0"/><path d="M98.92,223.95L100.04,222.15L101.16,223.95L100.04,225.75Z" fill="#a020f0"/><path d="M102.75,220.26L103.87,218.46L104.99,220.26L103.87,222.06Z" fill="#a020f0"/><path d="M106.58,215.56L107.70,213.76L108.82,215.56L107.70,217.36Z" fill="#a020f0"/><path d="M110.41,211.15L111.53,209.35L112.65,211.15L111.53,212.95Z" fill="#a020f0"/><path d="M114.24,207.46L115.36,205.66L116.48,207.46L115.36,209.26Z" fill="#a020f0"/><path d="M118.07,204.36L119.19,202.56L120.31,204.36L119.19,206.16Z" fill="#a020f0"/><path d="M121.90,201.41L123.02,199.61L124.14,201.41L123.02,203.21Z" fill="#a020f0"/><path d="M125.73,198.68L126.85,196.88L127.97,198.68L126.85,200.48Z" fill="#a020f0"/><path d="M129.56,195.65L130.68,193.85L131.80,195.65L130.68,197.45Z" fill="#a020f0"/><path d="M133.39,192.76L134.51,190.96L135.63,192.76L134.51,194.56Z" fill="#a020f0"/><path d="M137.22,190.04L138.34,188.24L139.46,190.04L138.34,191.84Z" fill="#a020f0"/><path d="M141.05,187.66L142.17,185.86L143.29,187.66L142.17,189.46Z" fill="#a020f0"/><path d="M144.88,185.68L146.00,183.88L147.12,185.68L146.00,187.48Z" fill="#a020f0"/><path d="M148.71,183.87L149.83,182.07L150.95,183.87L149.83,185.67Z" fill="#a020f0"/><path d="M152.54,182.56L153.66,180.76L154.78,182.56L153.66,184.36Z" fill="#a020f0"/><path d="M156.37,181.41L157.49,179.61L158.61,181.41L157.49,183.21Z" fill="#a020f0"/><path d="M160.20,180.81L161.32,179.01L162.44,180.81L161.32,182.61Z" fill="#a020f0"/><path d="M164.03,180.41L165.15,178.61L166.27,180.41L165.15,182.21Z" fill="#a020f0"/><path d="M167.86,180.25L168.98,178.45L170.10,180.25L168.98,182.05Z" fill="#a020f0"/><path d="M171.69,180.20L172.81,178.40L173.93,180.20L172.81,182.00Z" fill="#a020f0"/><path d="M175.52,180.20L176.64,178.40L177.76,180.20L176.64,182.00Z" fill="#a020f0"/><path d="M179.35,180.20L180.47,178.40L181.59,180.20L180.47,182.00Z" fill="#a020f0"/><path d="M183.18,180.20L184.30,178.40L185.42,180.20L184.30,182.00Z" fill="#a020f0"/><path d="M187.01,180.13L188.13,178.33L189.25,180.13L188.13,181.93Z" fill="#a020f0"/></g>
<g clip-path="url(#cL)"><polyline points="32.30,318.50 32.70,315.62 33.10,312.74 33.50,310.00 33.90,307.44 34.30,304.98 34.70,302.63 35.10,300.36 35.50,298.16 35.90,296.03 36.30,293.97 36.70,291.98 37.10,290.06 37.50,288.16 37.90,286.32 38.30,284.59 38.70,282.98 39.10,281.51 39.50,280.14 39.90,278.86 40.30,277.64 40.70,276.48 41.10,275.39 41.50,274.38 41.90,273.41 42.30,272.46 42.70,271.46 43.10,270.40 43.50,269.29 43.90,268.14 44.30,266.97 44.70,265.80 45.10,264.64 45.50,263.50 45.90,262.40 46.30,261.35 46.70,260.36 47.10,259.44 47.50,258.56 47.90,257.72 48.30,256.90 48.70,256.09 49.10,255.29 49.50,254.48 49.90,253.64 50.30,252.78 50.70,251.87 51.10,250.92 51.50,249.93 51.90,248.93 52.30,247.90 52.70,246.87 53.10,245.84 53.50,244.81 53.90,243.79 54.30,242.80 54.70,241.81 55.10,240.82 55.50,239.83 55.90,238.84 56.30,237.86 56.70,236.91 57.10,235.97 57.50,235.07 57.90,234.20 58.30,233.37 58.70,232.56 59.10,231.77 59.50,231.01 59.90,230.26 60.30,229.52 60.70,228.79 61.10,228.06 61.50,227.34 61.90,226.62 62.30,225.90 62.70,225.20 63.10,224.50 63.50,223.81 63.90,223.12 64.30,222.44 64.70,221.76 65.10,221.08 65.50,220.41 65.90,219.73 66.30,219.06 66.70,218.40 67.10,217.74 67.50,217.09 67.90,216.43 68.30,215.78 68.70,215.12 69.10,214.46 69.50,213.80 69.90,213.13 70.30,212.45 70.70,211.76 71.10,211.06 71.50,210.36 71.90,209.66 72.30,208.97 72.70,208.29 73.10,207.63 73.50,207.00 73.90,206.39 74.30,205.79 74.70,205.21 75.10,204.64 75.50,204.08 75.90,203.52 76.30,202.97 76.70,202.42 77.10,201.86 77.50,201.30 77.90,200.73 78.30,200.16 78.70,199.59 79.10,199.02 79.50,198.45 79.90,197.89 80.30,197.33 80.70,196.78 81.10,196.23 81.50,195.70 81.90,195.17 82.30,194.65 82.70,194.13 83.10,193.62 83.50,193.12 83.90,192.62 84.30,192.13 84.70,191.64 85.10,191.16 85.50,190.69 85.90,190.22 86.30,189.77 86.70,189.31 87.10,188.86 87.50,188.42 87.90,187.98 88.30,187.54 88.70,187.10 89.10,186.67 89.50,186.24 89.90,185.82 90.30,185.40 90.70,184.98 91.10,184.56 91.50,184.15 91.90,183.73 92.30,183.31 92.70,182.89 93.10,182.47 93.50,182.05 93.90,181.63 94.30,181.21 94.70,180.79 95.10,180.37 95.50,179.95 95.90,179.53 96.30,179.11 96.70,178.68 97.10,178.26 97.50,177.84 97.90,177.41 98.30,176.99 98.70,176.56 99.10,176.14 99.50,175.72 99.90,175.31 100.30,174.90 100.70,174.49 101.10,174.09 101.50,173.69 101.90,173.29 102.30,172.89 102.70,172.49 103.10,172.10 103.50,171.70 103.90,171.30 104.30,170.90 104.70,170.50 105.10,170.09 105.50,169.69 105.90,169.29 106.30,168.89 106.70,168.48 107.10,168.09 107.50,167.69 107.90,167.30 108.30,166.91 108.70,166.52 109.10,166.14 109.50,165.76 109.90,165.37 110.30,165.00 110.70,164.62 111.10,164.25 111.50,163.88 111.90,163.52 112.30,163.16 112.70,162.81 113.10,162.47 113.50,162.12 113.90,161.78 114.30,161.44 114.70,161.09 115.10,160.74 115.50,160.39 115.90,160.03 116.30,159.66 116.70,159.29 117.10,158.92 117.50,158.55 117.90,158.18 118.30,157.80 118.70,157.43 119.10,157.07 119.50,156.71 119.90,156.35 120.30,156.00 120.70,155.65 121.10,155.30 121.50,154.95 121.90,154.60 122.30,154.26 122.70,153.92 123.10,153.58 123.50,153.25 123.90,152.92 124.30,152.59 124.70,152.26 125.10,151.94 125.50,151.61 125.90,151.29 126.30,150.97 126.70,150.66 127.10,150.34 127.50,150.03 127.90,149.72 128.30,149.41 128.70,149.11 129.10,148.80 129.50,148.50 129.90,148.20 130.30,147.90 130.70,147.60 131.10,147.30 131.50,147.00 131.90,146.70 132.30,146.40 132.70,146.11 133.10,145.81 133.50,145.52 133.90,145.23 134.30,144.94 134.70,144.66 135.10,144.37 135.50,144.09 135.90,143.81 136.30,143.53 136.70,143.25 137.10,142.98 137.50,142.72 137.90,142.45 138.30,142.20 138.70,141.95 139.10,141.71 139.50,141.47 139.90,141.24 140.30,141.01 140.70,140.78 141.10,140.55 141.50,140.33 141.90,140.11 142.30,139.89 142.70,139.67 143.10,139.45 143.50,139.24 143.90,139.02 144.30,138.81 144.70,138.60 145.10,138.40 145.50,138.20 145.90,138.00 146.30,137.81 146.70,137.62 147.10,137.43 147.50,137.25 147.90,137.07 148.30,136.89 148.70,136.72 149.10,136.55 149.50,136.38 149.90,136.22 150.30,136.06 150.70,135.90 151.10,135.75 151.50,135.60 151.90,135.45 152.30,135.30 152.70,135.16 153.10,135.03 153.50,134.90 153.90,134.77 154.30,134.65 154.70,134.52 155.10,134.39 155.50,134.27 155.90,134.16 156.30,134.05 156.70,133.96 157.10,133.87 157.50,133.80 157.90,133.74 158.30,133.68 158.70,133.62 159.10,133.57 159.50,133.52 159.90,133.47 160.30,133.43 160.70,133.39 161.10,133.36 161.50,133.32 161.90,133.29 162.30,133.26 162.70,133.23 163.10,133.20 163.50,133.18 163.90,133.15 164.30,133.13 164.70,133.11 165.10,133.10 165.50,133.10 165.90,133.10 166.30,133.10 166.70,133.10 167.10,133.10 167.50,133.10 167.90,133.10 168.30,133.10 168.70,133.10 169.10,133.10 169.50,133.10 169.90,133.10 170.30,133.11 170.70,133.12 171.10,133.14 171.50,133.15 171.90,133.16 172.30,133.18 172.70,133.19 173.10,133.20 173.50,133.21 173.90,133.22 174.30,133.23 174.70,133.24 175.10,133.25 175.50,133.26 175.90,133.27 176.30,133.28 176.70,133.29 177.10,133.31 177.50,133.32 177.90,133.34 178.30,133.36 178.70,133.39 179.10,133.41 179.50,133.43 179.90,133.46 180.30,133.48 180.70,133.50 181.10,133.52 181.50,133.55 181.90,133.58 182.30,133.61 182.70,133.63 183.10,133.66 183.50,133.68 183.90,133.69 184.30,133.70 184.70,133.70 185.10,133.70 185.50,133.70 185.90,133.70 186.30,133.70 186.70,133.70 187.10,133.70 187.50,133.70 187.90,133.70 188.30,133.70 188.70,133.70 189.10,133.70 189.30,133.70" fill="none" stroke="#0000ff" stroke-width="1.0" stroke-linejoin="round"/><path d="M33.13,301.31L34.93,299.78L36.73,301.31L34.93,302.84Z" fill="#0000ff"/><path d="M36.96,282.75L38.76,281.22L40.56,282.75L38.76,284.28Z" fill="#0000ff"/><path d="M40.79,271.74L42.59,270.21L44.39,271.74L42.59,273.27Z" fill="#0000ff"/><path d="M44.62,261.04L46.42,259.51L48.22,261.04L46.42,262.57Z" fill="#0000ff"/><path d="M48.45,252.89L50.25,251.36L52.05,252.89L50.25,254.42Z" fill="#0000ff"/><path d="M52.28,243.34L54.08,241.81L55.88,243.34L54.08,244.87Z" fill="#0000ff"/><path d="M56.11,234.18L57.91,232.65L59.71,234.18L57.91,235.71Z" fill="#0000ff"/><path d="M59.94,226.91L61.74,225.38L63.54,226.91L61.74,228.44Z" fill="#0000ff"/><path d="M63.77,220.29L65.57,218.76L67.37,220.29L65.57,221.82Z" fill="#0000ff"/><path d="M67.60,213.97L69.40,212.44L71.20,213.97L69.40,215.50Z" fill="#0000ff"/><path d="M71.43,207.43L73.23,205.90L75.03,207.43L73.23,208.96Z" fill="#0000ff"/><path d="M75.26,201.92L77.06,200.39L78.86,201.92L77.06,203.45Z" fill="#0000ff"/><path d="M79.09,196.52L80.89,194.99L82.69,196.52L80.89,198.05Z" fill="#0000ff"/><path d="M82.92,191.62L84.72,190.09L86.52,191.62L84.72,193.15Z" fill="#0000ff"/><path d="M86.75,187.26L88.55,185.73L90.35,187.26L88.55,188.79Z" fill="#0000ff"/><path d="M90.58,183.23L92.38,181.70L94.18,183.23L92.38,184.76Z" fill="#0000ff"/><path d="M94.41,179.20L96.21,177.67L98.01,179.20L96.21,180.73Z" fill="#0000ff"/><path d="M98.24,175.16L100.04,173.63L101.84,175.16L100.04,176.69Z" fill="#0000ff"/><path d="M102.07,171.33L103.87,169.80L105.67,171.33L103.87,172.86Z" fill="#0000ff"/><path d="M105.90,167.50L107.70,165.97L109.50,167.50L107.70,169.03Z" fill="#0000ff"/><path d="M109.73,163.85L111.53,162.32L113.33,163.85L111.53,165.38Z" fill="#0000ff"/><path d="M113.56,160.51L115.36,158.98L117.16,160.51L115.36,162.04Z" fill="#0000ff"/><path d="M117.39,156.99L119.19,155.46L120.99,156.99L119.19,158.52Z" fill="#0000ff"/><path d="M121.22,153.65L123.02,152.12L124.82,153.65L123.02,155.18Z" fill="#0000ff"/><path d="M125.05,150.54L126.85,149.01L128.65,150.54L126.85,152.07Z" fill="#0000ff"/><path d="M128.88,147.61L130.68,146.08L132.48,147.61L130.68,149.14Z" fill="#0000ff"/><path d="M132.71,144.79L134.51,143.26L136.31,144.79L134.51,146.32Z" fill="#0000ff"/><path d="M136.54,142.17L138.34,140.64L140.14,142.17L138.34,143.70Z" fill="#0000ff"/><path d="M140.37,139.96L142.17,138.43L143.97,139.96L142.17,141.49Z" fill="#0000ff"/><path d="M144.20,137.95L146.00,136.42L147.80,137.95L146.00,139.48Z" fill="#0000ff"/><path d="M148.03,136.25L149.83,134.72L151.63,136.25L149.83,137.78Z" fill="#0000ff"/><path d="M151.86,134.85L153.66,133.32L155.46,134.85L153.66,136.38Z" fill="#0000ff"/><path d="M155.69,133.80L157.49,132.27L159.29,133.80L157.49,135.33Z" fill="#0000ff"/><path d="M159.52,133.34L161.32,131.81L163.12,133.34L161.32,134.87Z" fill="#0000ff"/><path d="M163.35,133.10L165.15,131.57L166.95,133.10L165.15,134.63Z" fill="#0000ff"/><path d="M167.18,133.10L168.98,131.57L170.78,133.10L168.98,134.63Z" fill="#0000ff"/><path d="M171.01,133.19L172.81,131.66L174.61,133.19L172.81,134.72Z" fill="#0000ff"/><path d="M174.84,133.29L176.64,131.76L178.44,133.29L176.64,134.82Z" fill="#0000ff"/><path d="M178.67,133.49L180.47,131.96L182.27,133.49L180.47,135.02Z" fill="#0000ff"/><path d="M182.50,133.70L184.30,132.17L186.10,133.70L184.30,135.23Z" fill="#0000ff"/><path d="M186.33,133.70L188.13,132.17L189.93,133.70L188.13,135.23Z" fill="#0000ff"/></g>
<g clip-path="url(#cR)"><polyline points="189.40,118.50 189.80,118.15 190.20,117.80 190.60,117.44 191.00,117.09 191.40,116.72 191.80,116.36 192.20,116.00 192.60,115.64 193.00,115.27 193.40,114.91 193.80,114.56 194.20,114.20 194.60,113.85 195.00,113.50 195.40,113.15 195.80,112.80 196.20,112.45 196.60,112.11 197.00,111.76 197.40,111.42 197.80,111.07 198.20,110.73 198.60,110.39 199.00,110.05 199.40,109.71 199.80,109.37 200.20,109.04 200.60,108.70 201.00,108.36 201.40,108.02 201.80,107.67 202.20,107.32 202.60,106.97 203.00,106.61 203.40,106.25 203.80,105.88 204.20,105.52 204.60,105.16 205.00,104.80 205.40,104.45 205.80,104.10 206.20,103.76 206.60,103.43 207.00,103.10 207.40,102.78 207.80,102.45 208.20,102.13 208.60,101.81 209.00,101.48 209.40,101.15 209.80,100.82 210.20,100.48 210.60,100.13 211.00,99.78 211.40,99.44 211.80,99.09 212.20,98.74 212.60,98.39 213.00,98.04 213.40,97.70 213.80,97.36 214.20,97.02 214.60,96.69 215.00,96.35 215.40,96.02 215.80,95.69 216.20,95.35 216.60,95.02 217.00,94.68 217.40,94.35 217.80,94.01 218.20,93.66 218.60,93.32 219.00,92.98 219.40,92.63 219.80,92.29 220.20,91.95 220.60,91.62 221.00,91.28 221.40,90.95 221.80,90.62 222.20,90.29 222.60,89.97 223.00,89.64 223.40,89.32 223.80,89.00 224.20,88.69 224.60,88.38 225.00,88.07 225.40,87.77 225.80,87.47 226.20,87.18 226.60,86.89 227.00,86.60 227.40,86.31 227.80,86.02 228.20,85.73 228.60,85.43 229.00,85.12 229.40,84.82 229.80,84.50 230.20,84.19 230.60,83.88 231.00,83.56 231.40,83.24 231.80,82.92 232.20,82.60 232.60,82.28 233.00,81.96 233.40,81.64 233.80,81.31 234.20,80.98 234.60,80.65 235.00,80.33 235.40,80.00 235.80,79.68 236.20,79.36 236.60,79.04 237.00,78.73 237.40,78.42 237.80,78.11 238.20,77.80 238.60,77.50 239.00,77.19 239.40,76.89 239.80,76.58 240.20,76.28 240.60,75.97 241.00,75.67 241.40,75.36 241.80,75.06 242.20,74.75 242.60,74.45 243.00,74.15 243.40,73.84 243.80,73.53 244.20,73.22 244.60,72.91 245.00,72.59 245.40,72.28 245.80,71.96 246.20,71.64 246.60,71.32 247.00,71.00 247.40,70.69 247.80,70.38 248.20,70.07 248.60,69.76 249.00,69.46 249.40,69.16 249.80,68.86 250.20,68.56 250.60,68.26 251.00,67.97 251.40,67.67 251.80,67.38 252.20,67.09 252.60,66.80 253.00,66.52 253.40,66.23 253.80,65.95 254.20,65.66 254.60,65.38 255.00,65.09 255.40,64.80 255.80,64.51 256.20,64.22 256.60,63.93 257.00,63.64 257.40,63.34 257.80,63.05 258.20,62.75 258.60,62.45 259.00,62.15 259.40,61.85 259.80,61.54 260.20,61.22 260.60,60.90 261.00,60.58 261.40,60.26 261.80,59.93 262.20,59.61 262.60,59.29 263.00,58.98 263.40,58.67 263.80,58.36 264.20,58.05 264.60,57.74 265.00,57.44 265.40,57.13 265.80,56.83 266.20,56.52 266.60,56.21 267.00,55.90 267.40,55.59 267.80,55.27 268.20,54.96 268.60,54.64 269.00,54.32 269.40,54.00 269.80,53.69 270.20,53.37 270.60,53.06 271.00,52.74 271.40,52.43 271.80,52.13 272.20,51.82 272.60,51.51 273.00,51.21 273.40,50.90 273.80,50.60 274.20,50.29 274.60,49.98 275.00,49.67 275.40,49.35 275.80,49.04 276.20,48.72 276.60,48.41 277.00,48.09 277.40,47.77 277.80,47.45 278.20,47.14 278.60,46.82 279.00,46.50 279.40,46.18 279.80,45.86 280.20,45.53 280.60,45.21 281.00,44.90 281.40,44.58 281.80,44.28 282.20,43.98 282.60,43.68 283.00,43.39 283.40,43.10 283.80,42.81 284.20,42.53 284.60,42.25 285.00,41.97 285.40,41.69 285.80,41.41 286.20,41.13 286.60,40.86 287.00,40.58 287.40,40.31 287.80,40.05 288.20,39.78 288.60,39.51 289.00,39.24 289.40,38.97 289.80,38.70 290.20,38.43 290.60,38.16 291.00,37.89 291.40,37.61 291.80,37.34 292.20,37.06 292.60,36.78 293.00,36.51 293.40,36.23 293.80,35.94 294.20,35.66 294.60,35.37 295.00,35.07 295.40,34.78 295.80,34.48 296.20,34.18 296.60,33.88 297.00,33.58 297.40,33.29 297.80,33.00 298.20,32.71 298.60,32.43 299.00,32.15 299.40,31.87 299.80,31.60 300.20,31.32 300.60,31.04 301.00,30.76 301.40,30.48 301.80,30.20 302.20,29.91 302.60,29.62 303.00,29.32 303.40,29.03 303.80,28.73 304.20,28.45 304.60,28.17 305.00,27.90 305.40,27.63 305.80,27.37 306.20,27.12 306.60,26.86 307.00,26.61 307.40,26.36 307.80,26.12 308.20,25.88 308.60,25.64 309.00,25.40 309.40,25.17 309.80,24.93 310.20,24.71 310.60,24.48 311.00,24.26 311.40,24.03 311.80,23.81 312.20,23.59 312.60,23.37 313.00,23.15 313.40,22.94 313.80,22.72 314.20,22.50 314.60,22.28 315.00,22.07 315.40,21.85 315.80,21.64 316.20,21.43 316.60,21.21 317.00,21.00 317.40,20.79 317.80,20.57 318.20,20.36 318.60,20.15 319.00,19.93 319.40,19.72 319.80,19.51 320.20,19.31 320.60,19.10 321.00,18.90 321.40,18.70 321.80,18.50 322.20,18.30 322.60,18.11 323.00,17.92 323.40,17.72 323.80,17.53 324.20,17.34 324.60,17.15 325.00,16.96 325.40,16.76 325.80,16.57 326.20,16.37 326.60,16.18 327.00,15.99 327.40,15.80 327.80,15.62 328.20,15.44 328.60,15.27 329.00,15.11 329.40,14.94 329.80,14.78 330.20,14.62 330.60,14.47 331.00,14.32 331.40,14.16 331.80,14.01 332.20,13.86 332.60,13.72 333.00,13.57 333.40,13.43 333.80,13.30 334.20,13.16 334.60,13.02 335.00,12.88 335.40,12.73 335.80,12.58 336.20,12.42 336.60,12.25 337.00,12.07 337.40,11.89 337.80,11.70 338.20,11.52 338.60,11.34 339.00,11.16 339.40,11.00 339.80,10.84 340.20,10.69 340.60,10.54 341.00,10.39 341.40,10.25 341.80,10.11 342.20,9.97 342.60,9.83 343.00,9.70 343.40,9.57 343.80,9.44 344.20,9.31 344.60,9.19 345.00,9.07 345.40,8.95 345.80,8.83 346.20,8.71 346.60,8.59 347.00,8.46 347.40,8.33 347.80,8.20 348.20,8.07 348.40,8.00" fill="none" stroke="#ff00ff" stroke-width="1.0" stroke-linejoin="round"/><circle cx="190.20" cy="117.80" r="1.50" fill="#ff00ff"/><circle cx="194.04" cy="114.34" r="1.50" fill="#ff00ff"/><circle cx="197.88" cy="111.00" r="1.50" fill="#ff00ff"/><circle cx="201.72" cy="107.74" r="1.50" fill="#ff00ff"/><circle cx="205.56" cy="104.31" r="1.50" fill="#ff00ff"/><circle cx="209.40" cy="101.15" r="1.50" fill="#ff00ff"/><circle cx="213.24" cy="97.84" r="1.50" fill="#ff00ff"/><circle cx="217.08" cy="94.62" r="1.50" fill="#ff00ff"/><circle cx="220.92" cy="91.35" r="1.50" fill="#ff00ff"/><circle cx="224.76" cy="88.25" r="1.50" fill="#ff00ff"/><circle cx="228.60" cy="85.43" r="1.50" fill="#ff00ff"/><circle cx="232.44" cy="82.41" r="1.50" fill="#ff00ff"/><circle cx="236.28" cy="79.29" r="1.50" fill="#ff00ff"/><circle cx="240.12" cy="76.34" r="1.50" fill="#ff00ff"/><circle cx="243.96" cy="73.41" r="1.50" fill="#ff00ff"/><circle cx="247.80" cy="70.38" r="1.50" fill="#ff00ff"/><circle cx="251.64" cy="67.50" r="1.50" fill="#ff00ff"/><circle cx="255.48" cy="64.74" r="1.50" fill="#ff00ff"/><circle cx="259.32" cy="61.91" r="1.50" fill="#ff00ff"/><circle cx="263.16" cy="58.85" r="1.50" fill="#ff00ff"/><circle cx="267.00" cy="55.90" r="1.50" fill="#ff00ff"/><circle cx="270.84" cy="52.87" r="1.50" fill="#ff00ff"/><circle cx="274.68" cy="49.92" r="1.50" fill="#ff00ff"/><circle cx="278.52" cy="46.88" r="1.50" fill="#ff00ff"/><circle cx="282.36" cy="43.86" r="1.50" fill="#ff00ff"/><circle cx="286.20" cy="41.13" r="1.50" fill="#ff00ff"/><circle cx="290.04" cy="38.54" r="1.50" fill="#ff00ff"/><circle cx="293.88" cy="35.89" r="1.50" fill="#ff00ff"/><circle cx="297.72" cy="33.06" r="1.50" fill="#ff00ff"/><circle cx="301.56" cy="30.37" r="1.50" fill="#ff00ff"/><circle cx="305.40" cy="27.63" r="1.50" fill="#ff00ff"/><circle cx="309.24" cy="25.26" r="1.50" fill="#ff00ff"/><circle cx="313.08" cy="23.11" r="1.50" fill="#ff00ff"/><circle cx="316.92" cy="21.04" r="1.50" fill="#ff00ff"/><circle cx="320.76" cy="19.02" r="1.50" fill="#ff00ff"/><circle cx="324.60" cy="17.15" r="1.50" fill="#ff00ff"/><circle cx="328.44" cy="15.34" r="1.50" fill="#ff00ff"/><circle cx="332.28" cy="13.83" r="1.50" fill="#ff00ff"/><circle cx="336.12" cy="12.45" r="1.50" fill="#ff00ff"/><circle cx="339.96" cy="10.78" r="1.50" fill="#ff00ff"/><circle cx="343.80" cy="9.44" r="1.50" fill="#ff00ff"/><circle cx="347.64" cy="8.26" r="1.50" fill="#ff00ff"/></g>
<g clip-path="url(#cR)"><polyline points="189.40,177.40 189.80,176.85 190.20,176.29 190.60,175.70 191.00,175.07 191.40,174.43 191.80,173.76 192.20,173.08 192.60,172.40 193.00,171.73 193.40,171.07 193.80,170.42 194.20,169.80 194.60,169.20 195.00,168.62 195.40,168.06 195.80,167.50 196.20,166.95 196.60,166.40 197.00,165.85 197.40,165.29 197.80,164.73 198.20,164.16 198.60,163.57 199.00,162.99 199.40,162.40 199.80,161.81 200.20,161.21 200.60,160.62 201.00,160.02 201.40,159.43 201.80,158.85 202.20,158.26 202.60,157.68 203.00,157.11 203.40,156.53 203.80,155.96 204.20,155.38 204.60,154.81 205.00,154.23 205.40,153.65 205.80,153.06 206.20,152.46 206.60,151.86 207.00,151.26 207.40,150.66 207.80,150.06 208.20,149.46 208.60,148.87 209.00,148.29 209.40,147.71 209.80,147.14 210.20,146.57 210.60,146.01 211.00,145.45 211.40,144.89 211.80,144.34 212.20,143.80 212.60,143.26 213.00,142.74 213.40,142.22 213.80,141.70 214.20,141.19 214.60,140.69 215.00,140.19 215.40,139.69 215.80,139.21 216.20,138.73 216.60,138.25 217.00,137.78 217.40,137.32 217.80,136.87 218.20,136.43 218.60,135.99 219.00,135.56 219.40,135.13 219.80,134.70 220.20,134.27 220.60,133.84 221.00,133.40 221.40,132.96 221.80,132.52 222.20,132.09 222.60,131.65 223.00,131.21 223.40,130.77 223.80,130.33 224.20,129.89 224.60,129.45 225.00,129.00 225.40,128.55 225.80,128.09 226.20,127.64 226.60,127.18 227.00,126.72 227.40,126.26 227.80,125.80 228.20,125.35 228.60,124.91 229.00,124.47 229.40,124.04 229.80,123.61 230.20,123.18 230.60,122.75 231.00,122.33 231.40,121.92 231.80,121.51 232.20,121.10 232.60,120.70 233.00,120.31 233.40,119.92 233.80,119.53 234.20,119.15 234.60,118.77 235.00,118.40 235.40,118.02 235.80,117.65 236.20,117.28 236.60,116.92 237.00,116.55 237.40,116.19 237.80,115.83 238.20,115.47 238.60,115.11 239.00,114.76 239.40,114.41 239.80,114.05 240.20,113.70 240.60,113.35 241.00,113.00 241.40,112.65 241.80,112.30 242.20,111.96 242.60,111.61 243.00,111.27 243.40,110.92 243.80,110.57 244.20,110.23 244.60,109.88 245.00,109.54 245.40,109.20 245.80,108.86 246.20,108.52 246.60,108.17 247.00,107.82 247.40,107.46 247.80,107.10 248.20,106.73 248.60,106.35 249.00,105.96 249.40,105.57 249.80,105.18 250.20,104.78 250.60,104.39 251.00,103.99 251.40,103.60 251.80,103.21 252.20,102.81 252.60,102.41 253.00,102.01 253.40,101.61 253.80,101.22 254.20,100.84 254.60,100.48 255.00,100.13 255.40,99.78 255.80,99.45 256.20,99.12 256.60,98.80 257.00,98.49 257.40,98.18 257.80,97.87 258.20,97.56 258.60,97.25 259.00,96.95 259.40,96.65 259.80,96.35 260.20,96.05 260.60,95.76 261.00,95.47 261.40,95.18 261.80,94.89 262.20,94.60 262.60,94.30 263.00,94.00 263.40,93.70 263.80,93.39 264.20,93.08 264.60,92.78 265.00,92.47 265.40,92.18 265.80,91.88 266.20,91.60 266.60,91.32 267.00,91.06 267.40,90.79 267.80,90.53 268.20,90.28 268.60,90.02 269.00,89.77 269.40,89.52 269.80,89.26 270.20,89.00 270.60,88.74 271.00,88.48 271.40,88.22 271.80,87.96 272.20,87.70 272.60,87.44 273.00,87.18 273.40,86.91 273.80,86.64 274.20,86.36 274.60,86.08 275.00,85.79 275.40,85.49 275.80,85.20 276.20,84.90 276.60,84.60 277.00,84.31 277.40,84.02 277.80,83.73 278.20,83.45 278.60,83.17 279.00,82.89 279.40,82.62 279.80,82.34 280.20,82.06 280.60,81.79 281.00,81.50 281.40,81.22 281.80,80.93 282.20,80.63 282.60,80.32 283.00,80.02 283.40,79.71 283.80,79.39 284.20,79.08 284.60,78.77 285.00,78.46 285.40,78.15 285.80,77.85 286.20,77.55 286.60,77.24 287.00,76.94 287.40,76.64 287.80,76.33 288.20,76.04 288.60,75.74 289.00,75.46 289.40,75.17 289.80,74.90 290.20,74.63 290.60,74.37 291.00,74.12 291.40,73.87 291.80,73.63 292.20,73.38 292.60,73.14 293.00,72.90 293.40,72.65 293.80,72.40 294.20,72.15 294.60,71.90 295.00,71.64 295.40,71.39 295.80,71.14 296.20,70.89 296.60,70.63 297.00,70.38 297.40,70.13 297.80,69.87 298.20,69.62 298.60,69.36 299.00,69.10 299.40,68.84 299.80,68.58 300.20,68.32 300.60,68.07 301.00,67.82 301.40,67.58 301.80,67.34 302.20,67.11 302.60,66.88 303.00,66.65 303.40,66.42 303.80,66.20 304.20,65.97 304.60,65.74 305.00,65.52 305.40,65.28 305.80,65.05 306.20,64.82 306.60,64.58 307.00,64.34 307.40,64.11 307.80,63.88 308.20,63.65 308.60,63.42 309.00,63.20 309.40,62.98 309.80,62.77 310.20,62.55 310.60,62.34 311.00,62.14 311.40,61.93 311.80,61.73 312.20,61.54 312.60,61.35 313.00,61.16 313.40,60.98 313.80,60.81 314.20,60.64 314.60,60.47 315.00,60.30 315.40,60.13 315.80,59.97 316.20,59.81 316.60,59.64 317.00,59.47 317.40,59.30 317.80,59.12 318.20,58.95 318.60,58.78 319.00,58.61 319.40,58.45 319.80,58.30 320.20,58.16 320.60,58.04 321.00,57.93 321.40,57.83 321.80,57.73 322.20,57.63 322.60,57.55 323.00,57.46 323.40,57.37 323.80,57.29 324.20,57.20 324.60,57.11 325.00,57.02 325.40,56.93 325.80,56.85 326.20,56.76 326.60,56.68 327.00,56.60 327.40,56.52 327.80,56.45 328.20,56.38 328.60,56.33 329.00,56.27 329.40,56.22 329.80,56.17 330.20,56.12 330.60,56.08 331.00,56.03 331.40,55.98 331.80,55.93 332.20,55.87 332.60,55.81 333.00,55.75 333.40,55.69 333.80,55.62 334.20,55.56 334.60,55.49 335.00,55.43 335.40,55.36 335.80,55.30 336.20,55.24 336.60,55.18 337.00,55.13 337.40,55.07 337.80,55.02 338.20,54.96 338.60,54.90 339.00,54.83 339.40,54.76 339.80,54.68 340.20,54.59 340.60,54.50 341.00,54.40 341.40,54.30 341.80,54.18 342.20,54.06 342.60,53.93 343.00,53.79 343.40,53.64 343.80,53.47 344.20,53.28 344.60,53.06 345.00,52.83 345.40,52.58 345.80,52.32 346.20,52.05 346.60,51.79 347.00,51.54 347.40,51.27 347.80,51.01 348.20,50.73 348.40,50.60" fill="none" stroke="#bc8f8f" stroke-width="1.2" stroke-linejoin="round"/><path d="M188.35,174.81L192.05,174.81L190.20,178.14Z" fill="#bc8f8f"/><path d="M192.19,168.56L195.89,168.56L194.04,171.89Z" fill="#bc8f8f"/><path d="M196.03,163.14L199.73,163.14L197.88,166.47Z" fill="#bc8f8f"/><path d="M199.87,157.48L203.57,157.48L201.72,160.81Z" fill="#bc8f8f"/><path d="M203.71,151.93L207.41,151.93L205.56,155.26Z" fill="#bc8f8f"/><path d="M207.55,146.23L211.25,146.23L209.40,149.56Z" fill="#bc8f8f"/><path d="M211.39,140.94L215.09,140.94L213.24,144.27Z" fill="#bc8f8f"/><path d="M215.23,136.21L218.93,136.21L217.08,139.54Z" fill="#bc8f8f"/><path d="M219.07,132.01L222.77,132.01L220.92,135.34Z" fill="#bc8f8f"/><path d="M222.91,127.79L226.61,127.79L224.76,131.12Z" fill="#bc8f8f"/><path d="M226.75,123.43L230.45,123.43L228.60,126.76Z" fill="#bc8f8f"/><path d="M230.59,119.38L234.29,119.38L232.44,122.71Z" fill="#bc8f8f"/><path d="M234.43,115.73L238.13,115.73L236.28,119.06Z" fill="#bc8f8f"/><path d="M238.27,112.29L241.97,112.29L240.12,115.62Z" fill="#bc8f8f"/><path d="M242.11,108.95L245.81,108.95L243.96,112.28Z" fill="#bc8f8f"/><path d="M245.95,105.62L249.65,105.62L247.80,108.95Z" fill="#bc8f8f"/><path d="M249.79,101.89L253.49,101.89L251.64,105.22Z" fill="#bc8f8f"/><path d="M253.63,98.24L257.33,98.24L255.48,101.57Z" fill="#bc8f8f"/><path d="M257.47,95.23L261.17,95.23L259.32,98.56Z" fill="#bc8f8f"/><path d="M261.31,92.40L265.01,92.40L263.16,95.73Z" fill="#bc8f8f"/><path d="M265.15,89.58L268.85,89.58L267.00,92.91Z" fill="#bc8f8f"/><path d="M268.99,87.10L272.69,87.10L270.84,90.43Z" fill="#bc8f8f"/><path d="M272.83,84.54L276.53,84.54L274.68,87.87Z" fill="#bc8f8f"/><path d="M276.67,81.74L280.37,81.74L278.52,85.07Z" fill="#bc8f8f"/><path d="M280.51,79.03L284.21,79.03L282.36,82.36Z" fill="#bc8f8f"/><path d="M284.35,76.07L288.05,76.07L286.20,79.40Z" fill="#bc8f8f"/><path d="M288.19,73.26L291.89,73.26L290.04,76.59Z" fill="#bc8f8f"/><path d="M292.03,70.87L295.73,70.87L293.88,74.20Z" fill="#bc8f8f"/><path d="M295.87,68.44L299.57,68.44L297.72,71.77Z" fill="#bc8f8f"/><path d="M299.71,66.00L303.41,66.00L301.56,69.33Z" fill="#bc8f8f"/><path d="M303.55,63.80L307.25,63.80L305.40,67.13Z" fill="#bc8f8f"/><path d="M307.39,61.59L311.09,61.59L309.24,64.92Z" fill="#bc8f8f"/><path d="M311.23,59.65L314.93,59.65L313.08,62.98Z" fill="#bc8f8f"/><path d="M315.07,58.03L318.77,58.03L316.92,61.36Z" fill="#bc8f8f"/><path d="M318.91,56.52L322.61,56.52L320.76,59.85Z" fill="#bc8f8f"/><path d="M322.75,55.63L326.45,55.63L324.60,58.96Z" fill="#bc8f8f"/><path d="M326.59,54.87L330.29,54.87L328.44,58.20Z" fill="#bc8f8f"/><path d="M330.43,54.38L334.13,54.38L332.28,57.71Z" fill="#bc8f8f"/><path d="M334.27,53.77L337.97,53.77L336.12,57.10Z" fill="#bc8f8f"/><path d="M338.11,53.17L341.81,53.17L339.96,56.50Z" fill="#bc8f8f"/><path d="M341.95,51.99L345.65,51.99L343.80,55.32Z" fill="#bc8f8f"/><path d="M345.79,49.63L349.49,49.63L347.64,52.96Z" fill="#bc8f8f"/></g>
<g clip-path="url(#cR)"><polyline points="189.40,205.40 189.80,204.83 190.20,204.26 190.60,203.69 191.00,203.12 191.40,202.55 191.80,201.98 192.20,201.41 192.60,200.84 193.00,200.27 193.40,199.70 193.80,199.13 194.20,198.56 194.60,198.00 195.00,197.43 195.40,196.86 195.80,196.29 196.20,195.73 196.60,195.16 197.00,194.60 197.40,194.04 197.80,193.48 198.20,192.92 198.60,192.36 199.00,191.80 199.40,191.25 199.80,190.69 200.20,190.13 200.60,189.58 201.00,189.02 201.40,188.47 201.80,187.91 202.20,187.36 202.60,186.80 203.00,186.24 203.40,185.69 203.80,185.13 204.20,184.57 204.60,184.00 205.00,183.44 205.40,182.88 205.80,182.31 206.20,181.74 206.60,181.17 207.00,180.60 207.40,180.03 207.80,179.45 208.20,178.88 208.60,178.31 209.00,177.73 209.40,177.16 209.80,176.58 210.20,176.01 210.60,175.43 211.00,174.86 211.40,174.28 211.80,173.71 212.20,173.14 212.60,172.57 213.00,172.00 213.40,171.43 213.80,170.86 214.20,170.29 214.60,169.72 215.00,169.15 215.40,168.59 215.80,168.02 216.20,167.45 216.60,166.88 217.00,166.31 217.40,165.75 217.80,165.18 218.20,164.61 218.60,164.05 219.00,163.49 219.40,162.93 219.80,162.36 220.20,161.81 220.60,161.25 221.00,160.69 221.40,160.14 221.80,159.59 222.20,159.04 222.60,158.49 223.00,157.94 223.40,157.39 223.80,156.85 224.20,156.30 224.60,155.76 225.00,155.22 225.40,154.68 225.80,154.14 226.20,153.60 226.60,153.06 227.00,152.53 227.40,151.99 227.80,151.45 228.20,150.92 228.60,150.38 229.00,149.84 229.40,149.31 229.80,148.77 230.20,148.23 230.60,147.69 231.00,147.15 231.40,146.61 231.80,146.07 232.20,145.53 232.60,144.99 233.00,144.45 233.40,143.91 233.80,143.37 234.20,142.83 234.60,142.30 235.00,141.77 235.40,141.24 235.80,140.71 236.20,140.18 236.60,139.66 237.00,139.14 237.40,138.63 237.80,138.12 238.20,137.60 238.60,137.08 239.00,136.56 239.40,136.03 239.80,135.51 240.20,134.99 240.60,134.47 241.00,133.96 241.40,133.45 241.80,132.94 242.20,132.45 242.60,131.96 243.00,131.49 243.40,131.02 243.80,130.57 244.20,130.13 244.60,129.71 245.00,129.30 245.40,128.91 245.80,128.53 246.20,128.16 246.60,127.80 247.00,127.45 247.40,127.11 247.80,126.78 248.20,126.45 248.60,126.13 249.00,125.81 249.40,125.49 249.80,125.17 250.20,124.86 250.60,124.54 251.00,124.22 251.40,123.89 251.80,123.57 252.20,123.23 252.60,122.90 253.00,122.57 253.40,122.24 253.80,121.90 254.20,121.57 254.60,121.24 255.00,120.91 255.40,120.58 255.80,120.25 256.20,119.92 256.60,119.59 257.00,119.26 257.40,118.93 257.80,118.61 258.20,118.28 258.60,117.95 259.00,117.62 259.40,117.29 259.80,116.96 260.20,116.64 260.60,116.31 261.00,115.98 261.40,115.66 261.80,115.33 262.20,115.01 262.60,114.68 263.00,114.36 263.40,114.03 263.80,113.71 264.20,113.38 264.60,113.05 265.00,112.72 265.40,112.40 265.80,112.07 266.20,111.73 266.60,111.40 267.00,111.07 267.40,110.74 267.80,110.40 268.20,110.07 268.60,109.74 269.00,109.40 269.40,109.07 269.80,108.73 270.20,108.39 270.60,108.06 271.00,107.72 271.40,107.38 271.80,107.04 272.20,106.70 272.60,106.36 273.00,106.02 273.40,105.67 273.80,105.33 274.20,104.98 274.60,104.63 275.00,104.29 275.40,103.94 275.80,103.59 276.20,103.24 276.60,102.88 277.00,102.53 277.40,102.18 277.80,101.82 278.20,101.47 278.60,101.11 279.00,100.75 279.40,100.40 279.80,100.04 280.20,99.68 280.60,99.32 281.00,98.96 281.40,98.60 281.80,98.23 282.20,97.87 282.60,97.51 283.00,97.14 283.40,96.77 283.80,96.40 284.20,96.02 284.60,95.65 285.00,95.29 285.40,94.92 285.80,94.57 286.20,94.23 286.60,93.89 287.00,93.57 287.40,93.24 287.80,92.92 288.20,92.60 288.60,92.29 289.00,91.98 289.40,91.67 289.80,91.36 290.20,91.04 290.60,90.74 291.00,90.43 291.40,90.13 291.80,89.82 292.20,89.53 292.60,89.23 293.00,88.93 293.40,88.64 293.80,88.35 294.20,88.06 294.60,87.77 295.00,87.48 295.40,87.19 295.80,86.91 296.20,86.62 296.60,86.33 297.00,86.05 297.40,85.76 297.80,85.47 298.20,85.18 298.60,84.90 299.00,84.61 299.40,84.32 299.80,84.03 300.20,83.74 300.60,83.46 301.00,83.17 301.40,82.89 301.80,82.61 302.20,82.33 302.60,82.05 303.00,81.78 303.40,81.50 303.80,81.23 304.20,80.96 304.60,80.69 305.00,80.43 305.40,80.17 305.80,79.90 306.20,79.64 306.60,79.37 307.00,79.11 307.40,78.84 307.80,78.59 308.20,78.34 308.60,78.10 309.00,77.87 309.40,77.65 309.80,77.45 310.20,77.26 310.60,77.07 311.00,76.90 311.40,76.72 311.80,76.56 312.20,76.40 312.60,76.24 313.00,76.08 313.40,75.92 313.80,75.77 314.20,75.62 314.60,75.47 315.00,75.33 315.40,75.19 315.80,75.05 316.20,74.91 316.60,74.77 317.00,74.63 317.40,74.49 317.80,74.34 318.20,74.19 318.60,74.04 319.00,73.90 319.40,73.76 319.80,73.64 320.20,73.52 320.60,73.42 321.00,73.33 321.40,73.25 321.80,73.17 322.20,73.09 322.60,73.02 323.00,72.95 323.40,72.90 323.80,72.85 324.20,72.81 324.60,72.78 325.00,72.75 325.40,72.72 325.80,72.70 326.20,72.68 326.60,72.66 327.00,72.64 327.40,72.63 327.80,72.61 328.20,72.60 328.60,72.59 329.00,72.58 329.40,72.57 329.80,72.56 330.20,72.55 330.60,72.54 331.00,72.53 331.40,72.52 331.80,72.51 332.20,72.50 332.60,72.49 333.00,72.48 333.40,72.47 333.80,72.46 334.20,72.46 334.60,72.45 335.00,72.44 335.40,72.42 335.80,72.41 336.20,72.39 336.60,72.37 337.00,72.34 337.40,72.31 337.80,72.27 338.20,72.23 338.60,72.18 339.00,72.12 339.40,72.06 339.80,72.00 340.20,71.92 340.60,71.82 341.00,71.69 341.40,71.54 341.80,71.37 342.20,71.19 342.60,70.99 343.00,70.78 343.40,70.56 343.80,70.31 344.20,70.00 344.60,69.65 345.00,69.25 345.40,68.82 345.80,68.38 346.20,67.92 346.60,67.47 347.00,67.02 347.40,66.60 347.80,66.20 348.20,65.80 348.60,65.40 348.80,65.20" fill="none" stroke="#00ffff" stroke-width="1.2" stroke-linejoin="round"/><path d="M188.90,204.26L190.20,202.96L191.50,204.26L190.20,205.56Z" fill="#00ffff"/><path d="M192.74,198.79L194.04,197.49L195.34,198.79L194.04,200.09Z" fill="#00ffff"/><path d="M196.58,193.36L197.88,192.06L199.18,193.36L197.88,194.66Z" fill="#00ffff"/><path d="M200.42,188.02L201.72,186.72L203.02,188.02L201.72,189.32Z" fill="#00ffff"/><path d="M204.26,182.65L205.56,181.35L206.86,182.65L205.56,183.95Z" fill="#00ffff"/><path d="M208.10,177.16L209.40,175.86L210.70,177.16L209.40,178.46Z" fill="#00ffff"/><path d="M211.94,171.66L213.24,170.36L214.54,171.66L213.24,172.96Z" fill="#00ffff"/><path d="M215.78,166.20L217.08,164.90L218.38,166.20L217.08,167.50Z" fill="#00ffff"/><path d="M219.62,160.80L220.92,159.50L222.22,160.80L220.92,162.10Z" fill="#00ffff"/><path d="M223.46,155.55L224.76,154.25L226.06,155.55L224.76,156.85Z" fill="#00ffff"/><path d="M227.30,150.38L228.60,149.08L229.90,150.38L228.60,151.68Z" fill="#00ffff"/><path d="M231.14,145.21L232.44,143.91L233.74,145.21L232.44,146.51Z" fill="#00ffff"/><path d="M234.98,140.08L236.28,138.78L237.58,140.08L236.28,141.38Z" fill="#00ffff"/><path d="M238.82,135.09L240.12,133.79L241.42,135.09L240.12,136.39Z" fill="#00ffff"/><path d="M242.66,130.39L243.96,129.09L245.26,130.39L243.96,131.69Z" fill="#00ffff"/><path d="M246.50,126.78L247.80,125.48L249.10,126.78L247.80,128.08Z" fill="#00ffff"/><path d="M250.34,123.70L251.64,122.40L252.94,123.70L251.64,125.00Z" fill="#00ffff"/><path d="M254.18,120.52L255.48,119.22L256.78,120.52L255.48,121.82Z" fill="#00ffff"/><path d="M258.02,117.36L259.32,116.06L260.62,117.36L259.32,118.66Z" fill="#00ffff"/><path d="M261.86,114.23L263.16,112.93L264.46,114.23L263.16,115.53Z" fill="#00ffff"/><path d="M265.70,111.07L267.00,109.77L268.30,111.07L267.00,112.37Z" fill="#00ffff"/><path d="M269.54,107.85L270.84,106.55L272.14,107.85L270.84,109.15Z" fill="#00ffff"/><path d="M273.38,104.57L274.68,103.27L275.98,104.57L274.68,105.87Z" fill="#00ffff"/><path d="M277.22,101.18L278.52,99.88L279.82,101.18L278.52,102.48Z" fill="#00ffff"/><path d="M281.06,97.73L282.36,96.43L283.66,97.73L282.36,99.03Z" fill="#00ffff"/><path d="M284.90,94.23L286.20,92.93L287.50,94.23L286.20,95.53Z" fill="#00ffff"/><path d="M288.74,91.17L290.04,89.87L291.34,91.17L290.04,92.47Z" fill="#00ffff"/><path d="M292.58,88.29L293.88,86.99L295.18,88.29L293.88,89.59Z" fill="#00ffff"/><path d="M296.42,85.53L297.72,84.23L299.02,85.53L297.72,86.83Z" fill="#00ffff"/><path d="M300.26,82.78L301.56,81.48L302.86,82.78L301.56,84.08Z" fill="#00ffff"/><path d="M304.10,80.17L305.40,78.87L306.70,80.17L305.40,81.47Z" fill="#00ffff"/><path d="M307.94,77.74L309.24,76.44L310.54,77.74L309.24,79.04Z" fill="#00ffff"/><path d="M311.78,76.05L313.08,74.75L314.38,76.05L313.08,77.35Z" fill="#00ffff"/><path d="M315.62,74.66L316.92,73.36L318.22,74.66L316.92,75.96Z" fill="#00ffff"/><path d="M319.46,73.39L320.76,72.09L322.06,73.39L320.76,74.69Z" fill="#00ffff"/><path d="M323.30,72.78L324.60,71.48L325.90,72.78L324.60,74.08Z" fill="#00ffff"/><path d="M327.14,72.59L328.44,71.29L329.74,72.59L328.44,73.89Z" fill="#00ffff"/><path d="M330.98,72.50L332.28,71.20L333.58,72.50L332.28,73.80Z" fill="#00ffff"/><path d="M334.82,72.39L336.12,71.09L337.42,72.39L336.12,73.69Z" fill="#00ffff"/><path d="M338.66,71.97L339.96,70.67L341.26,71.97L339.96,73.27Z" fill="#00ffff"/><path d="M342.50,70.31L343.80,69.01L345.10,70.31L343.80,71.61Z" fill="#00ffff"/><path d="M346.34,66.36L347.64,65.06L348.94,66.36L347.64,67.66Z" fill="#00ffff"/></g>
<g clip-path="url(#cR)"><polyline points="189.90,318.50 190.30,316.47 190.70,314.42 191.10,312.38 191.50,310.41 191.90,308.54 192.30,306.75 192.70,305.01 193.10,303.33 193.50,301.74 193.90,300.23 194.30,298.83 194.70,297.51 195.10,296.23 195.50,294.96 195.90,293.67 196.30,292.25 196.70,290.77 197.10,289.39 197.50,288.23 197.90,287.43 198.30,286.86 198.70,286.38 199.10,285.98 199.50,285.60 199.90,285.27 200.30,285.01 200.70,284.76 201.10,284.47 201.50,284.11 201.90,283.56 202.30,282.75 202.70,281.84 203.10,281.00 203.50,280.25 203.90,279.47 204.30,278.56 204.70,277.48 205.10,276.28 205.50,274.99 205.90,273.62 206.30,272.22 206.70,270.80 207.10,269.30 207.50,267.70 207.90,266.06 208.30,264.46 208.70,263.00 209.10,261.66 209.50,260.38 209.90,259.15 210.30,257.97 210.70,256.83 211.10,255.73 211.50,254.67 211.90,253.64 212.30,252.65 212.70,251.69 213.10,250.74 213.50,249.79 213.90,248.87 214.30,247.95 214.70,247.05 215.10,246.16 215.50,245.28 215.90,244.41 216.30,243.55 216.70,242.71 217.10,241.88 217.50,241.07 217.90,240.29 218.30,239.51 218.70,238.74 219.10,237.97 219.50,237.20 219.90,236.41 220.30,235.61 220.70,234.79 221.10,233.95 221.50,233.09 221.90,232.22 222.30,231.34 222.70,230.46 223.10,229.57 223.50,228.68 223.90,227.80 224.30,226.93 224.70,226.07 225.10,225.21 225.50,224.35 225.90,223.50 226.30,222.64 226.70,221.79 227.10,220.94 227.50,220.10 227.90,219.26 228.30,218.42 228.70,217.58 229.10,216.74 229.50,215.90 229.90,215.06 230.30,214.22 230.70,213.39 231.10,212.56 231.50,211.74 231.90,210.93 232.30,210.14 232.70,209.37 233.10,208.61 233.50,207.86 233.90,207.11 234.30,206.37 234.70,205.64 235.10,204.91 235.50,204.20 235.90,203.50 236.30,202.83 236.70,202.17 237.10,201.54 237.50,200.93 237.90,200.36 238.30,199.81 238.70,199.29 239.10,198.78 239.50,198.30 239.90,197.82 240.30,197.36 240.70,196.90 241.10,196.45 241.50,196.00 241.90,195.55 242.30,195.12 242.70,194.70 243.10,194.28 243.50,193.86 243.90,193.45 244.30,193.04 244.70,192.62 245.10,192.19 245.50,191.76 245.90,191.32 246.30,190.88 246.70,190.44 247.10,190.00 247.50,189.55 247.90,189.11 248.30,188.67 248.70,188.23 249.10,187.79 249.50,187.36 249.90,186.93 250.30,186.51 250.70,186.10 251.10,185.70 251.50,185.31 251.90,184.92 252.30,184.54 252.70,184.16 253.10,183.79 253.50,183.42 253.90,183.06 254.30,182.69 254.70,182.33 255.10,181.97 255.50,181.61 255.90,181.25 256.30,180.89 256.70,180.52 257.10,180.16 257.50,179.78 257.90,179.41 258.30,179.02 258.70,178.64 259.10,178.25 259.50,177.85 259.90,177.46 260.30,177.06 260.70,176.67 261.10,176.27 261.50,175.88 261.90,175.48 262.30,175.10 262.70,174.71 263.10,174.33 263.50,173.96 263.90,173.59 264.30,173.23 264.70,172.88 265.10,172.53 265.50,172.18 265.90,171.84 266.30,171.50 266.70,171.17 267.10,170.84 267.50,170.50 267.90,170.17 268.30,169.84 268.70,169.51 269.10,169.18 269.50,168.84 269.90,168.50 270.30,168.16 270.70,167.81 271.10,167.46 271.50,167.10 271.90,166.74 272.30,166.37 272.70,166.01 273.10,165.64 273.50,165.28 273.90,164.93 274.30,164.58 274.70,164.25 275.10,163.92 275.50,163.60 275.90,163.30 276.30,163.00 276.70,162.71 277.10,162.42 277.50,162.14 277.90,161.86 278.30,161.57 278.70,161.28 279.10,160.99 279.50,160.69 279.90,160.38 280.30,160.06 280.70,159.73 281.10,159.40 281.50,159.06 281.90,158.71 282.30,158.36 282.70,158.01 283.10,157.65 283.50,157.30 283.90,156.94 284.30,156.59 284.70,156.24 285.10,155.89 285.50,155.55 285.90,155.21 286.30,154.88 286.70,154.56 287.10,154.23 287.50,153.91 287.90,153.59 288.30,153.27 288.70,152.95 289.10,152.64 289.50,152.33 289.90,152.02 290.30,151.72 290.70,151.42 291.10,151.13 291.50,150.85 291.90,150.57 292.30,150.30 292.70,150.03 293.10,149.77 293.50,149.51 293.90,149.26 294.30,149.01 294.70,148.76 295.10,148.52 295.50,148.28 295.90,148.04 296.30,147.81 296.70,147.58 297.10,147.35 297.50,147.12 297.90,146.90 298.30,146.68 298.70,146.45 299.10,146.23 299.50,146.01 299.90,145.79 300.30,145.58 300.70,145.36 301.10,145.16 301.50,144.95 301.90,144.75 302.30,144.55 302.70,144.36 303.10,144.18 303.50,144.00 303.90,143.83 304.30,143.65 304.70,143.48 305.10,143.32 305.50,143.15 305.90,142.99 306.30,142.84 306.70,142.68 307.10,142.54 307.50,142.39 307.90,142.25 308.30,142.12 308.70,141.99 309.10,141.86 309.50,141.74 309.90,141.62 310.30,141.50 310.70,141.38 311.10,141.26 311.50,141.14 311.90,141.03 312.30,140.92 312.70,140.82 313.10,140.72 313.50,140.64 313.90,140.56 314.30,140.49 314.70,140.43 315.10,140.39 315.50,140.35 315.90,140.31 316.30,140.27 316.70,140.24 317.10,140.20 317.50,140.17 317.90,140.14 318.30,140.11 318.70,140.09 319.10,140.06 319.50,140.04 319.90,140.03 320.30,140.02 320.70,140.01 321.10,140.00 321.50,140.00 321.90,140.00 322.30,140.00 322.70,140.00 323.10,140.00 323.50,140.00 323.90,140.00 324.30,140.00 324.70,140.00 325.10,140.00 325.50,140.00 325.90,140.00 326.30,140.00 326.70,140.00 327.10,140.00 327.50,140.00 327.90,140.00 328.30,140.00 328.70,140.00 329.10,140.01 329.50,140.01 329.90,140.02 330.30,140.03 330.70,140.05 331.10,140.06 331.50,140.08 331.90,140.10 332.30,140.12 332.70,140.14 333.10,140.17 333.50,140.19 333.90,140.22 334.30,140.24 334.70,140.27 335.10,140.30 335.50,140.33 335.90,140.35 336.30,140.38 336.70,140.41 337.10,140.44 337.50,140.47 337.90,140.51 338.30,140.54 338.70,140.58 339.10,140.63 339.50,140.67 339.90,140.72 340.30,140.76 340.70,140.81 341.10,140.86 341.50,140.91 341.90,140.95 342.30,141.00 342.70,141.05 343.10,141.09 343.50,141.13 343.90,141.17 344.30,141.22 344.70,141.26 345.10,141.30 345.50,141.35 345.90,141.39 346.30,141.43 346.70,141.47 347.10,141.52 347.50,141.56 347.90,141.60 348.30,141.65 348.70,141.69 348.80,141.70" fill="none" stroke="#000000" stroke-width="1" stroke-linejoin="round"/></g>
<g clip-path="url(#cR)"><polyline points="322.80,318.50 323.20,317.64 323.60,316.77 324.00,316.20 324.40,315.89 324.80,315.64 325.20,315.43 325.60,315.29 326.00,315.20 326.40,315.15 326.80,315.10 327.20,315.05 327.60,315.01 328.00,314.98 328.40,314.95 328.80,314.93 329.20,314.91 329.60,314.90 330.00,314.90 330.40,314.90 330.80,314.90 331.20,314.90 331.60,314.90 332.00,314.90 332.40,314.90 332.80,314.90 333.20,314.90 333.60,314.90 334.00,314.90 334.40,314.90 334.80,314.90 335.20,314.90 335.60,314.90 336.00,314.90 336.40,314.90 336.80,314.90 337.20,314.90 337.60,314.90 338.00,314.90 338.40,314.90 338.80,314.90 339.20,314.90 339.60,314.90 340.00,314.90 340.40,314.90 340.80,314.90 341.20,314.90 341.60,314.90 342.00,314.90 342.40,314.90 342.80,314.90 343.20,314.90 343.60,314.90 344.00,314.90 344.40,314.90 344.80,314.90 345.20,314.90 345.60,314.90 346.00,314.90 346.40,314.90 346.80,314.79 347.20,314.31 347.60,313.51 348.00,311.89 348.40,307.93 348.50,307.00" fill="none" stroke="#149614" stroke-width="1.0" stroke-linejoin="round"/><path d="M322.70,317.28L326.50,317.28L324.60,313.86Z" fill="#149614"/><path d="M326.54,316.47L330.34,316.47L328.44,313.05Z" fill="#149614"/><path d="M330.38,316.42L334.18,316.42L332.28,313.00Z" fill="#149614"/><path d="M334.22,316.42L338.02,316.42L336.12,313.00Z" fill="#149614"/><path d="M338.06,316.42L341.86,316.42L339.96,313.00Z" fill="#149614"/><path d="M341.90,316.42L345.70,316.42L343.80,313.00Z" fill="#149614"/><path d="M345.74,314.93L349.54,314.93L347.64,311.51Z" fill="#149614"/></g>
<g clip-path="url(#cR)"><polyline points="189.40,229.00 189.80,228.60 190.20,228.19 190.60,227.80 191.00,227.42 191.40,227.04 191.80,226.66 192.20,226.28 192.60,225.91 193.00,225.54 193.40,225.18 193.80,224.82 194.20,224.46 194.60,224.11 195.00,223.77 195.40,223.43 195.80,223.09 196.20,222.76 196.60,222.43 197.00,222.11 197.40,221.78 197.80,221.46 198.20,221.14 198.60,220.82 199.00,220.51 199.40,220.20 199.80,219.89 200.20,219.59 200.60,219.28 201.00,218.98 201.40,218.67 201.80,218.36 202.20,218.04 202.60,217.72 203.00,217.38 203.40,217.04 203.80,216.69 204.20,216.33 204.60,215.98 205.00,215.62 205.40,215.26 205.80,214.91 206.20,214.57 206.60,214.23 207.00,213.90 207.40,213.58 207.80,213.26 208.20,212.94 208.60,212.63 209.00,212.31 209.40,211.98 209.80,211.65 210.20,211.31 210.60,210.97 211.00,210.63 211.40,210.28 211.80,209.92 212.20,209.57 212.60,209.20 213.00,208.84 213.40,208.47 213.80,208.09 214.20,207.71 214.60,207.32 215.00,206.93 215.40,206.52 215.80,206.12 216.20,205.71 216.60,205.30 217.00,204.90 217.40,204.50 217.80,204.10 218.20,203.69 218.60,203.28 219.00,202.87 219.40,202.46 219.80,202.07 220.20,201.69 220.60,201.33 221.00,201.00 221.40,200.68 221.80,200.37 222.20,200.07 222.60,199.78 223.00,199.50 223.40,199.24 223.80,198.98 224.20,198.74 224.60,198.51 225.00,198.30 225.40,198.10 225.80,197.90 226.20,197.70 226.60,197.51 227.00,197.33 227.40,197.16 227.80,197.00 228.20,196.86 228.60,196.74 229.00,196.64 229.40,196.56 229.80,196.49 230.20,196.41 230.60,196.35 231.00,196.28 231.40,196.23 231.80,196.18 232.20,196.14 232.60,196.12 233.00,196.10 233.40,196.10 233.80,196.12 234.20,196.14 234.60,196.18 235.00,196.23 235.40,196.29 235.80,196.35 236.20,196.43 236.60,196.50 237.00,196.58 237.40,196.67 237.80,196.80 238.20,196.96 238.60,197.15 239.00,197.35 239.40,197.56 239.80,197.78 240.20,198.00 240.60,198.20 241.00,198.40 241.40,198.59 241.80,198.79 242.20,198.99 242.60,199.19 243.00,199.39 243.40,199.59 243.80,199.80 244.20,200.00 244.60,200.20 245.00,200.40 245.40,200.61 245.80,200.82 246.20,201.03 246.60,201.24 247.00,201.45 247.40,201.65 247.80,201.84 248.20,202.02 248.60,202.18 249.00,202.34 249.40,202.50 249.80,202.65 250.20,202.79 250.60,202.93 251.00,203.06 251.40,203.17 251.80,203.28 252.20,203.37 252.60,203.46 253.00,203.55 253.40,203.64 253.80,203.72 254.20,203.80 254.60,203.87 255.00,203.92 255.40,203.96 255.80,203.99 256.20,204.01 256.60,204.03 257.00,204.05 257.40,204.06 257.80,204.07 258.20,204.08 258.60,204.09 259.00,204.10 259.40,204.10 259.80,204.10 260.20,204.08 260.60,204.06 261.00,204.02 261.40,203.98 261.80,203.93 262.20,203.87 262.60,203.81 263.00,203.75 263.40,203.68 263.80,203.60 264.20,203.51 264.60,203.40 265.00,203.27 265.40,203.13 265.80,202.99 266.20,202.84 266.60,202.68 267.00,202.52 267.40,202.36 267.80,202.19 268.20,202.00 268.60,201.80 269.00,201.60 269.40,201.38 269.80,201.16 270.20,200.94 270.60,200.72 271.00,200.51 271.40,200.29 271.80,200.08 272.20,199.87 272.60,199.65 273.00,199.43 273.40,199.21 273.80,198.99 274.20,198.78 274.60,198.56 275.00,198.35 275.40,198.14 275.80,197.93 276.20,197.73 276.60,197.53 277.00,197.33 277.40,197.12 277.80,196.91 278.20,196.69 278.60,196.46 279.00,196.22 279.40,195.97 279.80,195.72 280.20,195.46 280.60,195.19 281.00,194.91 281.40,194.63 281.80,194.34 282.20,194.03 282.60,193.72 283.00,193.39 283.40,193.05 283.80,192.69 284.20,192.32 284.60,191.94 285.00,191.56 285.40,191.17 285.80,190.78 286.20,190.40 286.60,190.01 287.00,189.63 287.40,189.24 287.80,188.85 288.20,188.45 288.60,188.05 289.00,187.65 289.40,187.24 289.80,186.83 290.20,186.41 290.60,185.98 291.00,185.54 291.40,185.09 291.80,184.64 292.20,184.18 292.60,183.71 293.00,183.25 293.40,182.78 293.80,182.32 294.20,181.85 294.60,181.38 295.00,180.92 295.40,180.45 295.80,179.97 296.20,179.50 296.60,179.02 297.00,178.54 297.40,178.06 297.80,177.58 298.20,177.09 298.60,176.60 299.00,176.11 299.40,175.62 299.80,175.13 300.20,174.63 300.60,174.13 301.00,173.63 301.40,173.13 301.80,172.62 302.20,172.12 302.60,171.61 303.00,171.11 303.40,170.60 303.80,170.09 304.20,169.57 304.60,169.05 305.00,168.53 305.40,168.00 305.80,167.46 306.20,166.92 306.60,166.37 307.00,165.82 307.40,165.26 307.80,164.70 308.20,164.14 308.60,163.58 309.00,163.02 309.40,162.46 309.80,161.90 310.20,161.33 310.60,160.76 311.00,160.19 311.40,159.63 311.80,159.07 312.20,158.52 312.60,157.99 313.00,157.47 313.40,156.97 313.80,156.48 314.20,156.00 314.60,155.52 315.00,155.06 315.40,154.60 315.80,154.14 316.20,153.69 316.60,153.24 317.00,152.79 317.40,152.35 317.80,151.91 318.20,151.49 318.60,151.06 319.00,150.64 319.40,150.22 319.80,149.80 320.20,149.37 320.60,148.93 321.00,148.49 321.40,148.02 321.80,147.55 322.20,147.06 322.60,146.57 323.00,146.08 323.40,145.60 323.80,145.14 324.20,144.71 324.60,144.30 325.00,143.92 325.40,143.56 325.80,143.22 326.20,142.88 326.60,142.56 327.00,142.24 327.40,141.92 327.80,141.60 328.20,141.28 328.60,140.95 329.00,140.63 329.40,140.30 329.80,139.97 330.20,139.65 330.60,139.33 331.00,139.01 331.40,138.69 331.80,138.37 332.20,138.06 332.60,137.75 333.00,137.44 333.40,137.15 333.80,136.86 334.20,136.56 334.60,136.27 335.00,135.96 335.40,135.65 335.80,135.32 336.20,134.97 336.60,134.60 337.00,134.22 337.40,133.84 337.80,133.45 338.20,133.07 338.60,132.69 339.00,132.32 339.40,131.94 339.80,131.56 340.20,131.18 340.60,130.80 341.00,130.43 341.40,130.06 341.80,129.71 342.20,129.37 342.60,129.05 343.00,128.75 343.40,128.46 343.80,128.18 344.20,127.91 344.60,127.65 345.00,127.40 345.40,127.15 345.80,126.91 346.20,126.68 346.60,126.46 347.00,126.25 347.40,126.05 347.80,125.86 348.20,125.68 348.60,125.49 348.80,125.40" fill="none" stroke="#ff0000" stroke-width="1.2" stroke-linejoin="round"/><circle cx="190.20" cy="228.19" r="1.35" fill="#ff8a8a" stroke="#ff0000" stroke-width="1.0"/><circle cx="194.04" cy="224.60" r="1.35" fill="#ff8a8a" stroke="#ff0000" stroke-width="1.0"/><circle cx="197.88" cy="221.40" r="1.35" fill="#ff8a8a" stroke="#ff0000" stroke-width="1.0"/><circle cx="201.72" cy="218.42" r="1.35" fill="#ff8a8a" stroke="#ff0000" stroke-width="1.0"/><circle cx="205.56" cy="215.12" r="1.35" fill="#ff8a8a" stroke="#ff0000" stroke-width="1.0"/><circle cx="209.40" cy="211.98" r="1.35" fill="#ff8a8a" stroke="#ff0000" stroke-width="1.0"/><circle cx="213.24" cy="208.62" r="1.35" fill="#ff8a8a" stroke="#ff0000" stroke-width="1.0"/><circle cx="217.08" cy="204.82" r="1.35" fill="#ff8a8a" stroke="#ff0000" stroke-width="1.0"/><circle cx="220.92" cy="201.06" r="1.35" fill="#ff8a8a" stroke="#ff0000" stroke-width="1.0"/><circle cx="224.76" cy="198.42" r="1.35" fill="#ff8a8a" stroke="#ff0000" stroke-width="1.0"/><circle cx="228.60" cy="196.74" r="1.35" fill="#ff8a8a" stroke="#ff0000" stroke-width="1.0"/><circle cx="232.44" cy="196.13" r="1.35" fill="#ff8a8a" stroke="#ff0000" stroke-width="1.0"/><circle cx="236.28" cy="196.44" r="1.35" fill="#ff8a8a" stroke="#ff0000" stroke-width="1.0"/><circle cx="240.12" cy="197.95" r="1.35" fill="#ff8a8a" stroke="#ff0000" stroke-width="1.0"/><circle cx="243.96" cy="199.88" r="1.35" fill="#ff8a8a" stroke="#ff0000" stroke-width="1.0"/><circle cx="247.80" cy="201.84" r="1.35" fill="#ff8a8a" stroke="#ff0000" stroke-width="1.0"/><circle cx="251.64" cy="203.24" r="1.35" fill="#ff8a8a" stroke="#ff0000" stroke-width="1.0"/><circle cx="255.48" cy="203.97" r="1.35" fill="#ff8a8a" stroke="#ff0000" stroke-width="1.0"/><circle cx="259.32" cy="204.10" r="1.35" fill="#ff8a8a" stroke="#ff0000" stroke-width="1.0"/><circle cx="263.16" cy="203.72" r="1.35" fill="#ff8a8a" stroke="#ff0000" stroke-width="1.0"/><circle cx="267.00" cy="202.52" r="1.35" fill="#ff8a8a" stroke="#ff0000" stroke-width="1.0"/><circle cx="270.84" cy="200.59" r="1.35" fill="#ff8a8a" stroke="#ff0000" stroke-width="1.0"/><circle cx="274.68" cy="198.52" r="1.35" fill="#ff8a8a" stroke="#ff0000" stroke-width="1.0"/><circle cx="278.52" cy="196.51" r="1.35" fill="#ff8a8a" stroke="#ff0000" stroke-width="1.0"/><circle cx="282.36" cy="193.91" r="1.35" fill="#ff8a8a" stroke="#ff0000" stroke-width="1.0"/><circle cx="286.20" cy="190.40" r="1.35" fill="#ff8a8a" stroke="#ff0000" stroke-width="1.0"/><circle cx="290.04" cy="186.58" r="1.35" fill="#ff8a8a" stroke="#ff0000" stroke-width="1.0"/><circle cx="293.88" cy="182.22" r="1.35" fill="#ff8a8a" stroke="#ff0000" stroke-width="1.0"/><circle cx="297.72" cy="177.68" r="1.35" fill="#ff8a8a" stroke="#ff0000" stroke-width="1.0"/><circle cx="301.56" cy="172.92" r="1.35" fill="#ff8a8a" stroke="#ff0000" stroke-width="1.0"/><circle cx="305.40" cy="168.00" r="1.35" fill="#ff8a8a" stroke="#ff0000" stroke-width="1.0"/><circle cx="309.24" cy="162.68" r="1.35" fill="#ff8a8a" stroke="#ff0000" stroke-width="1.0"/><circle cx="313.08" cy="157.37" r="1.35" fill="#ff8a8a" stroke="#ff0000" stroke-width="1.0"/><circle cx="316.92" cy="152.88" r="1.35" fill="#ff8a8a" stroke="#ff0000" stroke-width="1.0"/><circle cx="320.76" cy="148.76" r="1.35" fill="#ff8a8a" stroke="#ff0000" stroke-width="1.0"/><circle cx="324.60" cy="144.30" r="1.35" fill="#ff8a8a" stroke="#ff0000" stroke-width="1.0"/><circle cx="328.44" cy="141.09" r="1.35" fill="#ff8a8a" stroke="#ff0000" stroke-width="1.0"/><circle cx="332.28" cy="137.99" r="1.35" fill="#ff8a8a" stroke="#ff0000" stroke-width="1.0"/><circle cx="336.12" cy="135.04" r="1.35" fill="#ff8a8a" stroke="#ff0000" stroke-width="1.0"/><circle cx="339.96" cy="131.41" r="1.35" fill="#ff8a8a" stroke="#ff0000" stroke-width="1.0"/><circle cx="343.80" cy="128.18" r="1.35" fill="#ff8a8a" stroke="#ff0000" stroke-width="1.0"/><circle cx="347.64" cy="125.93" r="1.35" fill="#ff8a8a" stroke="#ff0000" stroke-width="1.0"/></g>
<g clip-path="url(#cR)"><polyline points="250.70,318.50 251.10,313.59 251.50,310.58 251.90,309.23 252.30,308.26 252.70,307.51 253.10,306.82 253.50,306.00 253.90,305.13 254.30,304.33 254.70,303.52 255.10,302.64 255.50,301.60 255.90,300.31 256.30,298.59 256.70,296.55 257.10,294.31 257.50,292.00 257.90,289.36 258.30,286.35 258.70,283.41 259.10,280.98 259.50,279.26 259.90,277.84 260.30,276.60 260.70,275.45 261.10,274.30 261.50,273.12 261.90,272.00 262.30,270.92 262.70,269.83 263.10,268.70 263.50,267.49 263.90,266.18 264.30,264.79 264.70,263.35 265.10,261.87 265.50,260.40 265.90,258.95 266.30,257.55 266.70,256.22 267.10,255.00 267.50,253.86 267.90,252.78 268.30,251.73 268.70,250.72 269.10,249.73 269.50,248.77 269.90,247.83 270.30,246.90 270.70,245.97 271.10,245.04 271.50,244.12 271.90,243.21 272.30,242.31 272.70,241.43 273.10,240.56 273.50,239.70 273.90,238.86 274.30,238.02 274.70,237.20 275.10,236.40 275.50,235.61 275.90,234.84 276.30,234.08 276.70,233.33 277.10,232.58 277.50,231.84 277.90,231.10 278.30,230.36 278.70,229.61 279.10,228.87 279.50,228.12 279.90,227.38 280.30,226.64 280.70,225.90 281.10,225.16 281.50,224.43 281.90,223.69 282.30,222.96 282.70,222.24 283.10,221.51 283.50,220.78 283.90,220.06 284.30,219.34 284.70,218.62 285.10,217.90 285.50,217.20 285.90,216.49 286.30,215.80 286.70,215.11 287.10,214.44 287.50,213.76 287.90,213.10 288.30,212.44 288.70,211.78 289.10,211.12 289.50,210.46 289.90,209.80 290.30,209.13 290.70,208.47 291.10,207.81 291.50,207.15 291.90,206.49 292.30,205.83 292.70,205.17 293.10,204.51 293.50,203.84 293.90,203.17 294.30,202.49 294.70,201.81 295.10,201.12 295.50,200.43 295.90,199.74 296.30,199.05 296.70,198.36 297.10,197.68 297.50,197.00 297.90,196.32 298.30,195.64 298.70,194.96 299.10,194.29 299.50,193.61 299.90,192.95 300.30,192.29 300.70,191.64 301.10,191.00 301.50,190.37 301.90,189.75 302.30,189.14 302.70,188.53 303.10,187.93 303.50,187.33 303.90,186.74 304.30,186.16 304.70,185.58 305.10,185.00 305.50,184.43 305.90,183.87 306.30,183.31 306.70,182.76 307.10,182.22 307.50,181.67 307.90,181.13 308.30,180.59 308.70,180.05 309.10,179.50 309.50,178.95 309.90,178.40 310.30,177.85 310.70,177.30 311.10,176.75 311.50,176.21 311.90,175.66 312.30,175.13 312.70,174.59 313.10,174.07 313.50,173.55 313.90,173.03 314.30,172.52 314.70,172.01 315.10,171.51 315.50,171.01 315.90,170.52 316.30,170.03 316.70,169.54 317.10,169.06 317.50,168.59 317.90,168.12 318.30,167.66 318.70,167.20 319.10,166.74 319.50,166.29 319.90,165.84 320.30,165.38 320.70,164.93 321.10,164.47 321.50,164.02 321.90,163.57 322.30,163.13 322.70,162.68 323.10,162.23 323.50,161.78 323.90,161.32 324.30,160.86 324.70,160.38 325.10,159.88 325.50,159.36 325.90,158.83 326.30,158.29 326.70,157.76 327.10,157.23 327.50,156.73 327.90,156.25 328.30,155.80 328.70,155.38 329.10,154.99 329.50,154.61 329.90,154.25 330.30,153.89 330.70,153.54 331.10,153.20 331.50,152.85 331.90,152.49 332.30,152.13 332.70,151.76 333.10,151.40 333.50,151.04 333.90,150.67 334.30,150.31 334.70,149.96 335.10,149.61 335.50,149.27 335.90,148.93 336.30,148.61 336.70,148.29 337.10,147.98 337.50,147.68 337.90,147.37 338.30,147.07 338.70,146.76 339.10,146.45 339.50,146.13 339.90,145.80 340.30,145.47 340.70,145.14 341.10,144.80 341.50,144.46 341.90,144.12 342.30,143.76 342.70,143.39 343.10,143.01 343.50,142.60 343.90,142.17 344.30,141.71 344.70,141.21 345.10,140.70 345.50,140.17 345.90,139.63 346.30,139.09 346.70,138.56 347.10,138.04 347.50,137.52 347.90,136.99 348.30,136.46 348.70,135.93 348.80,135.80" fill="none" stroke="#22ee22" stroke-width="1.0" stroke-linejoin="round"/><circle cx="251.64" cy="310.05" r="1.75" fill="#22ee22"/><circle cx="255.48" cy="301.66" r="1.75" fill="#22ee22"/><circle cx="259.32" cy="279.98" r="1.75" fill="#22ee22"/><circle cx="263.16" cy="268.52" r="1.75" fill="#22ee22"/><circle cx="267.00" cy="255.29" r="1.75" fill="#22ee22"/><circle cx="270.84" cy="245.64" r="1.75" fill="#22ee22"/><circle cx="274.68" cy="237.24" r="1.75" fill="#22ee22"/><circle cx="278.52" cy="229.95" r="1.75" fill="#22ee22"/><circle cx="282.36" cy="222.85" r="1.75" fill="#22ee22"/><circle cx="286.20" cy="215.97" r="1.75" fill="#22ee22"/><circle cx="290.04" cy="209.57" r="1.75" fill="#22ee22"/><circle cx="293.88" cy="203.20" r="1.75" fill="#22ee22"/><circle cx="297.72" cy="196.63" r="1.75" fill="#22ee22"/><circle cx="301.56" cy="190.28" r="1.75" fill="#22ee22"/><circle cx="305.40" cy="184.57" r="1.75" fill="#22ee22"/><circle cx="309.24" cy="179.31" r="1.75" fill="#22ee22"/><circle cx="313.08" cy="174.10" r="1.75" fill="#22ee22"/><circle cx="316.92" cy="169.28" r="1.75" fill="#22ee22"/><circle cx="320.76" cy="164.86" r="1.75" fill="#22ee22"/><circle cx="324.60" cy="160.50" r="1.75" fill="#22ee22"/><circle cx="328.44" cy="155.65" r="1.75" fill="#22ee22"/><circle cx="332.28" cy="152.15" r="1.75" fill="#22ee22"/><circle cx="336.12" cy="148.75" r="1.75" fill="#22ee22"/><circle cx="339.96" cy="145.75" r="1.75" fill="#22ee22"/><circle cx="343.80" cy="142.28" r="1.75" fill="#22ee22"/><circle cx="347.64" cy="137.33" r="1.75" fill="#22ee22"/></g>
<g clip-path="url(#cR)"><polyline points="200.60,318.50 201.00,310.83 201.40,308.76 201.80,307.46 202.20,306.59 202.60,305.80 203.00,305.02 203.40,304.36 203.80,303.79 204.20,303.29 204.60,302.82 205.00,302.34 205.40,301.83 205.80,301.26 206.20,300.59 206.60,299.78 207.00,298.83 207.40,297.77 207.80,296.63 208.20,295.45 208.60,294.25 209.00,293.08 209.40,291.97 209.80,290.95 210.20,289.98 210.60,289.02 211.00,288.08 211.40,287.16 211.80,286.25 212.20,285.36 212.60,284.49 213.00,283.64 213.40,282.80 213.80,281.99 214.20,281.20 214.60,280.43 215.00,279.68 215.40,278.94 215.80,278.19 216.20,277.44 216.60,276.69 217.00,275.91 217.40,275.14 217.80,274.37 218.20,273.59 218.60,272.82 219.00,272.03 219.40,271.23 219.80,270.41 220.20,269.58 220.60,268.73 221.00,267.85 221.40,266.96 221.80,266.07 222.20,265.17 222.60,264.28 223.00,263.40 223.40,262.52 223.80,261.64 224.20,260.75 224.60,259.86 225.00,258.97 225.40,258.08 225.80,257.19 226.20,256.31 226.60,255.44 227.00,254.57 227.40,253.71 227.80,252.86 228.20,252.03 228.60,251.20 229.00,250.39 229.40,249.58 229.80,248.76 230.20,247.95 230.60,247.16 231.00,246.37 231.40,245.60 231.80,244.86 232.20,244.14 232.60,243.45 233.00,242.80 233.40,242.18 233.80,241.59 234.20,241.02 234.60,240.47 235.00,239.93 235.40,239.41 235.80,238.89 236.20,238.38 236.60,237.87 237.00,237.36 237.40,236.84 237.80,236.33 238.20,235.82 238.60,235.31 239.00,234.81 239.40,234.32 239.80,233.83 240.20,233.33 240.60,232.84 241.00,232.36 241.40,231.87 241.80,231.38 242.20,230.90 242.60,230.42 243.00,229.95 243.40,229.47 243.80,229.00 244.20,228.53 244.60,228.07 245.00,227.60 245.40,227.14 245.80,226.68 246.20,226.22 246.60,225.76 247.00,225.31 247.40,224.87 247.80,224.43 248.20,224.00 248.60,223.58 249.00,223.16 249.40,222.76 249.80,222.35 250.20,221.95 250.60,221.56 251.00,221.17 251.40,220.78 251.80,220.39 252.20,220.00 252.60,219.61 253.00,219.23 253.40,218.84 253.80,218.46 254.20,218.08 254.60,217.71 255.00,217.33 255.40,216.96 255.80,216.59 256.20,216.23 256.60,215.87 257.00,215.51 257.40,215.16 257.80,214.81 258.20,214.46 258.60,214.10 259.00,213.75 259.40,213.39 259.80,213.03 260.20,212.66 260.60,212.29 261.00,211.92 261.40,211.55 261.80,211.17 262.20,210.80 262.60,210.43 263.00,210.06 263.40,209.69 263.80,209.33 264.20,208.96 264.60,208.60 265.00,208.24 265.40,207.88 265.80,207.53 266.20,207.17 266.60,206.81 267.00,206.45 267.40,206.08 267.80,205.72 268.20,205.35 268.60,204.98 269.00,204.61 269.40,204.24 269.80,203.87 270.20,203.49 270.60,203.12 271.00,202.76 271.40,202.39 271.80,202.03 272.20,201.67 272.60,201.32 273.00,200.96 273.40,200.61 273.80,200.26 274.20,199.90 274.60,199.54 275.00,199.18 275.40,198.81 275.80,198.43 276.20,198.04 276.60,197.64 277.00,197.25 277.40,196.85 277.80,196.45 278.20,196.06 278.60,195.67 279.00,195.29 279.40,194.92 279.80,194.55 280.20,194.19 280.60,193.83 281.00,193.47 281.40,193.12 281.80,192.78 282.20,192.44 282.60,192.12 283.00,191.80 283.40,191.49 283.80,191.19 284.20,190.89 284.60,190.59 285.00,190.31 285.40,190.02 285.80,189.74 286.20,189.46 286.60,189.19 287.00,188.93 287.40,188.67 287.80,188.41 288.20,188.16 288.60,187.90 289.00,187.65 289.40,187.39 289.80,187.13 290.20,186.87 290.60,186.60 291.00,186.32 291.40,186.04 291.80,185.76 292.20,185.48 292.60,185.19 293.00,184.91 293.40,184.62 293.80,184.35 294.20,184.07 294.60,183.80 295.00,183.53 295.40,183.27 295.80,183.01 296.20,182.76 296.60,182.50 297.00,182.25 297.40,182.00 297.80,181.76 298.20,181.51 298.60,181.27 299.00,181.03 299.40,180.80 299.80,180.57 300.20,180.34 300.60,180.12 301.00,179.90 301.40,179.68 301.80,179.46 302.20,179.25 302.60,179.03 303.00,178.82 303.40,178.61 303.80,178.40 304.20,178.20 304.60,177.99 305.00,177.78 305.40,177.57 305.80,177.37 306.20,177.16 306.60,176.96 307.00,176.76 307.40,176.57 307.80,176.37 308.20,176.18 308.60,176.00 309.00,175.82 309.40,175.64 309.80,175.46 310.20,175.28 310.60,175.11 311.00,174.94 311.40,174.77 311.80,174.61 312.20,174.46 312.60,174.31 313.00,174.17 313.40,174.03 313.80,173.89 314.20,173.76 314.60,173.64 315.00,173.52 315.40,173.40 315.80,173.28 316.20,173.18 316.60,173.07 317.00,172.98 317.40,172.88 317.80,172.79 318.20,172.70 318.60,172.61 319.00,172.53 319.40,172.45 319.80,172.38 320.20,172.31 320.60,172.24 321.00,172.19 321.40,172.13 321.80,172.08 322.20,172.03 322.60,171.98 323.00,171.94 323.40,171.90 323.80,171.86 324.20,171.83 324.60,171.80 325.00,171.77 325.40,171.74 325.80,171.71 326.20,171.69 326.60,171.66 327.00,171.64 327.40,171.62 327.80,171.61 328.20,171.60 328.60,171.60 329.00,171.60 329.40,171.60 329.80,171.60 330.20,171.60 330.60,171.60 331.00,171.60 331.40,171.60 331.80,171.60 332.20,171.60 332.60,171.60 333.00,171.60 333.40,171.60 333.80,171.60 334.20,171.60 334.60,171.60 335.00,171.60 335.40,171.60 335.80,171.60 336.20,171.60 336.60,171.60 337.00,171.60 337.40,171.60 337.80,171.60 338.20,171.60 338.60,171.60 339.00,171.60 339.40,171.60 339.80,171.60 340.20,171.60 340.60,171.60 341.00,171.60 341.40,171.60 341.80,171.60 342.20,171.60 342.60,171.60 343.00,171.60 343.40,171.60 343.80,171.60 344.20,171.60 344.60,171.60 345.00,171.60 345.40,171.60 345.80,171.60 346.20,171.60 346.60,171.60 347.00,171.60 347.40,171.60 347.80,171.60 348.20,171.60 348.50,171.60" fill="none" stroke="#a020f0" stroke-width="1.0" stroke-linejoin="round"/><path d="M200.60,307.68L201.72,305.88L202.84,307.68L201.72,309.48Z" fill="#a020f0"/><path d="M204.44,301.61L205.56,299.81L206.68,301.61L205.56,303.41Z" fill="#a020f0"/><path d="M208.28,291.97L209.40,290.17L210.52,291.97L209.40,293.77Z" fill="#a020f0"/><path d="M212.12,283.13L213.24,281.33L214.36,283.13L213.24,284.93Z" fill="#a020f0"/><path d="M215.96,275.76L217.08,273.96L218.20,275.76L217.08,277.56Z" fill="#a020f0"/><path d="M219.80,268.03L220.92,266.23L222.04,268.03L220.92,269.83Z" fill="#a020f0"/><path d="M223.64,259.50L224.76,257.70L225.88,259.50L224.76,261.30Z" fill="#a020f0"/><path d="M227.48,251.20L228.60,249.40L229.72,251.20L228.60,253.00Z" fill="#a020f0"/><path d="M231.32,243.72L232.44,241.92L233.56,243.72L232.44,245.52Z" fill="#a020f0"/><path d="M235.16,238.28L236.28,236.48L237.40,238.28L236.28,240.08Z" fill="#a020f0"/><path d="M239.00,233.43L240.12,231.63L241.24,233.43L240.12,235.23Z" fill="#a020f0"/><path d="M242.84,228.81L243.96,227.01L245.08,228.81L243.96,230.61Z" fill="#a020f0"/><path d="M246.68,224.43L247.80,222.63L248.92,224.43L247.80,226.23Z" fill="#a020f0"/><path d="M250.52,220.54L251.64,218.74L252.76,220.54L251.64,222.34Z" fill="#a020f0"/><path d="M254.36,216.89L255.48,215.09L256.60,216.89L255.48,218.69Z" fill="#a020f0"/><path d="M258.20,213.46L259.32,211.66L260.44,213.46L259.32,215.26Z" fill="#a020f0"/><path d="M262.04,209.91L263.16,208.11L264.28,209.91L263.16,211.71Z" fill="#a020f0"/><path d="M265.88,206.45L267.00,204.65L268.12,206.45L267.00,208.25Z" fill="#a020f0"/><path d="M269.72,202.90L270.84,201.10L271.96,202.90L270.84,204.70Z" fill="#a020f0"/><path d="M273.56,199.47L274.68,197.67L275.80,199.47L274.68,201.27Z" fill="#a020f0"/><path d="M277.40,195.75L278.52,193.95L279.64,195.75L278.52,197.55Z" fill="#a020f0"/><path d="M281.24,192.31L282.36,190.51L283.48,192.31L282.36,194.11Z" fill="#a020f0"/><path d="M285.08,189.46L286.20,187.66L287.32,189.46L286.20,191.26Z" fill="#a020f0"/><path d="M288.92,186.97L290.04,185.17L291.16,186.97L290.04,188.77Z" fill="#a020f0"/><path d="M292.76,184.29L293.88,182.49L295.00,184.29L293.88,186.09Z" fill="#a020f0"/><path d="M296.60,181.80L297.72,180.00L298.84,181.80L297.72,183.60Z" fill="#a020f0"/><path d="M300.44,179.59L301.56,177.79L302.68,179.59L301.56,181.39Z" fill="#a020f0"/><path d="M304.28,177.57L305.40,175.77L306.52,177.57L305.40,179.37Z" fill="#a020f0"/><path d="M308.12,175.71L309.24,173.91L310.36,175.71L309.24,177.51Z" fill="#a020f0"/><path d="M311.96,174.14L313.08,172.34L314.20,174.14L313.08,175.94Z" fill="#a020f0"/><path d="M315.80,173.00L316.92,171.20L318.04,173.00L316.92,174.80Z" fill="#a020f0"/><path d="M319.64,172.22L320.76,170.42L321.88,172.22L320.76,174.02Z" fill="#a020f0"/><path d="M323.48,171.80L324.60,170.00L325.72,171.80L324.60,173.60Z" fill="#a020f0"/><path d="M327.32,171.60L328.44,169.80L329.56,171.60L328.44,173.40Z" fill="#a020f0"/><path d="M331.16,171.60L332.28,169.80L333.40,171.60L332.28,173.40Z" fill="#a020f0"/><path d="M335.00,171.60L336.12,169.80L337.24,171.60L336.12,173.40Z" fill="#a020f0"/><path d="M338.84,171.60L339.96,169.80L341.08,171.60L339.96,173.40Z" fill="#a020f0"/><path d="M342.68,171.60L343.80,169.80L344.92,171.60L343.80,173.40Z" fill="#a020f0"/><path d="M346.52,171.60L347.64,169.80L348.76,171.60L347.64,173.40Z" fill="#a020f0"/></g>
<g clip-path="url(#cR)"><polyline points="189.40,314.00 189.80,311.83 190.20,309.66 190.60,307.70 191.00,306.02 191.40,304.50 191.80,303.05 192.20,301.62 192.60,300.12 193.00,298.55 193.40,296.97 193.80,295.41 194.20,293.89 194.60,292.45 195.00,291.07 195.40,289.74 195.80,288.44 196.20,287.17 196.60,285.92 197.00,284.68 197.40,283.45 197.80,282.21 198.20,280.95 198.60,279.68 199.00,278.35 199.40,276.99 199.80,275.61 200.20,274.24 200.60,272.90 201.00,271.61 201.40,270.41 201.80,269.30 202.20,268.32 202.60,267.44 203.00,266.62 203.40,265.85 203.80,265.12 204.20,264.41 204.60,263.70 205.00,262.98 205.40,262.22 205.80,261.42 206.20,260.56 206.60,259.65 207.00,258.69 207.40,257.70 207.80,256.70 208.20,255.69 208.60,254.69 209.00,253.69 209.40,252.73 209.80,251.80 210.20,250.90 210.60,250.02 211.00,249.15 211.40,248.30 211.80,247.45 212.20,246.61 212.60,245.78 213.00,244.95 213.40,244.12 213.80,243.29 214.20,242.46 214.60,241.65 215.00,240.84 215.40,240.03 215.80,239.23 216.20,238.42 216.60,237.62 217.00,236.81 217.40,236.00 217.80,235.18 218.20,234.35 218.60,233.53 219.00,232.70 219.40,231.88 219.80,231.05 220.20,230.23 220.60,229.41 221.00,228.60 221.40,227.80 221.80,227.00 222.20,226.20 222.60,225.40 223.00,224.60 223.40,223.81 223.80,223.03 224.20,222.26 224.60,221.49 225.00,220.75 225.40,220.02 225.80,219.31 226.20,218.61 226.60,217.93 227.00,217.26 227.40,216.59 227.80,215.93 228.20,215.27 228.60,214.61 229.00,213.94 229.40,213.26 229.80,212.58 230.20,211.89 230.60,211.20 231.00,210.50 231.40,209.82 231.80,209.13 232.20,208.45 232.60,207.78 233.00,207.12 233.40,206.48 233.80,205.84 234.20,205.21 234.60,204.58 235.00,203.96 235.40,203.35 235.80,202.74 236.20,202.14 236.60,201.54 237.00,200.95 237.40,200.36 237.80,199.77 238.20,199.19 238.60,198.61 239.00,198.04 239.40,197.48 239.80,196.91 240.20,196.35 240.60,195.80 241.00,195.25 241.40,194.69 241.80,194.13 242.20,193.58 242.60,193.04 243.00,192.50 243.40,191.97 243.80,191.46 244.20,190.96 244.60,190.48 245.00,190.02 245.40,189.57 245.80,189.14 246.20,188.72 246.60,188.30 247.00,187.90 247.40,187.49 247.80,187.10 248.20,186.70 248.60,186.30 249.00,185.90 249.40,185.50 249.80,185.09 250.20,184.67 250.60,184.24 251.00,183.80 251.40,183.35 251.80,182.88 252.20,182.41 252.60,181.94 253.00,181.45 253.40,180.97 253.80,180.48 254.20,180.00 254.60,179.52 255.00,179.05 255.40,178.58 255.80,178.12 256.20,177.66 256.60,177.20 257.00,176.75 257.40,176.29 257.80,175.84 258.20,175.39 258.60,174.95 259.00,174.51 259.40,174.07 259.80,173.64 260.20,173.20 260.60,172.77 261.00,172.35 261.40,171.93 261.80,171.51 262.20,171.10 262.60,170.69 263.00,170.30 263.40,169.91 263.80,169.54 264.20,169.17 264.60,168.81 265.00,168.45 265.40,168.10 265.80,167.74 266.20,167.39 266.60,167.03 267.00,166.67 267.40,166.30 267.80,165.93 268.20,165.55 268.60,165.17 269.00,164.78 269.40,164.40 269.80,164.01 270.20,163.63 270.60,163.25 271.00,162.88 271.40,162.51 271.80,162.14 272.20,161.78 272.60,161.42 273.00,161.06 273.40,160.70 273.80,160.35 274.20,159.99 274.60,159.64 275.00,159.29 275.40,158.94 275.80,158.59 276.20,158.24 276.60,157.89 277.00,157.55 277.40,157.20 277.80,156.86 278.20,156.51 278.60,156.16 279.00,155.80 279.40,155.44 279.80,155.07 280.20,154.70 280.60,154.33 281.00,153.96 281.40,153.59 281.80,153.22 282.20,152.86 282.60,152.51 283.00,152.17 283.40,151.83 283.80,151.49 284.20,151.16 284.60,150.83 285.00,150.51 285.40,150.18 285.80,149.87 286.20,149.55 286.60,149.25 287.00,148.94 287.40,148.64 287.80,148.35 288.20,148.05 288.60,147.77 289.00,147.48 289.40,147.20 289.80,146.92 290.20,146.64 290.60,146.36 291.00,146.09 291.40,145.82 291.80,145.55 292.20,145.29 292.60,145.02 293.00,144.76 293.40,144.51 293.80,144.25 294.20,144.00 294.60,143.75 295.00,143.51 295.40,143.27 295.80,143.03 296.20,142.79 296.60,142.56 297.00,142.32 297.40,142.09 297.80,141.86 298.20,141.63 298.60,141.39 299.00,141.16 299.40,140.93 299.80,140.70 300.20,140.47 300.60,140.25 301.00,140.02 301.40,139.81 301.80,139.59 302.20,139.38 302.60,139.18 303.00,138.97 303.40,138.77 303.80,138.57 304.20,138.38 304.60,138.18 305.00,137.99 305.40,137.80 305.80,137.60 306.20,137.41 306.60,137.22 307.00,137.03 307.40,136.84 307.80,136.66 308.20,136.48 308.60,136.30 309.00,136.13 309.40,135.96 309.80,135.79 310.20,135.63 310.60,135.47 311.00,135.32 311.40,135.16 311.80,135.01 312.20,134.87 312.60,134.73 313.00,134.60 313.40,134.47 313.80,134.35 314.20,134.23 314.60,134.11 315.00,133.99 315.40,133.88 315.80,133.77 316.20,133.67 316.60,133.57 317.00,133.48 317.40,133.38 317.80,133.29 318.20,133.20 318.60,133.12 319.00,133.03 319.40,132.95 319.80,132.88 320.20,132.81 320.60,132.74 321.00,132.69 321.40,132.63 321.80,132.57 322.20,132.51 322.60,132.45 323.00,132.40 323.40,132.36 323.80,132.33 324.20,132.31 324.60,132.30 325.00,132.30 325.40,132.30 325.80,132.30 326.20,132.30 326.60,132.30 327.00,132.30 327.40,132.30 327.80,132.30 328.20,132.30 328.60,132.30 329.00,132.30 329.40,132.30 329.80,132.30 330.20,132.30 330.60,132.30 331.00,132.30 331.40,132.30 331.80,132.30 332.20,132.30 332.60,132.30 333.00,132.31 333.40,132.31 333.80,132.32 334.20,132.33 334.60,132.35 335.00,132.36 335.40,132.37 335.80,132.39 336.20,132.40 336.60,132.42 337.00,132.44 337.40,132.46 337.80,132.49 338.20,132.51 338.60,132.54 339.00,132.56 339.40,132.58 339.80,132.60 340.20,132.61 340.60,132.62 341.00,132.63 341.40,132.64 341.80,132.65 342.20,132.65 342.60,132.66 343.00,132.67 343.40,132.68 343.80,132.69 344.20,132.70 344.60,132.72 345.00,132.73 345.40,132.75 345.80,132.77 346.20,132.79 346.60,132.81 347.00,132.83 347.40,132.85 347.80,132.87 348.20,132.89 348.50,132.90" fill="none" stroke="#0000ff" stroke-width="1.0" stroke-linejoin="round"/><path d="M188.40,309.66L190.20,308.13L192.00,309.66L190.20,311.19Z" fill="#0000ff"/><path d="M192.24,294.49L194.04,292.96L195.84,294.49L194.04,296.02Z" fill="#0000ff"/><path d="M196.08,281.96L197.88,280.43L199.68,281.96L197.88,283.49Z" fill="#0000ff"/><path d="M199.92,269.52L201.72,267.99L203.52,269.52L201.72,271.05Z" fill="#0000ff"/><path d="M203.76,261.91L205.56,260.38L207.36,261.91L205.56,263.44Z" fill="#0000ff"/><path d="M207.60,252.73L209.40,251.20L211.20,252.73L209.40,254.26Z" fill="#0000ff"/><path d="M211.44,244.45L213.24,242.92L215.04,244.45L213.24,245.98Z" fill="#0000ff"/><path d="M215.28,236.65L217.08,235.12L218.88,236.65L217.08,238.18Z" fill="#0000ff"/><path d="M219.12,228.76L220.92,227.23L222.72,228.76L220.92,230.29Z" fill="#0000ff"/><path d="M222.96,221.19L224.76,219.66L226.56,221.19L224.76,222.72Z" fill="#0000ff"/><path d="M226.80,214.61L228.60,213.08L230.40,214.61L228.60,216.14Z" fill="#0000ff"/><path d="M230.64,208.05L232.44,206.52L234.24,208.05L232.44,209.58Z" fill="#0000ff"/><path d="M234.48,202.02L236.28,200.49L238.08,202.02L236.28,203.55Z" fill="#0000ff"/><path d="M238.32,196.47L240.12,194.94L241.92,196.47L240.12,198.00Z" fill="#0000ff"/><path d="M242.16,191.26L243.96,189.73L245.76,191.26L243.96,192.79Z" fill="#0000ff"/><path d="M246.00,187.10L247.80,185.57L249.60,187.10L247.80,188.63Z" fill="#0000ff"/><path d="M249.84,183.07L251.64,181.54L253.44,183.07L251.64,184.60Z" fill="#0000ff"/><path d="M253.68,178.49L255.48,176.96L257.28,178.49L255.48,180.02Z" fill="#0000ff"/><path d="M257.52,174.16L259.32,172.63L261.12,174.16L259.32,175.69Z" fill="#0000ff"/><path d="M261.36,170.14L263.16,168.61L264.96,170.14L263.16,171.67Z" fill="#0000ff"/><path d="M265.20,166.67L267.00,165.14L268.80,166.67L267.00,168.20Z" fill="#0000ff"/><path d="M269.04,163.03L270.84,161.50L272.64,163.03L270.84,164.56Z" fill="#0000ff"/><path d="M272.88,159.57L274.68,158.04L276.48,159.57L274.68,161.10Z" fill="#0000ff"/><path d="M276.72,156.23L278.52,154.70L280.32,156.23L278.52,157.76Z" fill="#0000ff"/><path d="M280.56,152.72L282.36,151.19L284.16,152.72L282.36,154.25Z" fill="#0000ff"/><path d="M284.40,149.55L286.20,148.02L288.00,149.55L286.20,151.08Z" fill="#0000ff"/><path d="M288.24,146.75L290.04,145.22L291.84,146.75L290.04,148.28Z" fill="#0000ff"/><path d="M292.08,144.20L293.88,142.67L295.68,144.20L293.88,145.73Z" fill="#0000ff"/><path d="M295.92,141.90L297.72,140.37L299.52,141.90L297.72,143.43Z" fill="#0000ff"/><path d="M299.76,139.72L301.56,138.19L303.36,139.72L301.56,141.25Z" fill="#0000ff"/><path d="M303.60,137.80L305.40,136.27L307.20,137.80L305.40,139.33Z" fill="#0000ff"/><path d="M307.44,136.02L309.24,134.49L311.04,136.02L309.24,137.55Z" fill="#0000ff"/><path d="M311.28,134.57L313.08,133.04L314.88,134.57L313.08,136.10Z" fill="#0000ff"/><path d="M315.12,133.50L316.92,131.97L318.72,133.50L316.92,135.03Z" fill="#0000ff"/><path d="M318.96,132.72L320.76,131.19L322.56,132.72L320.76,134.25Z" fill="#0000ff"/><path d="M322.80,132.30L324.60,130.77L326.40,132.30L324.60,133.83Z" fill="#0000ff"/><path d="M326.64,132.30L328.44,130.77L330.24,132.30L328.44,133.83Z" fill="#0000ff"/><path d="M330.48,132.30L332.28,130.77L334.08,132.30L332.28,133.83Z" fill="#0000ff"/><path d="M334.32,132.40L336.12,130.87L337.92,132.40L336.12,133.93Z" fill="#0000ff"/><path d="M338.16,132.60L339.96,131.07L341.76,132.60L339.96,134.13Z" fill="#0000ff"/><path d="M342.00,132.69L343.80,131.16L345.60,132.69L343.80,134.22Z" fill="#0000ff"/><path d="M345.84,132.86L347.64,131.33L349.44,132.86L347.64,134.39Z" fill="#0000ff"/></g>
<line x1="44.77" y1="318.40" x2="44.77" y2="313.80" stroke="#444" stroke-width="1"/>
<line x1="44.77" y1="7.00" x2="44.77" y2="11.60" stroke="#444" stroke-width="1"/>
<line x1="53.24" y1="318.40" x2="53.24" y2="313.80" stroke="#444" stroke-width="1"/>
<line x1="53.24" y1="7.00" x2="53.24" y2="11.60" stroke="#444" stroke-width="1"/>
<line x1="59.24" y1="318.40" x2="59.24" y2="313.80" stroke="#444" stroke-width="1"/>
<line x1="59.24" y1="7.00" x2="59.24" y2="11.60" stroke="#444" stroke-width="1"/>
<line x1="63.90" y1="318.40" x2="63.90" y2="313.80" stroke="#444" stroke-width="1"/>
<line x1="63.90" y1="7.00" x2="63.90" y2="11.60" stroke="#444" stroke-width="1"/>
<line x1="67.71" y1="318.40" x2="67.71" y2="313.80" stroke="#444" stroke-width="1"/>
<line x1="67.71" y1="7.00" x2="67.71" y2="11.60" stroke="#444" stroke-width="1"/>
<line x1="70.92" y1="318.40" x2="70.92" y2="313.80" stroke="#444" stroke-width="1"/>
<line x1="70.92" y1="7.00" x2="70.92" y2="11.60" stroke="#444" stroke-width="1"/>
<line x1="73.71" y1="318.40" x2="73.71" y2="313.80" stroke="#444" stroke-width="1"/>
<line x1="73.71" y1="7.00" x2="73.71" y2="11.60" stroke="#444" stroke-width="1"/>
<line x1="76.17" y1="318.40" x2="76.17" y2="313.80" stroke="#444" stroke-width="1"/>
<line x1="76.17" y1="7.00" x2="76.17" y2="11.60" stroke="#444" stroke-width="1"/>
<line x1="78.37" y1="318.40" x2="78.37" y2="309.90" stroke="#7a7a7a" stroke-width="1.3"/>
<line x1="78.37" y1="7.00" x2="78.37" y2="15.50" stroke="#7a7a7a" stroke-width="1.3"/>
<line x1="92.84" y1="318.40" x2="92.84" y2="313.80" stroke="#444" stroke-width="1"/>
<line x1="92.84" y1="7.00" x2="92.84" y2="11.60" stroke="#444" stroke-width="1"/>
<line x1="101.31" y1="318.40" x2="101.31" y2="313.80" stroke="#444" stroke-width="1"/>
<line x1="101.31" y1="7.00" x2="101.31" y2="11.60" stroke="#444" stroke-width="1"/>
<line x1="107.31" y1="318.40" x2="107.31" y2="313.80" stroke="#444" stroke-width="1"/>
<line x1="107.31" y1="7.00" x2="107.31" y2="11.60" stroke="#444" stroke-width="1"/>
<line x1="111.97" y1="318.40" x2="111.97" y2="313.80" stroke="#444" stroke-width="1"/>
<line x1="111.97" y1="7.00" x2="111.97" y2="11.60" stroke="#444" stroke-width="1"/>
<line x1="115.78" y1="318.40" x2="115.78" y2="313.80" stroke="#444" stroke-width="1"/>
<line x1="115.78" y1="7.00" x2="115.78" y2="11.60" stroke="#444" stroke-width="1"/>
<line x1="118.99" y1="318.40" x2="118.99" y2="313.80" stroke="#444" stroke-width="1"/>
<line x1="118.99" y1="7.00" x2="118.99" y2="11.60" stroke="#444" stroke-width="1"/>
<line x1="121.78" y1="318.40" x2="121.78" y2="313.80" stroke="#444" stroke-width="1"/>
<line x1="121.78" y1="7.00" x2="121.78" y2="11.60" stroke="#444" stroke-width="1"/>
<line x1="124.24" y1="318.40" x2="124.24" y2="313.80" stroke="#444" stroke-width="1"/>
<line x1="124.24" y1="7.00" x2="124.24" y2="11.60" stroke="#444" stroke-width="1"/>
<line x1="126.44" y1="318.40" x2="126.44" y2="309.90" stroke="#7a7a7a" stroke-width="1.3"/>
<line x1="126.44" y1="7.00" x2="126.44" y2="15.50" stroke="#7a7a7a" stroke-width="1.3"/>
<line x1="140.91" y1="318.40" x2="140.91" y2="313.80" stroke="#444" stroke-width="1"/>
<line x1="140.91" y1="7.00" x2="140.91" y2="11.60" stroke="#444" stroke-width="1"/>
<line x1="149.38" y1="318.40" x2="149.38" y2="313.80" stroke="#444" stroke-width="1"/>
<line x1="149.38" y1="7.00" x2="149.38" y2="11.60" stroke="#444" stroke-width="1"/>
<line x1="155.38" y1="318.40" x2="155.38" y2="313.80" stroke="#444" stroke-width="1"/>
<line x1="155.38" y1="7.00" x2="155.38" y2="11.60" stroke="#444" stroke-width="1"/>
<line x1="160.04" y1="318.40" x2="160.04" y2="313.80" stroke="#444" stroke-width="1"/>
<line x1="160.04" y1="7.00" x2="160.04" y2="11.60" stroke="#444" stroke-width="1"/>
<line x1="163.85" y1="318.40" x2="163.85" y2="313.80" stroke="#444" stroke-width="1"/>
<line x1="163.85" y1="7.00" x2="163.85" y2="11.60" stroke="#444" stroke-width="1"/>
<line x1="167.06" y1="318.40" x2="167.06" y2="313.80" stroke="#444" stroke-width="1"/>
<line x1="167.06" y1="7.00" x2="167.06" y2="11.60" stroke="#444" stroke-width="1"/>
<line x1="169.85" y1="318.40" x2="169.85" y2="313.80" stroke="#444" stroke-width="1"/>
<line x1="169.85" y1="7.00" x2="169.85" y2="11.60" stroke="#444" stroke-width="1"/>
<line x1="172.31" y1="318.40" x2="172.31" y2="313.80" stroke="#444" stroke-width="1"/>
<line x1="172.31" y1="7.00" x2="172.31" y2="11.60" stroke="#444" stroke-width="1"/>
<line x1="174.51" y1="318.40" x2="174.51" y2="309.90" stroke="#7a7a7a" stroke-width="1.3"/>
<line x1="174.51" y1="7.00" x2="174.51" y2="15.50" stroke="#7a7a7a" stroke-width="1.3"/>
<line x1="188.98" y1="318.40" x2="188.98" y2="313.80" stroke="#444" stroke-width="1"/>
<line x1="188.98" y1="7.00" x2="188.98" y2="11.60" stroke="#444" stroke-width="1"/>
<line x1="30.30" y1="306.68" x2="33.30" y2="306.68" stroke="#444" stroke-width="1"/>
<line x1="189.30" y1="306.68" x2="186.30" y2="306.68" stroke="#444" stroke-width="1"/>
<line x1="30.30" y1="299.83" x2="33.30" y2="299.83" stroke="#444" stroke-width="1"/>
<line x1="189.30" y1="299.83" x2="186.30" y2="299.83" stroke="#444" stroke-width="1"/>
<line x1="30.30" y1="294.96" x2="33.30" y2="294.96" stroke="#444" stroke-width="1"/>
<line x1="189.30" y1="294.96" x2="186.30" y2="294.96" stroke="#444" stroke-width="1"/>
<line x1="30.30" y1="291.19" x2="33.30" y2="291.19" stroke="#444" stroke-width="1"/>
<line x1="189.30" y1="291.19" x2="186.30" y2="291.19" stroke="#444" stroke-width="1"/>
<line x1="30.30" y1="288.11" x2="33.30" y2="288.11" stroke="#444" stroke-width="1"/>
<line x1="189.30" y1="288.11" x2="186.30" y2="288.11" stroke="#444" stroke-width="1"/>
<line x1="30.30" y1="285.50" x2="33.30" y2="285.50" stroke="#444" stroke-width="1"/>
<line x1="189.30" y1="285.50" x2="186.30" y2="285.50" stroke="#444" stroke-width="1"/>
<line x1="30.30" y1="283.25" x2="33.30" y2="283.25" stroke="#444" stroke-width="1"/>
<line x1="189.30" y1="283.25" x2="186.30" y2="283.25" stroke="#444" stroke-width="1"/>
<line x1="30.30" y1="281.26" x2="33.30" y2="281.26" stroke="#444" stroke-width="1"/>
<line x1="189.30" y1="281.26" x2="186.30" y2="281.26" stroke="#444" stroke-width="1"/>
<line x1="30.30" y1="279.47" x2="36.30" y2="279.47" stroke="#7a7a7a" stroke-width="1.3"/>
<line x1="189.30" y1="279.47" x2="183.30" y2="279.47" stroke="#7a7a7a" stroke-width="1.3"/>
<line x1="30.30" y1="267.76" x2="33.30" y2="267.76" stroke="#444" stroke-width="1"/>
<line x1="189.30" y1="267.76" x2="186.30" y2="267.76" stroke="#444" stroke-width="1"/>
<line x1="30.30" y1="260.90" x2="33.30" y2="260.90" stroke="#444" stroke-width="1"/>
<line x1="189.30" y1="260.90" x2="186.30" y2="260.90" stroke="#444" stroke-width="1"/>
<line x1="30.30" y1="256.04" x2="33.30" y2="256.04" stroke="#444" stroke-width="1"/>
<line x1="189.30" y1="256.04" x2="186.30" y2="256.04" stroke="#444" stroke-width="1"/>
<line x1="30.30" y1="252.27" x2="33.30" y2="252.27" stroke="#444" stroke-width="1"/>
<line x1="189.30" y1="252.27" x2="186.30" y2="252.27" stroke="#444" stroke-width="1"/>
<line x1="30.30" y1="249.19" x2="33.30" y2="249.19" stroke="#444" stroke-width="1"/>
<line x1="189.30" y1="249.19" x2="186.30" y2="249.19" stroke="#444" stroke-width="1"/>
<line x1="30.30" y1="246.58" x2="33.30" y2="246.58" stroke="#444" stroke-width="1"/>
<line x1="189.30" y1="246.58" x2="186.30" y2="246.58" stroke="#444" stroke-width="1"/>
<line x1="30.30" y1="244.32" x2="33.30" y2="244.32" stroke="#444" stroke-width="1"/>
<line x1="189.30" y1="244.32" x2="186.30" y2="244.32" stroke="#444" stroke-width="1"/>
<line x1="30.30" y1="242.33" x2="33.30" y2="242.33" stroke="#444" stroke-width="1"/>
<line x1="189.30" y1="242.33" x2="186.30" y2="242.33" stroke="#444" stroke-width="1"/>
<line x1="30.30" y1="240.55" x2="36.30" y2="240.55" stroke="#7a7a7a" stroke-width="1.3"/>
<line x1="189.30" y1="240.55" x2="183.30" y2="240.55" stroke="#7a7a7a" stroke-width="1.3"/>
<line x1="30.30" y1="228.83" x2="33.30" y2="228.83" stroke="#444" stroke-width="1"/>
<line x1="189.30" y1="228.83" x2="186.30" y2="228.83" stroke="#444" stroke-width="1"/>
<line x1="30.30" y1="221.98" x2="33.30" y2="221.98" stroke="#444" stroke-width="1"/>
<line x1="189.30" y1="221.98" x2="186.30" y2="221.98" stroke="#444" stroke-width="1"/>
<line x1="30.30" y1="217.11" x2="33.30" y2="217.11" stroke="#444" stroke-width="1"/>
<line x1="189.30" y1="217.11" x2="186.30" y2="217.11" stroke="#444" stroke-width="1"/>
<line x1="30.30" y1="213.34" x2="33.30" y2="213.34" stroke="#444" stroke-width="1"/>
<line x1="189.30" y1="213.34" x2="186.30" y2="213.34" stroke="#444" stroke-width="1"/>
<line x1="30.30" y1="210.26" x2="33.30" y2="210.26" stroke="#444" stroke-width="1"/>
<line x1="189.30" y1="210.26" x2="186.30" y2="210.26" stroke="#444" stroke-width="1"/>
<line x1="30.30" y1="207.65" x2="33.30" y2="207.65" stroke="#444" stroke-width="1"/>
<line x1="189.30" y1="207.65" x2="186.30" y2="207.65" stroke="#444" stroke-width="1"/>
<line x1="30.30" y1="205.40" x2="33.30" y2="205.40" stroke="#444" stroke-width="1"/>
<line x1="189.30" y1="205.40" x2="186.30" y2="205.40" stroke="#444" stroke-width="1"/>
<line x1="30.30" y1="203.41" x2="33.30" y2="203.41" stroke="#444" stroke-width="1"/>
<line x1="189.30" y1="203.41" x2="186.30" y2="203.41" stroke="#444" stroke-width="1"/>
<line x1="30.30" y1="201.62" x2="36.30" y2="201.62" stroke="#7a7a7a" stroke-width="1.3"/>
<line x1="189.30" y1="201.62" x2="183.30" y2="201.62" stroke="#7a7a7a" stroke-width="1.3"/>
<line x1="30.30" y1="189.91" x2="33.30" y2="189.91" stroke="#444" stroke-width="1"/>
<line x1="189.30" y1="189.91" x2="186.30" y2="189.91" stroke="#444" stroke-width="1"/>
<line x1="30.30" y1="183.05" x2="33.30" y2="183.05" stroke="#444" stroke-width="1"/>
<line x1="189.30" y1="183.05" x2="186.30" y2="183.05" stroke="#444" stroke-width="1"/>
<line x1="30.30" y1="178.19" x2="33.30" y2="178.19" stroke="#444" stroke-width="1"/>
<line x1="189.30" y1="178.19" x2="186.30" y2="178.19" stroke="#444" stroke-width="1"/>
<line x1="30.30" y1="174.42" x2="33.30" y2="174.42" stroke="#444" stroke-width="1"/>
<line x1="189.30" y1="174.42" x2="186.30" y2="174.42" stroke="#444" stroke-width="1"/>
<line x1="30.30" y1="171.34" x2="33.30" y2="171.34" stroke="#444" stroke-width="1"/>
<line x1="189.30" y1="171.34" x2="186.30" y2="171.34" stroke="#444" stroke-width="1"/>
<line x1="30.30" y1="168.73" x2="33.30" y2="168.73" stroke="#444" stroke-width="1"/>
<line x1="189.30" y1="168.73" x2="186.30" y2="168.73" stroke="#444" stroke-width="1"/>
<line x1="30.30" y1="166.47" x2="33.30" y2="166.47" stroke="#444" stroke-width="1"/>
<line x1="189.30" y1="166.47" x2="186.30" y2="166.47" stroke="#444" stroke-width="1"/>
<line x1="30.30" y1="164.48" x2="33.30" y2="164.48" stroke="#444" stroke-width="1"/>
<line x1="189.30" y1="164.48" x2="186.30" y2="164.48" stroke="#444" stroke-width="1"/>
<line x1="30.30" y1="162.70" x2="36.30" y2="162.70" stroke="#7a7a7a" stroke-width="1.3"/>
<line x1="189.30" y1="162.70" x2="183.30" y2="162.70" stroke="#7a7a7a" stroke-width="1.3"/>
<line x1="30.30" y1="150.98" x2="33.30" y2="150.98" stroke="#444" stroke-width="1"/>
<line x1="189.30" y1="150.98" x2="186.30" y2="150.98" stroke="#444" stroke-width="1"/>
<line x1="30.30" y1="144.13" x2="33.30" y2="144.13" stroke="#444" stroke-width="1"/>
<line x1="189.30" y1="144.13" x2="186.30" y2="144.13" stroke="#444" stroke-width="1"/>
<line x1="30.30" y1="139.26" x2="33.30" y2="139.26" stroke="#444" stroke-width="1"/>
<line x1="189.30" y1="139.26" x2="186.30" y2="139.26" stroke="#444" stroke-width="1"/>
<line x1="30.30" y1="135.49" x2="33.30" y2="135.49" stroke="#444" stroke-width="1"/>
<line x1="189.30" y1="135.49" x2="186.30" y2="135.49" stroke="#444" stroke-width="1"/>
<line x1="30.30" y1="132.41" x2="33.30" y2="132.41" stroke="#444" stroke-width="1"/>
<line x1="189.30" y1="132.41" x2="186.30" y2="132.41" stroke="#444" stroke-width="1"/>
<line x1="30.30" y1="129.80" x2="33.30" y2="129.80" stroke="#444" stroke-width="1"/>
<line x1="189.30" y1="129.80" x2="186.30" y2="129.80" stroke="#444" stroke-width="1"/>
<line x1="30.30" y1="127.55" x2="33.30" y2="127.55" stroke="#444" stroke-width="1"/>
<line x1="189.30" y1="127.55" x2="186.30" y2="127.55" stroke="#444" stroke-width="1"/>
<line x1="30.30" y1="125.56" x2="33.30" y2="125.56" stroke="#444" stroke-width="1"/>
<line x1="189.30" y1="125.56" x2="186.30" y2="125.56" stroke="#444" stroke-width="1"/>
<line x1="30.30" y1="123.77" x2="36.30" y2="123.77" stroke="#7a7a7a" stroke-width="1.3"/>
<line x1="189.30" y1="123.77" x2="183.30" y2="123.77" stroke="#7a7a7a" stroke-width="1.3"/>
<line x1="30.30" y1="112.06" x2="33.30" y2="112.06" stroke="#444" stroke-width="1"/>
<line x1="189.30" y1="112.06" x2="186.30" y2="112.06" stroke="#444" stroke-width="1"/>
<line x1="30.30" y1="105.20" x2="33.30" y2="105.20" stroke="#444" stroke-width="1"/>
<line x1="189.30" y1="105.20" x2="186.30" y2="105.20" stroke="#444" stroke-width="1"/>
<line x1="30.30" y1="100.34" x2="33.30" y2="100.34" stroke="#444" stroke-width="1"/>
<line x1="189.30" y1="100.34" x2="186.30" y2="100.34" stroke="#444" stroke-width="1"/>
<line x1="30.30" y1="96.57" x2="33.30" y2="96.57" stroke="#444" stroke-width="1"/>
<line x1="189.30" y1="96.57" x2="186.30" y2="96.57" stroke="#444" stroke-width="1"/>
<line x1="30.30" y1="93.49" x2="33.30" y2="93.49" stroke="#444" stroke-width="1"/>
<line x1="189.30" y1="93.49" x2="186.30" y2="93.49" stroke="#444" stroke-width="1"/>
<line x1="30.30" y1="90.88" x2="33.30" y2="90.88" stroke="#444" stroke-width="1"/>
<line x1="189.30" y1="90.88" x2="186.30" y2="90.88" stroke="#444" stroke-width="1"/>
<line x1="30.30" y1="88.62" x2="33.30" y2="88.62" stroke="#444" stroke-width="1"/>
<line x1="189.30" y1="88.62" x2="186.30" y2="88.62" stroke="#444" stroke-width="1"/>
<line x1="30.30" y1="86.63" x2="33.30" y2="86.63" stroke="#444" stroke-width="1"/>
<line x1="189.30" y1="86.63" x2="186.30" y2="86.63" stroke="#444" stroke-width="1"/>
<line x1="30.30" y1="84.85" x2="36.30" y2="84.85" stroke="#7a7a7a" stroke-width="1.3"/>
<line x1="189.30" y1="84.85" x2="183.30" y2="84.85" stroke="#7a7a7a" stroke-width="1.3"/>
<line x1="30.30" y1="73.13" x2="33.30" y2="73.13" stroke="#444" stroke-width="1"/>
<line x1="189.30" y1="73.13" x2="186.30" y2="73.13" stroke="#444" stroke-width="1"/>
<line x1="30.30" y1="66.28" x2="33.30" y2="66.28" stroke="#444" stroke-width="1"/>
<line x1="189.30" y1="66.28" x2="186.30" y2="66.28" stroke="#444" stroke-width="1"/>
<line x1="30.30" y1="61.41" x2="33.30" y2="61.41" stroke="#444" stroke-width="1"/>
<line x1="189.30" y1="61.41" x2="186.30" y2="61.41" stroke="#444" stroke-width="1"/>
<line x1="30.30" y1="57.64" x2="33.30" y2="57.64" stroke="#444" stroke-width="1"/>
<line x1="189.30" y1="57.64" x2="186.30" y2="57.64" stroke="#444" stroke-width="1"/>
<line x1="30.30" y1="54.56" x2="33.30" y2="54.56" stroke="#444" stroke-width="1"/>
<line x1="189.30" y1="54.56" x2="186.30" y2="54.56" stroke="#444" stroke-width="1"/>
<line x1="30.30" y1="51.95" x2="33.30" y2="51.95" stroke="#444" stroke-width="1"/>
<line x1="189.30" y1="51.95" x2="186.30" y2="51.95" stroke="#444" stroke-width="1"/>
<line x1="30.30" y1="49.70" x2="33.30" y2="49.70" stroke="#444" stroke-width="1"/>
<line x1="189.30" y1="49.70" x2="186.30" y2="49.70" stroke="#444" stroke-width="1"/>
<line x1="30.30" y1="47.71" x2="33.30" y2="47.71" stroke="#444" stroke-width="1"/>
<line x1="189.30" y1="47.71" x2="186.30" y2="47.71" stroke="#444" stroke-width="1"/>
<line x1="30.30" y1="45.92" x2="36.30" y2="45.92" stroke="#7a7a7a" stroke-width="1.3"/>
<line x1="189.30" y1="45.92" x2="183.30" y2="45.92" stroke="#7a7a7a" stroke-width="1.3"/>
<line x1="30.30" y1="34.21" x2="33.30" y2="34.21" stroke="#444" stroke-width="1"/>
<line x1="189.30" y1="34.21" x2="186.30" y2="34.21" stroke="#444" stroke-width="1"/>
<line x1="30.30" y1="27.35" x2="33.30" y2="27.35" stroke="#444" stroke-width="1"/>
<line x1="189.30" y1="27.35" x2="186.30" y2="27.35" stroke="#444" stroke-width="1"/>
<line x1="30.30" y1="22.49" x2="33.30" y2="22.49" stroke="#444" stroke-width="1"/>
<line x1="189.30" y1="22.49" x2="186.30" y2="22.49" stroke="#444" stroke-width="1"/>
<line x1="30.30" y1="18.72" x2="33.30" y2="18.72" stroke="#444" stroke-width="1"/>
<line x1="189.30" y1="18.72" x2="186.30" y2="18.72" stroke="#444" stroke-width="1"/>
<line x1="30.30" y1="15.64" x2="33.30" y2="15.64" stroke="#444" stroke-width="1"/>
<line x1="189.30" y1="15.64" x2="186.30" y2="15.64" stroke="#444" stroke-width="1"/>
<line x1="30.30" y1="13.03" x2="33.30" y2="13.03" stroke="#444" stroke-width="1"/>
<line x1="189.30" y1="13.03" x2="186.30" y2="13.03" stroke="#444" stroke-width="1"/>
<line x1="30.30" y1="10.77" x2="33.30" y2="10.77" stroke="#444" stroke-width="1"/>
<line x1="189.30" y1="10.77" x2="186.30" y2="10.77" stroke="#444" stroke-width="1"/>
<line x1="30.30" y1="8.78" x2="33.30" y2="8.78" stroke="#444" stroke-width="1"/>
<line x1="189.30" y1="8.78" x2="186.30" y2="8.78" stroke="#444" stroke-width="1"/>
<line x1="203.91" y1="318.40" x2="203.91" y2="313.80" stroke="#444" stroke-width="1"/>
<line x1="203.91" y1="7.00" x2="203.91" y2="11.60" stroke="#444" stroke-width="1"/>
<line x1="212.40" y1="318.40" x2="212.40" y2="313.80" stroke="#444" stroke-width="1"/>
<line x1="212.40" y1="7.00" x2="212.40" y2="11.60" stroke="#444" stroke-width="1"/>
<line x1="218.42" y1="318.40" x2="218.42" y2="313.80" stroke="#444" stroke-width="1"/>
<line x1="218.42" y1="7.00" x2="218.42" y2="11.60" stroke="#444" stroke-width="1"/>
<line x1="223.09" y1="318.40" x2="223.09" y2="313.80" stroke="#444" stroke-width="1"/>
<line x1="223.09" y1="7.00" x2="223.09" y2="11.60" stroke="#444" stroke-width="1"/>
<line x1="226.91" y1="318.40" x2="226.91" y2="313.80" stroke="#444" stroke-width="1"/>
<line x1="226.91" y1="7.00" x2="226.91" y2="11.60" stroke="#444" stroke-width="1"/>
<line x1="230.13" y1="318.40" x2="230.13" y2="313.80" stroke="#444" stroke-width="1"/>
<line x1="230.13" y1="7.00" x2="230.13" y2="11.60" stroke="#444" stroke-width="1"/>
<line x1="232.93" y1="318.40" x2="232.93" y2="313.80" stroke="#444" stroke-width="1"/>
<line x1="232.93" y1="7.00" x2="232.93" y2="11.60" stroke="#444" stroke-width="1"/>
<line x1="235.39" y1="318.40" x2="235.39" y2="313.80" stroke="#444" stroke-width="1"/>
<line x1="235.39" y1="7.00" x2="235.39" y2="11.60" stroke="#444" stroke-width="1"/>
<line x1="237.60" y1="318.40" x2="237.60" y2="309.90" stroke="#7a7a7a" stroke-width="1.3"/>
<line x1="237.60" y1="7.00" x2="237.60" y2="15.50" stroke="#7a7a7a" stroke-width="1.3"/>
<line x1="252.11" y1="318.40" x2="252.11" y2="313.80" stroke="#444" stroke-width="1"/>
<line x1="252.11" y1="7.00" x2="252.11" y2="11.60" stroke="#444" stroke-width="1"/>
<line x1="260.60" y1="318.40" x2="260.60" y2="313.80" stroke="#444" stroke-width="1"/>
<line x1="260.60" y1="7.00" x2="260.60" y2="11.60" stroke="#444" stroke-width="1"/>
<line x1="266.62" y1="318.40" x2="266.62" y2="313.80" stroke="#444" stroke-width="1"/>
<line x1="266.62" y1="7.00" x2="266.62" y2="11.60" stroke="#444" stroke-width="1"/>
<line x1="271.29" y1="318.40" x2="271.29" y2="313.80" stroke="#444" stroke-width="1"/>
<line x1="271.29" y1="7.00" x2="271.29" y2="11.60" stroke="#444" stroke-width="1"/>
<line x1="275.11" y1="318.40" x2="275.11" y2="313.80" stroke="#444" stroke-width="1"/>
<line x1="275.11" y1="7.00" x2="275.11" y2="11.60" stroke="#444" stroke-width="1"/>
<line x1="278.33" y1="318.40" x2="278.33" y2="313.80" stroke="#444" stroke-width="1"/>
<line x1="278.33" y1="7.00" x2="278.33" y2="11.60" stroke="#444" stroke-width="1"/>
<line x1="281.13" y1="318.40" x2="281.13" y2="313.80" stroke="#444" stroke-width="1"/>
<line x1="281.13" y1="7.00" x2="281.13" y2="11.60" stroke="#444" stroke-width="1"/>
<line x1="283.59" y1="318.40" x2="283.59" y2="313.80" stroke="#444" stroke-width="1"/>
<line x1="283.59" y1="7.00" x2="283.59" y2="11.60" stroke="#444" stroke-width="1"/>
<line x1="285.80" y1="318.40" x2="285.80" y2="309.90" stroke="#7a7a7a" stroke-width="1.3"/>
<line x1="285.80" y1="7.00" x2="285.80" y2="15.50" stroke="#7a7a7a" stroke-width="1.3"/>
<line x1="300.31" y1="318.40" x2="300.31" y2="313.80" stroke="#444" stroke-width="1"/>
<line x1="300.31" y1="7.00" x2="300.31" y2="11.60" stroke="#444" stroke-width="1"/>
<line x1="308.80" y1="318.40" x2="308.80" y2="313.80" stroke="#444" stroke-width="1"/>
<line x1="308.80" y1="7.00" x2="308.80" y2="11.60" stroke="#444" stroke-width="1"/>
<line x1="314.82" y1="318.40" x2="314.82" y2="313.80" stroke="#444" stroke-width="1"/>
<line x1="314.82" y1="7.00" x2="314.82" y2="11.60" stroke="#444" stroke-width="1"/>
<line x1="319.49" y1="318.40" x2="319.49" y2="313.80" stroke="#444" stroke-width="1"/>
<line x1="319.49" y1="7.00" x2="319.49" y2="11.60" stroke="#444" stroke-width="1"/>
<line x1="323.31" y1="318.40" x2="323.31" y2="313.80" stroke="#444" stroke-width="1"/>
<line x1="323.31" y1="7.00" x2="323.31" y2="11.60" stroke="#444" stroke-width="1"/>
<line x1="326.53" y1="318.40" x2="326.53" y2="313.80" stroke="#444" stroke-width="1"/>
<line x1="326.53" y1="7.00" x2="326.53" y2="11.60" stroke="#444" stroke-width="1"/>
<line x1="329.33" y1="318.40" x2="329.33" y2="313.80" stroke="#444" stroke-width="1"/>
<line x1="329.33" y1="7.00" x2="329.33" y2="11.60" stroke="#444" stroke-width="1"/>
<line x1="331.79" y1="318.40" x2="331.79" y2="313.80" stroke="#444" stroke-width="1"/>
<line x1="331.79" y1="7.00" x2="331.79" y2="11.60" stroke="#444" stroke-width="1"/>
<line x1="334.00" y1="318.40" x2="334.00" y2="309.90" stroke="#7a7a7a" stroke-width="1.3"/>
<line x1="334.00" y1="7.00" x2="334.00" y2="15.50" stroke="#7a7a7a" stroke-width="1.3"/>
<line x1="348.51" y1="318.40" x2="348.51" y2="313.80" stroke="#444" stroke-width="1"/>
<line x1="348.51" y1="7.00" x2="348.51" y2="11.60" stroke="#444" stroke-width="1"/>
<line x1="189.40" y1="306.68" x2="192.40" y2="306.68" stroke="#444" stroke-width="1"/>
<line x1="348.80" y1="306.68" x2="345.80" y2="306.68" stroke="#444" stroke-width="1"/>
<line x1="189.40" y1="299.83" x2="192.40" y2="299.83" stroke="#444" stroke-width="1"/>
<line x1="348.80" y1="299.83" x2="345.80" y2="299.83" stroke="#444" stroke-width="1"/>
<line x1="189.40" y1="294.96" x2="192.40" y2="294.96" stroke="#444" stroke-width="1"/>
<line x1="348.80" y1="294.96" x2="345.80" y2="294.96" stroke="#444" stroke-width="1"/>
<line x1="189.40" y1="291.19" x2="192.40" y2="291.19" stroke="#444" stroke-width="1"/>
<line x1="348.80" y1="291.19" x2="345.80" y2="291.19" stroke="#444" stroke-width="1"/>
<line x1="189.40" y1="288.11" x2="192.40" y2="288.11" stroke="#444" stroke-width="1"/>
<line x1="348.80" y1="288.11" x2="345.80" y2="288.11" stroke="#444" stroke-width="1"/>
<line x1="189.40" y1="285.50" x2="192.40" y2="285.50" stroke="#444" stroke-width="1"/>
<line x1="348.80" y1="285.50" x2="345.80" y2="285.50" stroke="#444" stroke-width="1"/>
<line x1="189.40" y1="283.25" x2="192.40" y2="283.25" stroke="#444" stroke-width="1"/>
<line x1="348.80" y1="283.25" x2="345.80" y2="283.25" stroke="#444" stroke-width="1"/>
<line x1="189.40" y1="281.26" x2="192.40" y2="281.26" stroke="#444" stroke-width="1"/>
<line x1="348.80" y1="281.26" x2="345.80" y2="281.26" stroke="#444" stroke-width="1"/>
<line x1="189.40" y1="279.47" x2="195.40" y2="279.47" stroke="#7a7a7a" stroke-width="1.3"/>
<line x1="348.80" y1="279.47" x2="342.80" y2="279.47" stroke="#7a7a7a" stroke-width="1.3"/>
<line x1="189.40" y1="267.76" x2="192.40" y2="267.76" stroke="#444" stroke-width="1"/>
<line x1="348.80" y1="267.76" x2="345.80" y2="267.76" stroke="#444" stroke-width="1"/>
<line x1="189.40" y1="260.90" x2="192.40" y2="260.90" stroke="#444" stroke-width="1"/>
<line x1="348.80" y1="260.90" x2="345.80" y2="260.90" stroke="#444" stroke-width="1"/>
<line x1="189.40" y1="256.04" x2="192.40" y2="256.04" stroke="#444" stroke-width="1"/>
<line x1="348.80" y1="256.04" x2="345.80" y2="256.04" stroke="#444" stroke-width="1"/>
<line x1="189.40" y1="252.27" x2="192.40" y2="252.27" stroke="#444" stroke-width="1"/>
<line x1="348.80" y1="252.27" x2="345.80" y2="252.27" stroke="#444" stroke-width="1"/>
<line x1="189.40" y1="249.19" x2="192.40" y2="249.19" stroke="#444" stroke-width="1"/>
<line x1="348.80" y1="249.19" x2="345.80" y2="249.19" stroke="#444" stroke-width="1"/>
<line x1="189.40" y1="246.58" x2="192.40" y2="246.58" stroke="#444" stroke-width="1"/>
<line x1="348.80" y1="246.58" x2="345.80" y2="246.58" stroke="#444" stroke-width="1"/>
<line x1="189.40" y1="244.32" x2="192.40" y2="244.32" stroke="#444" stroke-width="1"/>
<line x1="348.80" y1="244.32" x2="345.80" y2="244.32" stroke="#444" stroke-width="1"/>
<line x1="189.40" y1="242.33" x2="192.40" y2="242.33" stroke="#444" stroke-width="1"/>
<line x1="348.80" y1="242.33" x2="345.80" y2="242.33" stroke="#444" stroke-width="1"/>
<line x1="189.40" y1="240.55" x2="195.40" y2="240.55" stroke="#7a7a7a" stroke-width="1.3"/>
<line x1="348.80" y1="240.55" x2="342.80" y2="240.55" stroke="#7a7a7a" stroke-width="1.3"/>
<line x1="189.40" y1="228.83" x2="192.40" y2="228.83" stroke="#444" stroke-width="1"/>
<line x1="348.80" y1="228.83" x2="345.80" y2="228.83" stroke="#444" stroke-width="1"/>
<line x1="189.40" y1="221.98" x2="192.40" y2="221.98" stroke="#444" stroke-width="1"/>
<line x1="348.80" y1="221.98" x2="345.80" y2="221.98" stroke="#444" stroke-width="1"/>
<line x1="189.40" y1="217.11" x2="192.40" y2="217.11" stroke="#444" stroke-width="1"/>
<line x1="348.80" y1="217.11" x2="345.80" y2="217.11" stroke="#444" stroke-width="1"/>
<line x1="189.40" y1="213.34" x2="192.40" y2="213.34" stroke="#444" stroke-width="1"/>
<line x1="348.80" y1="213.34" x2="345.80" y2="213.34" stroke="#444" stroke-width="1"/>
<line x1="189.40" y1="210.26" x2="192.40" y2="210.26" stroke="#444" stroke-width="1"/>
<line x1="348.80" y1="210.26" x2="345.80" y2="210.26" stroke="#444" stroke-width="1"/>
<line x1="189.40" y1="207.65" x2="192.40" y2="207.65" stroke="#444" stroke-width="1"/>
<line x1="348.80" y1="207.65" x2="345.80" y2="207.65" stroke="#444" stroke-width="1"/>
<line x1="189.40" y1="205.40" x2="192.40" y2="205.40" stroke="#444" stroke-width="1"/>
<line x1="348.80" y1="205.40" x2="345.80" y2="205.40" stroke="#444" stroke-width="1"/>
<line x1="189.40" y1="203.41" x2="192.40" y2="203.41" stroke="#444" stroke-width="1"/>
<line x1="348.80" y1="203.41" x2="345.80" y2="203.41" stroke="#444" stroke-width="1"/>
<line x1="189.40" y1="201.62" x2="195.40" y2="201.62" stroke="#7a7a7a" stroke-width="1.3"/>
<line x1="348.80" y1="201.62" x2="342.80" y2="201.62" stroke="#7a7a7a" stroke-width="1.3"/>
<line x1="189.40" y1="189.91" x2="192.40" y2="189.91" stroke="#444" stroke-width="1"/>
<line x1="348.80" y1="189.91" x2="345.80" y2="189.91" stroke="#444" stroke-width="1"/>
<line x1="189.40" y1="183.05" x2="192.40" y2="183.05" stroke="#444" stroke-width="1"/>
<line x1="348.80" y1="183.05" x2="345.80" y2="183.05" stroke="#444" stroke-width="1"/>
<line x1="189.40" y1="178.19" x2="192.40" y2="178.19" stroke="#444" stroke-width="1"/>
<line x1="348.80" y1="178.19" x2="345.80" y2="178.19" stroke="#444" stroke-width="1"/>
<line x1="189.40" y1="174.42" x2="192.40" y2="174.42" stroke="#444" stroke-width="1"/>
<line x1="348.80" y1="174.42" x2="345.80" y2="174.42" stroke="#444" stroke-width="1"/>
<line x1="189.40" y1="171.34" x2="192.40" y2="171.34" stroke="#444" stroke-width="1"/>
<line x1="348.80" y1="171.34" x2="345.80" y2="171.34" stroke="#444" stroke-width="1"/>
<line x1="189.40" y1="168.73" x2="192.40" y2="168.73" stroke="#444" stroke-width="1"/>
<line x1="348.80" y1="168.73" x2="345.80" y2="168.73" stroke="#444" stroke-width="1"/>
<line x1="189.40" y1="166.47" x2="192.40" y2="166.47" stroke="#444" stroke-width="1"/>
<line x1="348.80" y1="166.47" x2="345.80" y2="166.47" stroke="#444" stroke-width="1"/>
<line x1="189.40" y1="164.48" x2="192.40" y2="164.48" stroke="#444" stroke-width="1"/>
<line x1="348.80" y1="164.48" x2="345.80" y2="164.48" stroke="#444" stroke-width="1"/>
<line x1="189.40" y1="162.70" x2="195.40" y2="162.70" stroke="#7a7a7a" stroke-width="1.3"/>
<line x1="348.80" y1="162.70" x2="342.80" y2="162.70" stroke="#7a7a7a" stroke-width="1.3"/>
<line x1="189.40" y1="150.98" x2="192.40" y2="150.98" stroke="#444" stroke-width="1"/>
<line x1="348.80" y1="150.98" x2="345.80" y2="150.98" stroke="#444" stroke-width="1"/>
<line x1="189.40" y1="144.13" x2="192.40" y2="144.13" stroke="#444" stroke-width="1"/>
<line x1="348.80" y1="144.13" x2="345.80" y2="144.13" stroke="#444" stroke-width="1"/>
<line x1="189.40" y1="139.26" x2="192.40" y2="139.26" stroke="#444" stroke-width="1"/>
<line x1="348.80" y1="139.26" x2="345.80" y2="139.26" stroke="#444" stroke-width="1"/>
<line x1="189.40" y1="135.49" x2="192.40" y2="135.49" stroke="#444" stroke-width="1"/>
<line x1="348.80" y1="135.49" x2="345.80" y2="135.49" stroke="#444" stroke-width="1"/>
<line x1="189.40" y1="132.41" x2="192.40" y2="132.41" stroke="#444" stroke-width="1"/>
<line x1="348.80" y1="132.41" x2="345.80" y2="132.41" stroke="#444" stroke-width="1"/>
<line x1="189.40" y1="129.80" x2="192.40" y2="129.80" stroke="#444" stroke-width="1"/>
<line x1="348.80" y1="129.80" x2="345.80" y2="129.80" stroke="#444" stroke-width="1"/>
<line x1="189.40" y1="127.55" x2="192.40" y2="127.55" stroke="#444" stroke-width="1"/>
<line x1="348.80" y1="127.55" x2="345.80" y2="127.55" stroke="#444" stroke-width="1"/>
<line x1="189.40" y1="125.56" x2="192.40" y2="125.56" stroke="#444" stroke-width="1"/>
<line x1="348.80" y1="125.56" x2="345.80" y2="125.56" stroke="#444" stroke-width="1"/>
<line x1="189.40" y1="123.77" x2="195.40" y2="123.77" stroke="#7a7a7a" stroke-width="1.3"/>
<line x1="348.80" y1="123.77" x2="342.80" y2="123.77" stroke="#7a7a7a" stroke-width="1.3"/>
<line x1="189.40" y1="112.06" x2="192.40" y2="112.06" stroke="#444" stroke-width="1"/>
<line x1="348.80" y1="112.06" x2="345.80" y2="112.06" stroke="#444" stroke-width="1"/>
<line x1="189.40" y1="105.20" x2="192.40" y2="105.20" stroke="#444" stroke-width="1"/>
<line x1="348.80" y1="105.20" x2="345.80" y2="105.20" stroke="#444" stroke-width="1"/>
<line x1="189.40" y1="100.34" x2="192.40" y2="100.34" stroke="#444" stroke-width="1"/>
<line x1="348.80" y1="100.34" x2="345.80" y2="100.34" stroke="#444" stroke-width="1"/>
<line x1="189.40" y1="96.57" x2="192.40" y2="96.57" stroke="#444" stroke-width="1"/>
<line x1="348.80" y1="96.57" x2="345.80" y2="96.57" stroke="#444" stroke-width="1"/>
<line x1="189.40" y1="93.49" x2="192.40" y2="93.49" stroke="#444" stroke-width="1"/>
<line x1="348.80" y1="93.49" x2="345.80" y2="93.49" stroke="#444" stroke-width="1"/>
<line x1="189.40" y1="90.88" x2="192.40" y2="90.88" stroke="#444" stroke-width="1"/>
<line x1="348.80" y1="90.88" x2="345.80" y2="90.88" stroke="#444" stroke-width="1"/>
<line x1="189.40" y1="88.62" x2="192.40" y2="88.62" stroke="#444" stroke-width="1"/>
<line x1="348.80" y1="88.62" x2="345.80" y2="88.62" stroke="#444" stroke-width="1"/>
<line x1="189.40" y1="86.63" x2="192.40" y2="86.63" stroke="#444" stroke-width="1"/>
<line x1="348.80" y1="86.63" x2="345.80" y2="86.63" stroke="#444" stroke-width="1"/>
<line x1="189.40" y1="84.85" x2="195.40" y2="84.85" stroke="#7a7a7a" stroke-width="1.3"/>
<line x1="348.80" y1="84.85" x2="342.80" y2="84.85" stroke="#7a7a7a" stroke-width="1.3"/>
<line x1="189.40" y1="73.13" x2="192.40" y2="73.13" stroke="#444" stroke-width="1"/>
<line x1="348.80" y1="73.13" x2="345.80" y2="73.13" stroke="#444" stroke-width="1"/>
<line x1="189.40" y1="66.28" x2="192.40" y2="66.28" stroke="#444" stroke-width="1"/>
<line x1="348.80" y1="66.28" x2="345.80" y2="66.28" stroke="#444" stroke-width="1"/>
<line x1="189.40" y1="61.41" x2="192.40" y2="61.41" stroke="#444" stroke-width="1"/>
<line x1="348.80" y1="61.41" x2="345.80" y2="61.41" stroke="#444" stroke-width="1"/>
<line x1="189.40" y1="57.64" x2="192.40" y2="57.64" stroke="#444" stroke-width="1"/>
<line x1="348.80" y1="57.64" x2="345.80" y2="57.64" stroke="#444" stroke-width="1"/>
<line x1="189.40" y1="54.56" x2="192.40" y2="54.56" stroke="#444" stroke-width="1"/>
<line x1="348.80" y1="54.56" x2="345.80" y2="54.56" stroke="#444" stroke-width="1"/>
<line x1="189.40" y1="51.95" x2="192.40" y2="51.95" stroke="#444" stroke-width="1"/>
<line x1="348.80" y1="51.95" x2="345.80" y2="51.95" stroke="#444" stroke-width="1"/>
<line x1="189.40" y1="49.70" x2="192.40" y2="49.70" stroke="#444" stroke-width="1"/>
<line x1="348.80" y1="49.70" x2="345.80" y2="49.70" stroke="#444" stroke-width="1"/>
<line x1="189.40" y1="47.71" x2="192.40" y2="47.71" stroke="#444" stroke-width="1"/>
<line x1="348.80" y1="47.71" x2="345.80" y2="47.71" stroke="#444" stroke-width="1"/>
<line x1="189.40" y1="45.92" x2="195.40" y2="45.92" stroke="#7a7a7a" stroke-width="1.3"/>
<line x1="348.80" y1="45.92" x2="342.80" y2="45.92" stroke="#7a7a7a" stroke-width="1.3"/>
<line x1="189.40" y1="34.21" x2="192.40" y2="34.21" stroke="#444" stroke-width="1"/>
<line x1="348.80" y1="34.21" x2="345.80" y2="34.21" stroke="#444" stroke-width="1"/>
<line x1="189.40" y1="27.35" x2="192.40" y2="27.35" stroke="#444" stroke-width="1"/>
<line x1="348.80" y1="27.35" x2="345.80" y2="27.35" stroke="#444" stroke-width="1"/>
<line x1="189.40" y1="22.49" x2="192.40" y2="22.49" stroke="#444" stroke-width="1"/>
<line x1="348.80" y1="22.49" x2="345.80" y2="22.49" stroke="#444" stroke-width="1"/>
<line x1="189.40" y1="18.72" x2="192.40" y2="18.72" stroke="#444" stroke-width="1"/>
<line x1="348.80" y1="18.72" x2="345.80" y2="18.72" stroke="#444" stroke-width="1"/>
<line x1="189.40" y1="15.64" x2="192.40" y2="15.64" stroke="#444" stroke-width="1"/>
<line x1="348.80" y1="15.64" x2="345.80" y2="15.64" stroke="#444" stroke-width="1"/>
<line x1="189.40" y1="13.03" x2="192.40" y2="13.03" stroke="#444" stroke-width="1"/>
<line x1="348.80" y1="13.03" x2="345.80" y2="13.03" stroke="#444" stroke-width="1"/>
<line x1="189.40" y1="10.77" x2="192.40" y2="10.77" stroke="#444" stroke-width="1"/>
<line x1="348.80" y1="10.77" x2="345.80" y2="10.77" stroke="#444" stroke-width="1"/>
<line x1="189.40" y1="8.78" x2="192.40" y2="8.78" stroke="#444" stroke-width="1"/>
<line x1="348.80" y1="8.78" x2="345.80" y2="8.78" stroke="#444" stroke-width="1"/>
<rect x="30.30" y="7.00" width="318.50" height="311.40" fill="none" stroke="#808080" stroke-width="1.1"/>
<line x1="189.30" y1="7.00" x2="189.30" y2="318.40" stroke="#808080" stroke-width="1.1"/>
<ellipse cx="188.3" cy="7.6" rx="2.0" ry="1.6" fill="#8a1a8a"/>
<ellipse cx="347.9" cy="7.6" rx="1.6" ry="1.6" fill="#8a1a8a"/>
</g>
<g filter="url(#bl2)">
<text transform="translate(40.50,24.00) scale(0.75,1) rotate(0)" font-family="Liberation Serif" font-size="12" fill="#000" stroke="#000" stroke-width="0.55" >M432</text>
<text transform="translate(199.90,24.00) scale(0.75,1) rotate(0)" font-family="Liberation Serif" font-size="12" fill="#000" stroke="#000" stroke-width="0.55" >M431</text>
<text transform="translate(94.00,56.60) scale(0.68,1) rotate(0)" font-family="Liberation Serif" font-size="11" fill="#000" stroke="#000" stroke-width="0.55" ><tspan>JH</tspan><tspan font-size="7.9" dy="3.41">2</tspan><tspan dy="-3.41">O</tspan></text>
<text transform="translate(93.00,90.00) scale(0.68,1) rotate(0)" font-family="Liberation Serif" font-size="11" fill="#000" stroke="#000" stroke-width="0.55" ><tspan>JH</tspan><tspan font-size="7.9" dy="3.41">2</tspan><tspan dy="-3.41">CO</tspan></text>
<text transform="translate(110.50,110.80) scale(0.68,1) rotate(0)" font-family="Liberation Serif" font-size="11" fill="#000" stroke="#000" stroke-width="0.55" ><tspan>JCH</tspan><tspan font-size="7.9" dy="3.41">3</tspan><tspan dy="-3.41">OH</tspan></text>
<text transform="translate(147.90,129.00) scale(0.68,1) rotate(0)" font-family="Liberation Serif" font-size="11" fill="#000" stroke="#000" stroke-width="0.55" ><tspan>JCH</tspan><tspan font-size="7.9" dy="3.41">3</tspan><tspan dy="-3.41">CHO</tspan></text>
<text transform="translate(135.00,155.90) scale(0.68,1) rotate(-14.2)" font-family="Liberation Serif" font-size="10.3" fill="#000" stroke="#000" stroke-width="0.3" ><tspan>JC</tspan><tspan font-size="7.4" dy="3.19">2</tspan><tspan dy="-3.19">H</tspan><tspan font-size="7.4" dy="3.19">5</tspan><tspan dy="-3.19">OH</tspan></text>
<text transform="translate(94.30,207.00) scale(0.68,1) rotate(-37)" font-family="Liberation Serif" font-size="11" fill="#000" stroke="#000" stroke-width="0.3" ><tspan>JCH</tspan><tspan font-size="7.9" dy="3.41">3</tspan><tspan dy="-3.41">OCH</tspan><tspan font-size="7.9" dy="3.41">3</tspan></text>
<text transform="translate(43.00,206.50) scale(0.68,1) rotate(0)" font-family="Liberation Serif" font-size="11" fill="#000" stroke="#000" stroke-width="0.55" ><tspan>JCH</tspan><tspan font-size="7.9" dy="3.41">2</tspan><tspan dy="-3.41">OH</tspan></text>
<text transform="translate(149.30,178.60) scale(0.68,1) rotate(0)" font-family="Liberation Serif" font-size="11" fill="#000" stroke="#000" stroke-width="0.55" ><tspan>JCH</tspan><tspan font-size="7.9" dy="3.41">2</tspan><tspan dy="-3.41">OHCHO</tspan></text>
<text transform="translate(149.30,197.90) scale(0.68,1) rotate(0)" font-family="Liberation Serif" font-size="11" fill="#000" stroke="#000" stroke-width="0.55" ><tspan>JHCOOCH</tspan><tspan font-size="7.9" dy="3.41">3</tspan></text>
<text transform="translate(38.80,250.00) scale(0.68,1) rotate(-43)" font-family="Liberation Serif" font-size="11" fill="#000" stroke="#000" stroke-width="0.3" ><tspan>JCH</tspan><tspan font-size="7.9" dy="3.41">2</tspan><tspan dy="-3.41">O</tspan></text>
<text transform="translate(248.90,57.10) scale(0.68,1) rotate(0)" font-family="Liberation Serif" font-size="11" fill="#000" stroke="#000" stroke-width="0.55" ><tspan>JH</tspan><tspan font-size="7.9" dy="3.41">2</tspan><tspan dy="-3.41">O</tspan></text>
<text transform="translate(246.50,93.10) scale(0.68,1) rotate(0)" font-family="Liberation Serif" font-size="11" fill="#000" stroke="#000" stroke-width="0.55" ><tspan>JH</tspan><tspan font-size="7.9" dy="3.41">2</tspan><tspan dy="-3.41">CO</tspan></text>
<text transform="translate(296.10,95.00) scale(0.68,1) rotate(0)" font-family="Liberation Serif" font-size="11" fill="#000" stroke="#000" stroke-width="0.55" ><tspan>JCH</tspan><tspan font-size="7.9" dy="3.41">3</tspan><tspan dy="-3.41">OH</tspan></text>
<text transform="translate(296.10,130.00) scale(0.68,1) rotate(0)" font-family="Liberation Serif" font-size="11" fill="#000" stroke="#000" stroke-width="0.55" ><tspan>JCH</tspan><tspan font-size="7.9" dy="3.41">3</tspan><tspan dy="-3.41">CHO</tspan></text>
<text transform="translate(259.80,185.80) scale(0.68,1) rotate(-26.5)" font-family="Liberation Serif" font-size="10.5" fill="#000" stroke="#000" stroke-width="0.3" ><tspan>JC</tspan><tspan font-size="7.6" dy="3.25">2</tspan><tspan dy="-3.25">H</tspan><tspan font-size="7.6" dy="3.25">5</tspan><tspan dy="-3.25">OH</tspan></text>
<text transform="translate(201.00,209.00) scale(0.68,1) rotate(-14.5)" font-family="Liberation Serif" font-size="11" fill="#000" stroke="#000" stroke-width="0.3" ><tspan>JCH</tspan><tspan font-size="7.9" dy="3.41">2</tspan><tspan dy="-3.41">OH</tspan></text>
<text transform="translate(224.00,285.00) scale(0.68,1) rotate(-56.8)" font-family="Liberation Serif" font-size="10.7" fill="#000" stroke="#000" stroke-width="0.3" ><tspan>JCH</tspan><tspan font-size="7.7" dy="3.32">2</tspan><tspan dy="-3.32">OHCHO</tspan></text>
<text transform="translate(268.60,270.40) scale(0.68,1) rotate(0)" font-family="Liberation Serif" font-size="11" fill="#000" stroke="#000" stroke-width="0.55" ><tspan>JCH</tspan><tspan font-size="7.9" dy="3.41">3</tspan><tspan dy="-3.41">O</tspan></text>
<text transform="translate(307.40,310.50) scale(0.68,1) rotate(0)" font-family="Liberation Serif" font-size="11" fill="#000" stroke="#000" stroke-width="0.55" ><tspan>JHCOOCH</tspan><tspan font-size="7.9" dy="3.41">3</tspan></text>
<text transform="translate(172.40,347.70) scale(0.75,1) rotate(0)" font-family="Liberation Serif" font-size="12" fill="#000" stroke="#000" stroke-width="0.55" >Time (yrs)</text>
<text transform="translate(7.00,218.00) scale(0.75,1) rotate(-90)" font-family="Liberation Serif" font-size="11.5" fill="#000" stroke="#000" stroke-width="0.55" font-weight="bold">Fractional Abundance</text>
<text transform="translate(11.06,325.40) scale(0.63,1) rotate(0)" font-family="Liberation Serif" font-size="12.6" fill="#000" stroke="#000" stroke-width="0.55" >10</text>
<text transform="translate(19.50,317.80) scale(0.76,1)" font-family="Liberation Serif" font-size="7.6" fill="#000" stroke="#000" stroke-width="0.2">-12</text>
<text transform="translate(11.06,286.47) scale(0.63,1) rotate(0)" font-family="Liberation Serif" font-size="12.6" fill="#000" stroke="#000" stroke-width="0.55" >10</text>
<text transform="translate(19.50,278.87) scale(0.76,1)" font-family="Liberation Serif" font-size="7.6" fill="#000" stroke="#000" stroke-width="0.2">-11</text>
<text transform="translate(11.06,247.55) scale(0.63,1) rotate(0)" font-family="Liberation Serif" font-size="12.6" fill="#000" stroke="#000" stroke-width="0.55" >10</text>
<text transform="translate(19.50,239.95) scale(0.76,1)" font-family="Liberation Serif" font-size="7.6" fill="#000" stroke="#000" stroke-width="0.2">-10</text>
<text transform="translate(13.95,208.62) scale(0.63,1) rotate(0)" font-family="Liberation Serif" font-size="12.6" fill="#000" stroke="#000" stroke-width="0.55" >10</text>
<text transform="translate(22.39,201.03) scale(0.76,1)" font-family="Liberation Serif" font-size="7.6" fill="#000" stroke="#000" stroke-width="0.2">-9</text>
<text transform="translate(13.95,169.70) scale(0.63,1) rotate(0)" font-family="Liberation Serif" font-size="12.6" fill="#000" stroke="#000" stroke-width="0.55" >10</text>
<text transform="translate(22.39,162.10) scale(0.76,1)" font-family="Liberation Serif" font-size="7.6" fill="#000" stroke="#000" stroke-width="0.2">-8</text>
<text transform="translate(13.95,130.77) scale(0.63,1) rotate(0)" font-family="Liberation Serif" font-size="12.6" fill="#000" stroke="#000" stroke-width="0.55" >10</text>
<text transform="translate(22.39,123.17) scale(0.76,1)" font-family="Liberation Serif" font-size="7.6" fill="#000" stroke="#000" stroke-width="0.2">-7</text>
<text transform="translate(13.95,91.85) scale(0.63,1) rotate(0)" font-family="Liberation Serif" font-size="12.6" fill="#000" stroke="#000" stroke-width="0.55" >10</text>
<text transform="translate(22.39,84.25) scale(0.76,1)" font-family="Liberation Serif" font-size="7.6" fill="#000" stroke="#000" stroke-width="0.2">-6</text>
<text transform="translate(13.95,52.92) scale(0.63,1) rotate(0)" font-family="Liberation Serif" font-size="12.6" fill="#000" stroke="#000" stroke-width="0.55" >10</text>
<text transform="translate(22.39,45.32) scale(0.76,1)" font-family="Liberation Serif" font-size="7.6" fill="#000" stroke="#000" stroke-width="0.2">-5</text>
<text transform="translate(13.95,14.00) scale(0.63,1) rotate(0)" font-family="Liberation Serif" font-size="12.6" fill="#000" stroke="#000" stroke-width="0.55" >10</text>
<text transform="translate(22.39,6.40) scale(0.76,1)" font-family="Liberation Serif" font-size="7.6" fill="#000" stroke="#000" stroke-width="0.2">-4</text>
<text transform="translate(24.97,335.20) scale(0.68,1) rotate(0)" font-family="Liberation Serif" font-size="12.6" fill="#000" stroke="#000" stroke-width="0.55" >10</text>
<text transform="translate(33.64,328.40) scale(0.68,1) rotate(0)" font-family="Liberation Serif" font-size="8.5" fill="#000" stroke="#000" stroke-width="0.55" >2</text>
<text transform="translate(73.04,335.20) scale(0.68,1) rotate(0)" font-family="Liberation Serif" font-size="12.6" fill="#000" stroke="#000" stroke-width="0.55" >10</text>
<text transform="translate(81.71,328.40) scale(0.68,1) rotate(0)" font-family="Liberation Serif" font-size="8.5" fill="#000" stroke="#000" stroke-width="0.55" >3</text>
<text transform="translate(121.11,335.20) scale(0.68,1) rotate(0)" font-family="Liberation Serif" font-size="12.6" fill="#000" stroke="#000" stroke-width="0.55" >10</text>
<text transform="translate(129.78,328.40) scale(0.68,1) rotate(0)" font-family="Liberation Serif" font-size="8.5" fill="#000" stroke="#000" stroke-width="0.55" >4</text>
<text transform="translate(169.18,335.20) scale(0.68,1) rotate(0)" font-family="Liberation Serif" font-size="12.6" fill="#000" stroke="#000" stroke-width="0.55" >10</text>
<text transform="translate(177.85,328.40) scale(0.68,1) rotate(0)" font-family="Liberation Serif" font-size="8.5" fill="#000" stroke="#000" stroke-width="0.55" >5</text>
<text transform="translate(184.07,335.20) scale(0.68,1) rotate(0)" font-family="Liberation Serif" font-size="12.6" fill="#000" stroke="#000" stroke-width="0.55" >10</text>
<text transform="translate(192.74,328.40) scale(0.68,1) rotate(0)" font-family="Liberation Serif" font-size="8.5" fill="#000" stroke="#000" stroke-width="0.55" >2</text>
<text transform="translate(232.27,335.20) scale(0.68,1) rotate(0)" font-family="Liberation Serif" font-size="12.6" fill="#000" stroke="#000" stroke-width="0.55" >10</text>
<text transform="translate(240.94,328.40) scale(0.68,1) rotate(0)" font-family="Liberation Serif" font-size="8.5" fill="#000" stroke="#000" stroke-width="0.55" >3</text>
<text transform="translate(280.47,335.20) scale(0.68,1) rotate(0)" font-family="Liberation Serif" font-size="12.6" fill="#000" stroke="#000" stroke-width="0.55" >10</text>
<text transform="translate(289.14,328.40) scale(0.68,1) rotate(0)" font-family="Liberation Serif" font-size="8.5" fill="#000" stroke="#000" stroke-width="0.55" >4</text>
<text transform="translate(328.67,335.20) scale(0.68,1) rotate(0)" font-family="Liberation Serif" font-size="12.6" fill="#000" stroke="#000" stroke-width="0.55" >10</text>
<text transform="translate(337.34,328.40) scale(0.68,1) rotate(0)" font-family="Liberation Serif" font-size="8.5" fill="#000" stroke="#000" stroke-width="0.55" >5</text>
</g>
</svg></div>
</body></html>
